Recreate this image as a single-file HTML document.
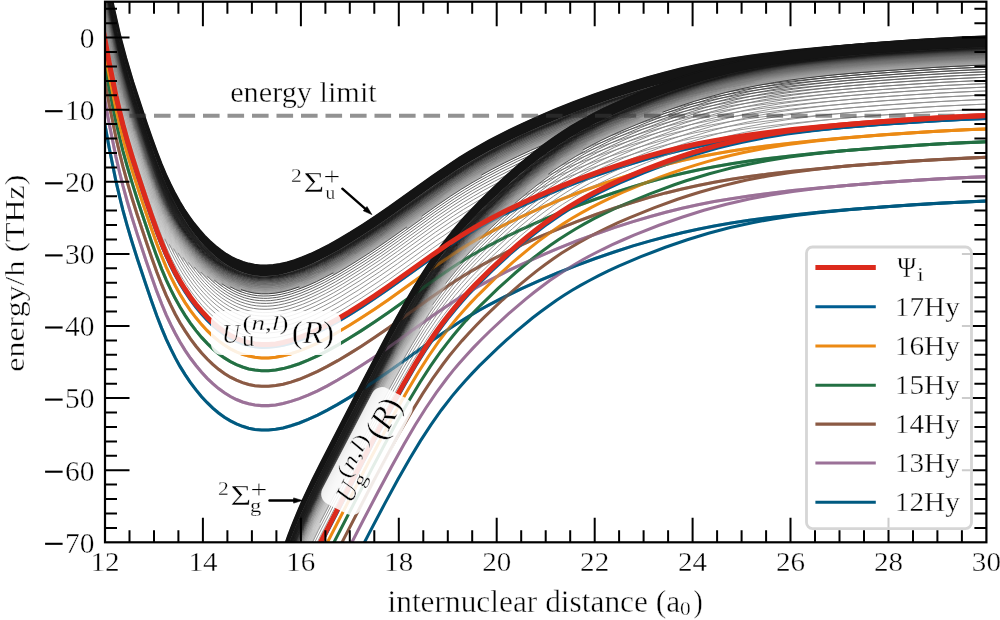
<!DOCTYPE html><html><head><meta charset="utf-8"><style>html,body{margin:0;padding:0;background:#fff;overflow:hidden}svg{display:block;will-change:transform}text{font-family:"Liberation Serif",serif;stroke:#fff;stroke-width:1.4px}</style></head><body>
<svg width="1000" height="620" viewBox="0 0 1000 620">
<rect width="1000" height="620" fill="#fff"/>
<defs><clipPath id="cp"><rect x="105" y="1.7" width="881.4" height="540.6"/></clipPath></defs>
<g clip-path="url(#cp)">
<g stroke-linejoin="round">
<path d="M96.7,-20.5 102.2,12.8 102.2,17.8 96.7,-15.4Z" fill="#909090" stroke="#909090" stroke-width="0.5"/>
<path d="M101.9,11.0 105.8,33.4 105.8,38.5 101.9,16.0Z" fill="#969696" stroke="#969696" stroke-width="0.5"/>
<path d="M105.5,31.7 109.2,51.2 109.2,56.3 105.5,36.8Z" fill="#9c9c9c" stroke="#9c9c9c" stroke-width="0.5"/>
<path d="M108.9,49.6 112.8,69.4 112.8,74.5 108.9,54.7Z" fill="#a2a2a2" stroke="#a2a2a2" stroke-width="0.5"/>
<path d="M112.5,68.0 116.2,85.0 116.2,90.0 112.5,73.0Z" fill="#a8a8a8" stroke="#a8a8a8" stroke-width="0.5"/>
<path d="M115.9,83.6 119.5,99.4 119.5,104.5 115.9,88.7Z" fill="#aeaeae" stroke="#aeaeae" stroke-width="0.5"/>
<path d="M119.2,98.2 123.1,113.9 123.1,119.0 119.2,103.2Z" fill="#b4b4b4" stroke="#b4b4b4" stroke-width="0.5"/>
<path d="M122.8,112.8 127.7,130.5 127.7,135.5 122.8,117.8Z" fill="#bababa" stroke="#bababa" stroke-width="0.5"/>
<path d="M127.4,129.4 135.3,155.4 135.3,160.4 127.4,134.5Z" fill="#c0c0c0" stroke="#c0c0c0" stroke-width="0.5"/>
<path d="M135.0,154.4 145.3,186.0 153.5,209.8 153.5,214.8 145.3,191.1 135.0,159.5Z" fill="#c6c6c6" stroke="#c6c6c6" stroke-width="0.5"/>
<path d="M153.2,208.9 158.1,222.1 162.6,233.7 162.6,238.7 158.1,227.2 153.2,214.0Z" fill="#cccccc" stroke="#cccccc" stroke-width="0.5"/>
<path d="M162.3,232.9 165.1,239.4 165.1,244.5 162.3,238.0Z" fill="#d2d2d2" stroke="#d2d2d2" stroke-width="0.5"/>
<path d="M97.3,-21.4 102.8,11.6 108.0,40.2 108.0,44.9 102.8,16.3 97.3,-16.7Z" fill="#909090" stroke="#909090" stroke-width="0.5"/>
<path d="M107.7,38.5 111.3,57.3 111.3,62.0 107.7,43.3Z" fill="#969696" stroke="#969696" stroke-width="0.5"/>
<path d="M111.0,55.8 114.3,71.9 114.3,76.6 111.0,60.5Z" fill="#9c9c9c" stroke="#9c9c9c" stroke-width="0.5"/>
<path d="M114.0,70.5 117.4,85.7 117.4,90.4 114.0,75.2Z" fill="#a2a2a2" stroke="#a2a2a2" stroke-width="0.5"/>
<path d="M117.1,84.3 120.4,98.5 120.4,103.2 117.1,89.0Z" fill="#a8a8a8" stroke="#a8a8a8" stroke-width="0.5"/>
<path d="M120.1,97.2 124.1,112.6 124.1,117.4 120.1,101.9Z" fill="#aeaeae" stroke="#aeaeae" stroke-width="0.5"/>
<path d="M123.8,111.5 128.3,127.9 128.3,132.6 123.8,116.2Z" fill="#b4b4b4" stroke="#b4b4b4" stroke-width="0.5"/>
<path d="M128.0,126.8 135.3,150.7 135.3,155.4 128.0,131.5Z" fill="#bababa" stroke="#bababa" stroke-width="0.5"/>
<path d="M135.0,149.7 144.7,179.5 152.6,202.5 152.6,207.2 144.7,184.2 135.0,154.4Z" fill="#c0c0c0" stroke="#c0c0c0" stroke-width="0.5"/>
<path d="M152.3,201.6 157.2,215.0 161.4,226.0 161.4,230.7 157.2,219.7 152.3,206.4Z" fill="#c6c6c6" stroke="#c6c6c6" stroke-width="0.5"/>
<path d="M161.1,225.2 164.8,234.0 168.4,242.2 168.4,246.9 164.8,238.7 161.1,229.9Z" fill="#cccccc" stroke="#cccccc" stroke-width="0.5"/>
<path d="M168.1,241.6 169.6,244.8 169.6,249.6 168.1,246.3Z" fill="#d2d2d2" stroke="#d2d2d2" stroke-width="0.5"/>
<path d="M98.2,-20.1 105.8,24.3 109.5,43.7 113.1,61.8 113.1,66.2 109.5,48.1 105.8,28.7 98.2,-15.7Z" fill="#909090" stroke="#909090" stroke-width="0.5"/>
<path d="M112.8,60.3 116.2,75.9 116.2,80.3 112.8,64.7Z" fill="#969696" stroke="#969696" stroke-width="0.5"/>
<path d="M115.9,74.5 118.9,87.8 118.9,92.2 115.9,78.9Z" fill="#9c9c9c" stroke="#9c9c9c" stroke-width="0.5"/>
<path d="M118.6,86.5 121.6,98.9 121.6,103.3 118.6,90.9Z" fill="#a2a2a2" stroke="#a2a2a2" stroke-width="0.5"/>
<path d="M121.3,97.7 125.0,111.6 125.0,116.0 121.3,102.1Z" fill="#a8a8a8" stroke="#a8a8a8" stroke-width="0.5"/>
<path d="M124.7,110.5 129.2,126.6 129.2,131.0 124.7,114.9Z" fill="#aeaeae" stroke="#aeaeae" stroke-width="0.5"/>
<path d="M128.9,125.6 136.5,150.1 136.5,154.5 128.9,129.9Z" fill="#b4b4b4" stroke="#b4b4b4" stroke-width="0.5"/>
<path d="M136.2,149.1 145.3,176.9 152.6,198.1 152.6,202.5 145.3,181.3 136.2,153.5Z" fill="#bababa" stroke="#bababa" stroke-width="0.5"/>
<path d="M152.3,197.3 160.5,219.3 160.5,223.7 152.3,201.6Z" fill="#c0c0c0" stroke="#c0c0c0" stroke-width="0.5"/>
<path d="M160.2,218.5 167.2,235.2 167.2,239.6 160.2,222.9Z" fill="#c6c6c6" stroke="#c6c6c6" stroke-width="0.5"/>
<path d="M166.9,234.5 173.9,249.1 173.9,253.5 166.9,238.9Z" fill="#cccccc" stroke="#cccccc" stroke-width="0.5"/>
<path d="M98.9,-20.4 103.1,4.9 107.1,26.8 111.3,48.8 115.3,67.7 115.3,71.8 111.3,52.9 107.1,30.9 103.1,9.0 98.9,-16.3Z" fill="#8a8a8a" stroke="#8a8a8a" stroke-width="0.5"/>
<path d="M114.9,66.3 117.7,78.5 117.7,82.6 114.9,70.4Z" fill="#909090" stroke="#909090" stroke-width="0.5"/>
<path d="M117.4,77.2 120.1,88.8 120.1,92.8 117.4,81.3Z" fill="#969696" stroke="#969696" stroke-width="0.5"/>
<path d="M119.8,87.5 122.8,99.6 122.8,103.7 119.8,91.6Z" fill="#9c9c9c" stroke="#9c9c9c" stroke-width="0.5"/>
<path d="M122.5,98.4 126.2,112.0 126.2,116.0 122.5,102.5Z" fill="#a2a2a2" stroke="#a2a2a2" stroke-width="0.5"/>
<path d="M125.9,110.9 130.4,126.6 130.4,130.7 125.9,114.9Z" fill="#a8a8a8" stroke="#a8a8a8" stroke-width="0.5"/>
<path d="M130.1,125.6 139.2,154.4 139.2,158.5 130.1,129.7Z" fill="#aeaeae" stroke="#aeaeae" stroke-width="0.5"/>
<path d="M138.9,153.5 146.8,177.4 153.2,195.7 153.2,199.8 146.8,181.4 138.9,157.6Z" fill="#b4b4b4" stroke="#b4b4b4" stroke-width="0.5"/>
<path d="M152.9,194.9 160.5,215.2 160.5,219.3 152.9,199.0Z" fill="#bababa" stroke="#bababa" stroke-width="0.5"/>
<path d="M160.2,214.4 166.3,229.1 166.3,233.1 160.2,218.5Z" fill="#c0c0c0" stroke="#c0c0c0" stroke-width="0.5"/>
<path d="M166.0,228.4 172.6,242.6 172.6,246.7 166.0,232.5Z" fill="#c6c6c6" stroke="#c6c6c6" stroke-width="0.5"/>
<path d="M172.3,242.0 178.4,253.5 178.4,257.5 172.3,246.1Z" fill="#cccccc" stroke="#cccccc" stroke-width="0.5"/>
<path d="M99.5,-20.5 104.6,9.7 109.5,35.8 114.3,59.7 119.2,81.2 119.2,85.0 114.3,63.5 109.5,39.6 104.6,13.5 99.5,-16.7Z" fill="#8a8a8a" stroke="#8a8a8a" stroke-width="0.5"/>
<path d="M118.9,79.9 121.6,91.1 121.6,94.9 118.9,83.7Z" fill="#909090" stroke="#909090" stroke-width="0.5"/>
<path d="M121.3,89.9 124.4,101.5 124.4,105.3 121.3,93.7Z" fill="#969696" stroke="#969696" stroke-width="0.5"/>
<path d="M124.1,100.4 127.7,113.5 127.7,117.3 124.1,104.2Z" fill="#9c9c9c" stroke="#9c9c9c" stroke-width="0.5"/>
<path d="M127.4,112.5 132.3,128.8 132.3,132.6 127.4,116.3Z" fill="#a2a2a2" stroke="#a2a2a2" stroke-width="0.5"/>
<path d="M132.0,127.8 144.1,165.4 144.1,169.2 132.0,131.6Z" fill="#a8a8a8" stroke="#a8a8a8" stroke-width="0.5"/>
<path d="M143.8,164.5 154.1,194.5 154.1,198.3 143.8,168.3Z" fill="#aeaeae" stroke="#aeaeae" stroke-width="0.5"/>
<path d="M153.8,193.6 160.8,212.2 160.8,216.0 153.8,197.4Z" fill="#b4b4b4" stroke="#b4b4b4" stroke-width="0.5"/>
<path d="M160.5,211.4 166.0,224.6 166.0,228.4 160.5,215.2Z" fill="#bababa" stroke="#bababa" stroke-width="0.5"/>
<path d="M165.7,223.9 171.7,237.0 171.7,240.8 165.7,227.7Z" fill="#c0c0c0" stroke="#c0c0c0" stroke-width="0.5"/>
<path d="M171.4,236.4 178.4,249.7 178.4,253.5 171.4,240.2Z" fill="#c6c6c6" stroke="#c6c6c6" stroke-width="0.5"/>
<path d="M178.1,249.1 183.3,257.9 183.3,261.7 178.1,252.9Z" fill="#cccccc" stroke="#cccccc" stroke-width="0.5"/>
<path d="M100.1,-20.3 105.5,11.2 110.7,38.5 116.2,64.5 121.3,86.3 121.3,89.9 116.2,68.0 110.7,42.0 105.5,14.8 100.1,-16.8Z" fill="#848484" stroke="#848484" stroke-width="0.5"/>
<path d="M121.0,85.1 123.8,95.7 123.8,99.3 121.0,88.7Z" fill="#8a8a8a" stroke="#8a8a8a" stroke-width="0.5"/>
<path d="M123.5,94.6 126.5,105.7 126.5,109.2 123.5,98.1Z" fill="#909090" stroke="#909090" stroke-width="0.5"/>
<path d="M126.2,104.6 129.8,117.2 129.8,120.8 126.2,108.2Z" fill="#969696" stroke="#969696" stroke-width="0.5"/>
<path d="M129.5,116.2 135.3,134.9 135.3,138.4 129.5,119.7Z" fill="#9c9c9c" stroke="#9c9c9c" stroke-width="0.5"/>
<path d="M135.0,133.9 148.7,175.4 148.7,178.9 135.0,137.5Z" fill="#a2a2a2" stroke="#a2a2a2" stroke-width="0.5"/>
<path d="M148.4,174.5 156.2,196.8 156.2,200.3 148.4,178.0Z" fill="#a8a8a8" stroke="#a8a8a8" stroke-width="0.5"/>
<path d="M155.9,196.0 161.7,210.9 161.7,214.5 155.9,199.5Z" fill="#aeaeae" stroke="#aeaeae" stroke-width="0.5"/>
<path d="M161.4,210.2 166.6,222.4 166.6,226.0 161.4,213.7Z" fill="#b4b4b4" stroke="#b4b4b4" stroke-width="0.5"/>
<path d="M166.3,221.7 171.7,233.5 171.7,237.0 166.3,225.3Z" fill="#bababa" stroke="#bababa" stroke-width="0.5"/>
<path d="M171.4,232.9 177.8,245.1 177.8,248.6 171.4,236.4Z" fill="#c0c0c0" stroke="#c0c0c0" stroke-width="0.5"/>
<path d="M177.5,244.5 181.2,250.9 185.1,257.2 185.1,260.7 181.2,254.4 177.5,248.0Z" fill="#c6c6c6" stroke="#c6c6c6" stroke-width="0.5"/>
<path d="M184.8,256.7 188.7,262.7 188.7,266.2 184.8,260.3Z" fill="#cccccc" stroke="#cccccc" stroke-width="0.5"/>
<path d="M100.7,-20.0 106.7,14.6 112.5,44.2 118.3,70.5 124.4,94.7 124.4,98.0 118.3,73.8 112.5,47.5 106.7,17.9 100.7,-16.7Z" fill="#787878" stroke="#787878" stroke-width="0.5"/>
<path d="M124.1,93.6 126.8,103.5 126.8,106.8 124.1,96.9Z" fill="#7e7e7e" stroke="#7e7e7e" stroke-width="0.5"/>
<path d="M126.5,102.4 129.8,114.0 129.8,117.2 126.5,105.7Z" fill="#848484" stroke="#848484" stroke-width="0.5"/>
<path d="M129.5,112.9 134.1,127.8 134.1,131.1 129.5,116.2Z" fill="#8a8a8a" stroke="#8a8a8a" stroke-width="0.5"/>
<path d="M133.8,126.8 145.6,163.1 145.6,166.4 133.8,130.1Z" fill="#909090" stroke="#909090" stroke-width="0.5"/>
<path d="M145.3,162.2 153.2,185.1 153.2,188.4 145.3,165.5Z" fill="#969696" stroke="#969696" stroke-width="0.5"/>
<path d="M152.9,184.3 158.7,199.9 158.7,203.2 152.9,187.6Z" fill="#9c9c9c" stroke="#9c9c9c" stroke-width="0.5"/>
<path d="M158.4,199.1 162.9,210.6 162.9,213.9 158.4,202.4Z" fill="#a2a2a2" stroke="#a2a2a2" stroke-width="0.5"/>
<path d="M162.6,209.9 167.2,220.5 167.2,223.8 162.6,213.2Z" fill="#a8a8a8" stroke="#a8a8a8" stroke-width="0.5"/>
<path d="M166.9,219.8 171.4,229.6 171.4,232.9 166.9,223.1Z" fill="#aeaeae" stroke="#aeaeae" stroke-width="0.5"/>
<path d="M171.1,228.9 176.6,239.6 176.6,242.9 171.1,232.2Z" fill="#b4b4b4" stroke="#b4b4b4" stroke-width="0.5"/>
<path d="M176.3,239.0 182.4,249.6 182.4,252.9 176.3,242.3Z" fill="#bababa" stroke="#bababa" stroke-width="0.5"/>
<path d="M182.1,249.1 189.4,260.3 189.4,263.5 182.1,252.4Z" fill="#c0c0c0" stroke="#c0c0c0" stroke-width="0.5"/>
<path d="M189.0,259.8 194.5,267.3 194.5,270.6 189.0,263.1Z" fill="#c6c6c6" stroke="#c6c6c6" stroke-width="0.5"/>
<path d="M101.3,-19.4 108.6,21.2 115.6,55.4 118.9,70.1 122.5,84.8 126.2,98.3 130.4,112.9 130.4,116.0 126.2,101.4 122.5,87.8 118.9,73.1 115.6,58.5 108.6,24.3 101.3,-16.4Z" fill="#727272" stroke="#727272" stroke-width="0.5"/>
<path d="M130.1,111.9 134.4,125.7 134.4,128.7 130.1,115.0Z" fill="#787878" stroke="#787878" stroke-width="0.5"/>
<path d="M134.1,124.7 144.4,156.5 144.4,159.5 134.1,127.8Z" fill="#7e7e7e" stroke="#7e7e7e" stroke-width="0.5"/>
<path d="M144.1,155.5 151.7,177.8 151.7,180.9 144.1,158.6Z" fill="#848484" stroke="#848484" stroke-width="0.5"/>
<path d="M151.4,176.9 156.9,192.1 156.9,195.1 151.4,180.0Z" fill="#8a8a8a" stroke="#8a8a8a" stroke-width="0.5"/>
<path d="M156.6,191.2 160.8,202.3 160.8,205.4 156.6,194.3Z" fill="#909090" stroke="#909090" stroke-width="0.5"/>
<path d="M160.5,201.6 164.4,211.2 164.4,214.3 160.5,204.6Z" fill="#969696" stroke="#969696" stroke-width="0.5"/>
<path d="M164.1,210.5 168.1,219.5 168.1,222.5 164.1,213.5Z" fill="#9c9c9c" stroke="#9c9c9c" stroke-width="0.5"/>
<path d="M167.8,218.8 171.7,227.1 171.7,230.2 167.8,221.8Z" fill="#a2a2a2" stroke="#a2a2a2" stroke-width="0.5"/>
<path d="M171.4,226.5 176.3,236.0 176.3,239.0 171.4,229.6Z" fill="#a8a8a8" stroke="#a8a8a8" stroke-width="0.5"/>
<path d="M176.0,235.4 181.2,244.5 181.2,247.6 176.0,238.4Z" fill="#aeaeae" stroke="#aeaeae" stroke-width="0.5"/>
<path d="M180.8,244.0 186.6,253.2 186.6,256.3 180.8,247.1Z" fill="#b4b4b4" stroke="#b4b4b4" stroke-width="0.5"/>
<path d="M186.3,252.7 193.9,263.5 193.9,266.5 186.3,255.8Z" fill="#bababa" stroke="#bababa" stroke-width="0.5"/>
<path d="M193.6,263.1 201.2,272.4 201.2,275.5 193.6,266.1Z" fill="#c0c0c0" stroke="#c0c0c0" stroke-width="0.5"/>
<path d="M101.9,-18.7 106.1,5.4 110.1,26.2 114.0,45.5 118.0,63.3 121.9,79.5 125.9,94.4 130.4,110.1 135.6,126.7 135.6,129.5 130.4,112.9 125.9,97.2 121.9,82.4 118.0,66.2 114.0,48.4 110.1,29.1 106.1,8.2 101.9,-15.8Z" fill="#666666" stroke="#666666" stroke-width="0.5"/>
<path d="M135.3,125.7 145.6,157.2 145.6,160.1 135.3,128.6Z" fill="#6c6c6c" stroke="#6c6c6c" stroke-width="0.5"/>
<path d="M145.3,156.3 151.7,175.0 151.7,177.8 145.3,159.2Z" fill="#727272" stroke="#727272" stroke-width="0.5"/>
<path d="M151.4,174.1 155.9,186.8 155.9,189.6 151.4,176.9Z" fill="#787878" stroke="#787878" stroke-width="0.5"/>
<path d="M155.6,185.9 159.6,196.4 159.6,199.2 155.6,188.8Z" fill="#7e7e7e" stroke="#7e7e7e" stroke-width="0.5"/>
<path d="M159.3,195.6 162.9,204.7 162.9,207.6 159.3,198.4Z" fill="#848484" stroke="#848484" stroke-width="0.5"/>
<path d="M162.6,204.0 166.0,211.9 166.0,214.7 162.6,206.8Z" fill="#8a8a8a" stroke="#8a8a8a" stroke-width="0.5"/>
<path d="M165.7,211.2 169.3,219.2 169.3,222.1 165.7,214.0Z" fill="#909090" stroke="#909090" stroke-width="0.5"/>
<path d="M169.0,218.6 172.6,226.1 172.6,229.0 169.0,221.4Z" fill="#969696" stroke="#969696" stroke-width="0.5"/>
<path d="M172.3,225.5 176.6,233.7 176.6,236.5 172.3,228.4Z" fill="#9c9c9c" stroke="#9c9c9c" stroke-width="0.5"/>
<path d="M176.3,233.1 180.8,241.2 180.8,244.0 176.3,236.0Z" fill="#a2a2a2" stroke="#a2a2a2" stroke-width="0.5"/>
<path d="M180.5,240.6 185.4,248.5 185.4,251.3 180.5,243.5Z" fill="#a8a8a8" stroke="#a8a8a8" stroke-width="0.5"/>
<path d="M185.1,248.0 191.2,256.9 191.2,259.8 185.1,250.9Z" fill="#aeaeae" stroke="#aeaeae" stroke-width="0.5"/>
<path d="M190.9,256.5 198.5,266.4 198.5,269.2 190.9,259.3Z" fill="#b4b4b4" stroke="#b4b4b4" stroke-width="0.5"/>
<path d="M198.2,266.0 202.1,270.6 206.4,275.2 206.4,278.1 202.1,273.5 198.2,268.8Z" fill="#bababa" stroke="#bababa" stroke-width="0.5"/>
<path d="M206.1,274.9 207.6,276.5 207.6,279.3 206.1,277.8Z" fill="#c0c0c0" stroke="#c0c0c0" stroke-width="0.5"/>
<path d="M102.5,-17.8 107.4,9.3 112.2,34.2 117.1,56.7 121.6,75.7 126.5,93.9 132.0,112.4 139.2,135.3 148.4,162.7 148.4,165.3 139.2,137.9 132.0,115.1 126.5,96.5 121.6,78.4 117.1,59.4 112.2,36.8 107.4,12.0 102.5,-15.1Z" fill="#5a5a5a" stroke="#5a5a5a" stroke-width="0.5"/>
<path d="M148.0,161.8 153.2,176.6 153.2,179.2 148.0,164.4Z" fill="#606060" stroke="#606060" stroke-width="0.5"/>
<path d="M152.9,175.7 156.9,186.6 156.9,189.2 152.9,178.4Z" fill="#666666" stroke="#666666" stroke-width="0.5"/>
<path d="M156.6,185.8 159.9,194.5 159.9,197.2 156.6,188.4Z" fill="#6c6c6c" stroke="#6c6c6c" stroke-width="0.5"/>
<path d="M159.6,193.7 162.6,201.3 162.6,204.0 159.6,196.4Z" fill="#727272" stroke="#727272" stroke-width="0.5"/>
<path d="M162.3,200.6 165.4,207.8 165.4,210.5 162.3,203.3Z" fill="#787878" stroke="#787878" stroke-width="0.5"/>
<path d="M165.1,207.1 168.1,214.0 168.1,216.6 165.1,209.8Z" fill="#7e7e7e" stroke="#7e7e7e" stroke-width="0.5"/>
<path d="M167.8,213.3 171.1,220.4 171.1,223.0 167.8,215.9Z" fill="#848484" stroke="#848484" stroke-width="0.5"/>
<path d="M170.8,219.8 174.2,226.4 174.2,229.1 170.8,222.4Z" fill="#8a8a8a" stroke="#8a8a8a" stroke-width="0.5"/>
<path d="M173.9,225.9 177.8,233.2 177.8,235.9 173.9,228.5Z" fill="#909090" stroke="#909090" stroke-width="0.5"/>
<path d="M177.5,232.7 181.5,239.5 181.5,242.2 177.5,235.3Z" fill="#969696" stroke="#969696" stroke-width="0.5"/>
<path d="M181.2,239.0 185.7,246.3 185.7,249.0 181.2,241.7Z" fill="#9c9c9c" stroke="#9c9c9c" stroke-width="0.5"/>
<path d="M185.4,245.9 190.9,253.9 190.9,256.5 185.4,248.5Z" fill="#a2a2a2" stroke="#a2a2a2" stroke-width="0.5"/>
<path d="M190.6,253.4 196.6,261.5 196.6,264.1 190.6,256.1Z" fill="#a8a8a8" stroke="#a8a8a8" stroke-width="0.5"/>
<path d="M196.3,261.1 203.3,269.3 203.3,272.0 196.3,263.7Z" fill="#aeaeae" stroke="#aeaeae" stroke-width="0.5"/>
<path d="M203.0,269.0 210.9,277.1 210.9,279.7 203.0,271.6Z" fill="#b4b4b4" stroke="#b4b4b4" stroke-width="0.5"/>
<path d="M210.6,276.8 214.6,280.4 214.6,283.0 210.6,279.4Z" fill="#bababa" stroke="#bababa" stroke-width="0.5"/>
<path d="M102.8,-18.5 108.3,11.7 113.4,37.6 118.6,60.8 123.8,81.4 129.5,101.9 136.5,124.4 147.7,158.4 156.6,183.3 156.6,185.8 147.7,160.9 136.5,126.9 129.5,104.4 123.8,83.9 118.6,63.3 113.4,40.0 108.3,14.2 102.8,-16.0Z" fill="#4e4e4e" stroke="#4e4e4e" stroke-width="0.5"/>
<path d="M156.2,182.5 159.3,190.5 159.3,193.0 156.2,184.9Z" fill="#545454" stroke="#545454" stroke-width="0.5"/>
<path d="M159.0,189.7 161.7,196.6 161.7,199.1 159.0,192.2Z" fill="#5a5a5a" stroke="#5a5a5a" stroke-width="0.5"/>
<path d="M161.4,195.9 164.1,202.5 164.1,205.0 161.4,198.4Z" fill="#606060" stroke="#606060" stroke-width="0.5"/>
<path d="M163.8,201.8 166.6,208.1 166.6,210.6 163.8,204.3Z" fill="#666666" stroke="#666666" stroke-width="0.5"/>
<path d="M166.3,207.5 169.0,213.5 169.0,215.9 166.3,209.9Z" fill="#6c6c6c" stroke="#6c6c6c" stroke-width="0.5"/>
<path d="M168.7,212.8 171.4,218.6 171.4,221.0 168.7,215.3Z" fill="#727272" stroke="#727272" stroke-width="0.5"/>
<path d="M171.1,217.9 174.2,224.0 174.2,226.4 171.1,220.4Z" fill="#787878" stroke="#787878" stroke-width="0.5"/>
<path d="M173.9,223.4 177.2,229.7 177.2,232.1 173.9,225.9Z" fill="#7e7e7e" stroke="#7e7e7e" stroke-width="0.5"/>
<path d="M176.9,229.1 180.2,235.0 180.2,237.5 176.9,231.6Z" fill="#848484" stroke="#848484" stroke-width="0.5"/>
<path d="M179.9,234.5 183.9,241.0 183.9,243.5 179.9,237.0Z" fill="#8a8a8a" stroke="#8a8a8a" stroke-width="0.5"/>
<path d="M183.6,240.5 187.8,247.1 187.8,249.5 183.6,243.0Z" fill="#909090" stroke="#909090" stroke-width="0.5"/>
<path d="M187.5,246.6 192.4,253.5 192.4,255.9 187.5,249.1Z" fill="#969696" stroke="#969696" stroke-width="0.5"/>
<path d="M192.1,253.1 197.9,260.5 197.9,263.0 192.1,255.5Z" fill="#9c9c9c" stroke="#9c9c9c" stroke-width="0.5"/>
<path d="M197.6,260.1 203.6,267.2 203.6,269.7 197.6,262.6Z" fill="#a2a2a2" stroke="#a2a2a2" stroke-width="0.5"/>
<path d="M203.3,266.9 210.0,273.8 210.0,276.2 203.3,269.3Z" fill="#a8a8a8" stroke="#a8a8a8" stroke-width="0.5"/>
<path d="M209.7,273.5 217.3,280.2 217.3,282.6 209.7,275.9Z" fill="#aeaeae" stroke="#aeaeae" stroke-width="0.5"/>
<path d="M217.0,279.9 222.2,283.9 222.2,286.3 217.0,282.4Z" fill="#b4b4b4" stroke="#b4b4b4" stroke-width="0.5"/>
<path d="M406.5,227.2 422.0,216.1 422.0,218.5 406.5,229.7Z" fill="#b4b4b4" stroke="#b4b4b4" stroke-width="0.5"/>
<path d="M103.1,-19.0 108.9,12.6 114.3,39.6 119.8,63.6 125.3,84.8 132.9,110.6 144.1,145.3 153.5,172.7 161.7,194.4 161.7,196.6 153.5,175.0 144.1,147.6 132.9,112.9 125.3,87.1 119.8,65.9 114.3,41.9 108.9,14.9 103.1,-16.7Z" fill="#424242" stroke="#424242" stroke-width="0.5"/>
<path d="M161.4,193.6 163.8,199.5 163.8,201.8 161.4,195.9Z" fill="#484848" stroke="#484848" stroke-width="0.5"/>
<path d="M163.5,198.8 165.7,203.8 165.7,206.1 163.5,201.1Z" fill="#4e4e4e" stroke="#4e4e4e" stroke-width="0.5"/>
<path d="M165.4,203.1 167.8,208.5 167.8,210.8 165.4,205.4Z" fill="#545454" stroke="#545454" stroke-width="0.5"/>
<path d="M167.5,207.9 169.9,213.1 169.9,215.4 167.5,210.2Z" fill="#5a5a5a" stroke="#5a5a5a" stroke-width="0.5"/>
<path d="M169.6,212.5 172.3,218.1 172.3,220.4 169.6,214.8Z" fill="#606060" stroke="#606060" stroke-width="0.5"/>
<path d="M172.0,217.5 174.8,222.9 174.8,225.2 172.0,219.8Z" fill="#666666" stroke="#666666" stroke-width="0.5"/>
<path d="M174.5,222.3 177.2,227.4 177.2,229.7 174.5,224.6Z" fill="#6c6c6c" stroke="#6c6c6c" stroke-width="0.5"/>
<path d="M176.9,226.8 179.9,232.2 179.9,234.5 176.9,229.1Z" fill="#727272" stroke="#727272" stroke-width="0.5"/>
<path d="M179.6,231.7 183.0,237.3 183.0,239.6 179.6,234.0Z" fill="#787878" stroke="#787878" stroke-width="0.5"/>
<path d="M182.7,236.8 186.3,242.5 186.3,244.8 182.7,239.1Z" fill="#7e7e7e" stroke="#7e7e7e" stroke-width="0.5"/>
<path d="M186.0,242.0 190.3,248.3 190.3,250.5 186.0,244.3Z" fill="#848484" stroke="#848484" stroke-width="0.5"/>
<path d="M190.0,247.8 194.5,254.0 194.5,256.3 190.0,250.1Z" fill="#8a8a8a" stroke="#8a8a8a" stroke-width="0.5"/>
<path d="M194.2,253.6 199.4,260.1 199.4,262.4 194.2,255.9Z" fill="#909090" stroke="#909090" stroke-width="0.5"/>
<path d="M199.1,259.7 204.5,265.9 204.5,268.2 199.1,262.0Z" fill="#969696" stroke="#969696" stroke-width="0.5"/>
<path d="M204.2,265.6 210.3,271.8 210.3,274.0 204.2,267.9Z" fill="#9c9c9c" stroke="#9c9c9c" stroke-width="0.5"/>
<path d="M210.0,271.5 216.7,277.4 216.7,279.7 210.0,273.8Z" fill="#a2a2a2" stroke="#a2a2a2" stroke-width="0.5"/>
<path d="M216.4,277.2 224.0,282.9 224.0,285.1 216.4,279.4Z" fill="#a8a8a8" stroke="#a8a8a8" stroke-width="0.5"/>
<path d="M223.7,282.7 230.7,287.0 230.7,289.3 223.7,284.9Z" fill="#aeaeae" stroke="#aeaeae" stroke-width="0.5"/>
<path d="M333.0,273.0 343.6,266.9 355.2,259.8 367.3,252.0 380.4,243.3 380.4,245.5 367.3,254.3 355.2,262.1 343.6,269.2 333.0,275.3Z" fill="#aeaeae" stroke="#aeaeae" stroke-width="0.5"/>
<path d="M380.1,243.5 396.2,232.3 429.6,208.3 444.5,198.0 444.5,200.3 429.6,210.6 396.2,234.6 380.1,245.8Z" fill="#a8a8a8" stroke="#a8a8a8" stroke-width="0.5"/>
<path d="M444.2,198.2 453.9,191.7 462.7,186.1 472.1,180.4 481.8,174.8 481.8,177.1 472.1,182.7 462.7,188.4 453.9,194.0 444.2,200.5Z" fill="#aeaeae" stroke="#aeaeae" stroke-width="0.5"/>
<path d="M103.7,-17.7 109.8,15.1 115.6,43.0 121.3,67.6 127.4,90.2 131.3,103.6 136.2,119.0 150.2,161.1 159.3,186.1 163.5,196.7 167.5,205.7 167.5,207.9 163.5,198.8 159.3,188.2 150.2,163.2 136.2,121.2 131.3,105.7 127.4,92.3 121.3,69.8 115.6,45.2 109.8,17.3 103.7,-15.6Z" fill="#3c3c3c" stroke="#3c3c3c" stroke-width="0.5"/>
<path d="M167.2,205.1 169.3,209.7 169.3,211.8 167.2,207.2Z" fill="#424242" stroke="#424242" stroke-width="0.5"/>
<path d="M169.0,209.1 171.4,214.1 171.4,216.3 169.0,211.2Z" fill="#484848" stroke="#484848" stroke-width="0.5"/>
<path d="M171.1,213.5 173.6,218.4 173.6,220.5 171.1,215.6Z" fill="#4e4e4e" stroke="#4e4e4e" stroke-width="0.5"/>
<path d="M173.3,217.8 175.7,222.4 175.7,224.6 173.3,219.9Z" fill="#545454" stroke="#545454" stroke-width="0.5"/>
<path d="M175.4,221.9 177.8,226.3 177.8,228.5 175.4,224.0Z" fill="#5a5a5a" stroke="#5a5a5a" stroke-width="0.5"/>
<path d="M177.5,225.8 180.5,231.1 180.5,233.2 177.5,227.9Z" fill="#606060" stroke="#606060" stroke-width="0.5"/>
<path d="M180.2,230.6 183.0,235.1 183.0,237.3 180.2,232.7Z" fill="#666666" stroke="#666666" stroke-width="0.5"/>
<path d="M182.7,234.6 186.0,239.9 186.0,242.0 182.7,236.8Z" fill="#6c6c6c" stroke="#6c6c6c" stroke-width="0.5"/>
<path d="M185.7,239.4 189.4,244.8 189.4,247.0 185.7,241.6Z" fill="#727272" stroke="#727272" stroke-width="0.5"/>
<path d="M189.0,244.4 193.0,249.9 193.0,252.0 189.0,246.5Z" fill="#787878" stroke="#787878" stroke-width="0.5"/>
<path d="M192.7,249.5 197.2,255.3 197.2,257.5 192.7,251.6Z" fill="#7e7e7e" stroke="#7e7e7e" stroke-width="0.5"/>
<path d="M196.9,255.0 201.5,260.4 201.5,262.5 196.9,257.1Z" fill="#848484" stroke="#848484" stroke-width="0.5"/>
<path d="M201.2,260.1 206.1,265.4 206.1,267.5 201.2,262.2Z" fill="#8a8a8a" stroke="#8a8a8a" stroke-width="0.5"/>
<path d="M205.8,265.1 211.2,270.5 211.2,272.6 205.8,267.2Z" fill="#909090" stroke="#909090" stroke-width="0.5"/>
<path d="M210.9,270.2 217.0,275.5 217.0,277.6 210.9,272.3Z" fill="#969696" stroke="#969696" stroke-width="0.5"/>
<path d="M216.7,275.3 223.4,280.3 223.4,282.4 216.7,277.4Z" fill="#9c9c9c" stroke="#9c9c9c" stroke-width="0.5"/>
<path d="M223.1,280.1 227.0,282.7 231.3,285.2 231.3,287.3 227.0,284.8 223.1,282.2Z" fill="#a2a2a2" stroke="#a2a2a2" stroke-width="0.5"/>
<path d="M231.0,285.0 236.1,287.6 241.3,289.7 241.3,291.9 236.1,289.7 231.0,287.1Z" fill="#a8a8a8" stroke="#a8a8a8" stroke-width="0.5"/>
<path d="M299.0,286.9 306.6,283.9 314.2,280.6 322.4,276.6 330.9,272.1 330.9,274.2 322.4,278.7 314.2,282.7 306.6,286.1 299.0,289.1Z" fill="#a8a8a8" stroke="#a8a8a8" stroke-width="0.5"/>
<path d="M330.6,272.2 343.0,265.1 357.0,256.5 371.6,247.1 387.4,236.3 387.4,238.5 371.6,249.2 357.0,258.6 343.0,267.2 330.6,274.4Z" fill="#a2a2a2" stroke="#a2a2a2" stroke-width="0.5"/>
<path d="M387.1,236.5 439.6,199.2 439.6,201.3 387.1,238.7Z" fill="#9c9c9c" stroke="#9c9c9c" stroke-width="0.5"/>
<path d="M439.3,199.4 451.1,191.3 462.1,184.3 473.3,177.5 485.2,170.8 485.2,173.0 473.3,179.7 462.1,186.5 451.1,193.5 439.3,201.5Z" fill="#a2a2a2" stroke="#a2a2a2" stroke-width="0.5"/>
<path d="M484.8,171.0 495.8,165.2 507.3,159.3 519.5,153.5 532.5,147.5 545.6,141.8 558.6,136.3 572.3,130.9 586.0,125.7 586.0,127.9 572.3,133.0 558.6,138.5 545.6,143.9 532.5,149.6 519.5,155.6 507.3,161.4 495.8,167.3 484.8,173.1Z" fill="#a8a8a8" stroke="#a8a8a8" stroke-width="0.5"/>
<path d="M104.0,-17.9 110.1,14.7 116.2,43.8 121.9,68.0 128.6,92.4 133.5,108.4 139.8,128.3 147.1,150.2 153.2,167.7 157.8,180.1 162.3,191.7 166.6,201.7 171.1,211.5 171.1,213.5 166.6,203.7 162.3,193.7 157.8,182.1 153.2,169.7 147.1,152.2 139.8,130.3 133.5,110.4 128.6,94.4 121.9,70.0 116.2,45.8 110.1,16.7 104.0,-16.0Z" fill="#303030" stroke="#303030" stroke-width="0.5"/>
<path d="M170.8,210.9 173.0,215.2 173.0,217.2 170.8,212.9Z" fill="#363636" stroke="#363636" stroke-width="0.5"/>
<path d="M172.6,214.6 174.8,218.7 174.8,220.7 172.6,216.6Z" fill="#3c3c3c" stroke="#3c3c3c" stroke-width="0.5"/>
<path d="M174.5,218.2 176.9,222.7 176.9,224.7 174.5,220.1Z" fill="#424242" stroke="#424242" stroke-width="0.5"/>
<path d="M176.6,222.2 179.0,226.5 179.0,228.5 176.6,224.1Z" fill="#484848" stroke="#484848" stroke-width="0.5"/>
<path d="M178.7,226.0 181.2,230.2 181.2,232.1 178.7,228.0Z" fill="#4e4e4e" stroke="#4e4e4e" stroke-width="0.5"/>
<path d="M180.8,229.6 183.6,234.1 183.6,236.1 180.8,231.6Z" fill="#545454" stroke="#545454" stroke-width="0.5"/>
<path d="M183.3,233.6 186.3,238.4 186.3,240.4 183.3,235.6Z" fill="#5a5a5a" stroke="#5a5a5a" stroke-width="0.5"/>
<path d="M186.0,237.9 189.4,242.8 189.4,244.8 186.0,239.9Z" fill="#606060" stroke="#606060" stroke-width="0.5"/>
<path d="M189.0,242.4 192.4,247.1 192.4,249.1 189.0,244.4Z" fill="#666666" stroke="#666666" stroke-width="0.5"/>
<path d="M192.1,246.7 196.0,251.8 196.0,253.8 192.1,248.6Z" fill="#6c6c6c" stroke="#6c6c6c" stroke-width="0.5"/>
<path d="M195.7,251.5 200.0,256.7 200.0,258.6 195.7,253.4Z" fill="#727272" stroke="#727272" stroke-width="0.5"/>
<path d="M199.7,256.3 203.9,261.1 203.9,263.1 199.7,258.3Z" fill="#787878" stroke="#787878" stroke-width="0.5"/>
<path d="M203.6,260.8 208.2,265.6 208.2,267.6 203.6,262.8Z" fill="#7e7e7e" stroke="#7e7e7e" stroke-width="0.5"/>
<path d="M207.9,265.3 212.7,269.9 212.7,271.9 207.9,267.2Z" fill="#848484" stroke="#848484" stroke-width="0.5"/>
<path d="M212.4,269.6 217.9,274.3 217.9,276.3 212.4,271.6Z" fill="#8a8a8a" stroke="#8a8a8a" stroke-width="0.5"/>
<path d="M217.6,274.0 223.7,278.5 223.7,280.5 217.6,276.0Z" fill="#909090" stroke="#909090" stroke-width="0.5"/>
<path d="M223.4,278.3 230.7,282.9 230.7,284.8 223.4,280.3Z" fill="#969696" stroke="#969696" stroke-width="0.5"/>
<path d="M230.4,282.7 234.9,285.1 239.5,287.0 239.5,289.0 234.9,287.0 230.4,284.7Z" fill="#9c9c9c" stroke="#9c9c9c" stroke-width="0.5"/>
<path d="M239.2,286.9 243.1,288.4 247.1,289.6 251.0,290.5 255.3,291.3 255.3,293.3 251.0,292.5 247.1,291.6 243.1,290.4 239.2,288.9Z" fill="#a2a2a2" stroke="#a2a2a2" stroke-width="0.5"/>
<path d="M255.0,291.2 260.1,291.8 265.3,291.9 270.4,291.7 275.9,291.1 275.9,293.1 270.4,293.7 265.3,293.9 260.1,293.8 255.0,293.2Z" fill="#a8a8a8" stroke="#a8a8a8" stroke-width="0.5"/>
<path d="M275.6,291.1 282.3,289.9 289.0,288.2 296.3,285.9 303.8,283.1 303.8,285.1 296.3,287.9 289.0,290.2 282.3,291.9 275.6,293.1Z" fill="#a2a2a2" stroke="#a2a2a2" stroke-width="0.5"/>
<path d="M303.5,283.2 310.5,280.2 317.8,276.9 325.1,273.2 333.0,268.9 333.0,270.9 325.1,275.2 317.8,278.8 310.5,282.2 303.5,285.2Z" fill="#9c9c9c" stroke="#9c9c9c" stroke-width="0.5"/>
<path d="M332.7,269.1 343.6,262.8 356.1,255.1 368.8,246.9 382.5,237.7 382.5,239.7 368.8,248.9 356.1,257.1 343.6,264.7 332.7,271.1Z" fill="#969696" stroke="#969696" stroke-width="0.5"/>
<path d="M382.2,237.9 397.1,227.5 428.7,204.9 442.9,194.9 442.9,196.9 428.7,206.9 397.1,229.5 382.2,239.9Z" fill="#909090" stroke="#909090" stroke-width="0.5"/>
<path d="M442.6,195.1 453.0,188.2 462.4,182.1 472.1,176.3 482.1,170.5 482.1,172.5 472.1,178.3 462.4,184.1 453.0,190.1 442.6,197.1Z" fill="#969696" stroke="#969696" stroke-width="0.5"/>
<path d="M481.8,170.7 499.7,161.1 519.5,151.5 541.0,141.8 562.9,132.6 562.9,134.6 541.0,143.7 519.5,153.5 499.7,163.1 481.8,172.7Z" fill="#9c9c9c" stroke="#9c9c9c" stroke-width="0.5"/>
<path d="M562.6,132.8 586.3,123.6 610.6,115.1 634.3,107.4 657.3,100.8 679.5,95.1 701.1,90.4 723.9,86.1 747.8,82.4 747.8,84.3 723.9,88.1 701.1,92.3 679.5,97.1 657.3,102.7 634.3,109.4 610.6,117.0 586.3,125.6 562.6,134.7Z" fill="#a2a2a2" stroke="#a2a2a2" stroke-width="0.5"/>
<path d="M747.5,82.4 772.1,79.2 800.1,76.1 835.9,72.6 872.1,69.6 905.8,67.1 939.5,65.1 972.9,63.4 1006.0,62.2 1006.0,64.2 972.9,65.4 939.5,67.1 905.8,69.1 872.1,71.6 835.9,74.6 800.1,78.1 772.1,81.2 747.5,84.4Z" fill="#a8a8a8" stroke="#a8a8a8" stroke-width="0.5"/>
<path d="M104.3,-18.1 110.7,15.9 117.1,46.0 123.1,70.9 130.1,95.7 135.6,113.3 143.8,138.4 150.2,157.3 155.6,172.6 160.5,185.3 165.1,196.4 169.9,207.2 174.8,216.9 174.8,218.7 169.9,209.0 165.1,198.3 160.5,187.2 155.6,174.4 150.2,159.1 143.8,140.3 135.6,115.1 130.1,97.6 123.1,72.7 117.1,47.8 110.7,17.8 104.3,-16.2Z" fill="#242424" stroke="#242424" stroke-width="0.5"/>
<path d="M174.5,216.3 176.6,220.3 176.6,222.2 174.5,218.2Z" fill="#2a2a2a" stroke="#2a2a2a" stroke-width="0.5"/>
<path d="M176.3,219.7 178.4,223.6 178.4,225.4 176.3,221.6Z" fill="#303030" stroke="#303030" stroke-width="0.5"/>
<path d="M178.1,223.1 180.2,226.8 180.2,228.6 178.1,224.9Z" fill="#363636" stroke="#363636" stroke-width="0.5"/>
<path d="M179.9,226.2 182.4,230.3 182.4,232.2 179.9,228.1Z" fill="#3c3c3c" stroke="#3c3c3c" stroke-width="0.5"/>
<path d="M182.1,229.8 184.8,234.2 184.8,236.0 182.1,231.7Z" fill="#424242" stroke="#424242" stroke-width="0.5"/>
<path d="M184.5,233.7 187.2,237.9 187.2,239.7 184.5,235.6Z" fill="#484848" stroke="#484848" stroke-width="0.5"/>
<path d="M186.9,237.4 189.7,241.4 189.7,243.3 186.9,239.3Z" fill="#4e4e4e" stroke="#4e4e4e" stroke-width="0.5"/>
<path d="M189.4,241.0 192.7,245.6 192.7,247.5 189.4,242.8Z" fill="#545454" stroke="#545454" stroke-width="0.5"/>
<path d="M192.4,245.2 196.0,250.0 196.0,251.8 192.4,247.1Z" fill="#5a5a5a" stroke="#5a5a5a" stroke-width="0.5"/>
<path d="M195.7,249.6 199.4,254.1 199.4,255.9 195.7,251.5Z" fill="#606060" stroke="#606060" stroke-width="0.5"/>
<path d="M199.1,253.7 202.7,257.9 202.7,259.8 199.1,255.6Z" fill="#666666" stroke="#666666" stroke-width="0.5"/>
<path d="M202.4,257.6 206.7,262.2 206.7,264.0 202.4,259.5Z" fill="#6c6c6c" stroke="#6c6c6c" stroke-width="0.5"/>
<path d="M206.4,261.9 210.6,266.1 210.6,267.9 206.4,263.7Z" fill="#727272" stroke="#727272" stroke-width="0.5"/>
<path d="M210.3,265.8 214.9,269.9 214.9,271.8 210.3,267.6Z" fill="#787878" stroke="#787878" stroke-width="0.5"/>
<path d="M214.6,269.6 219.7,273.8 219.7,275.7 214.6,271.5Z" fill="#7e7e7e" stroke="#7e7e7e" stroke-width="0.5"/>
<path d="M219.4,273.6 224.9,277.5 224.9,279.4 219.4,275.5Z" fill="#848484" stroke="#848484" stroke-width="0.5"/>
<path d="M224.6,277.3 231.3,281.3 231.3,283.2 224.6,279.2Z" fill="#8a8a8a" stroke="#8a8a8a" stroke-width="0.5"/>
<path d="M231.0,281.2 234.9,283.2 239.2,285.1 239.2,286.9 234.9,285.1 231.0,283.0Z" fill="#909090" stroke="#909090" stroke-width="0.5"/>
<path d="M238.9,285.0 245.2,287.2 251.6,288.8 251.6,290.7 245.2,289.1 238.9,286.8Z" fill="#969696" stroke="#969696" stroke-width="0.5"/>
<path d="M251.3,288.8 258.3,289.8 265.3,290.1 272.6,289.7 280.5,288.5 280.5,290.3 272.6,291.5 265.3,291.9 258.3,291.6 251.3,290.6Z" fill="#9c9c9c" stroke="#9c9c9c" stroke-width="0.5"/>
<path d="M280.2,288.5 285.9,287.2 292.0,285.5 298.1,283.4 304.8,280.9 304.8,282.7 298.1,285.3 292.0,287.3 285.9,289.1 280.2,290.4Z" fill="#969696" stroke="#969696" stroke-width="0.5"/>
<path d="M304.5,281.0 316.9,275.4 330.3,268.6 330.3,270.4 316.9,277.3 304.5,282.8Z" fill="#909090" stroke="#909090" stroke-width="0.5"/>
<path d="M330.0,268.7 339.1,263.6 348.8,257.8 370.7,243.8 370.7,245.7 348.8,259.6 339.1,265.4 330.0,270.6Z" fill="#8a8a8a" stroke="#8a8a8a" stroke-width="0.5"/>
<path d="M370.4,244.0 391.3,229.7 432.9,200.0 451.1,187.5 451.1,189.4 432.9,201.9 391.3,231.6 370.4,245.9Z" fill="#848484" stroke="#848484" stroke-width="0.5"/>
<path d="M450.8,187.7 468.1,176.8 486.1,166.5 486.1,168.4 468.1,178.6 450.8,189.6Z" fill="#8a8a8a" stroke="#8a8a8a" stroke-width="0.5"/>
<path d="M485.8,166.7 502.2,158.1 520.1,149.4 539.5,140.6 559.3,132.3 559.3,134.1 539.5,142.4 520.1,151.2 502.2,159.9 485.8,168.5Z" fill="#909090" stroke="#909090" stroke-width="0.5"/>
<path d="M558.9,132.4 577.5,125.1 596.3,118.2 615.1,111.7 633.7,105.8 651.6,100.5 669.5,95.7 687.1,91.5 704.4,87.8 704.4,89.7 687.1,93.4 669.5,97.6 651.6,102.4 633.7,107.6 615.1,113.5 596.3,120.0 577.5,126.9 558.9,134.2Z" fill="#969696" stroke="#969696" stroke-width="0.5"/>
<path d="M704.1,87.9 717.2,85.4 730.8,83.1 760.0,78.9 792.2,75.1 832.6,71.1 876.6,67.4 920.0,64.4 963.2,62.0 1006.0,60.3 1006.0,62.2 963.2,63.9 920.0,66.2 876.6,69.2 832.6,72.9 792.2,76.9 760.0,80.7 730.8,84.9 717.2,87.3 704.1,89.7Z" fill="#9c9c9c" stroke="#9c9c9c" stroke-width="0.5"/>
<path d="M104.6,-18.1 111.6,18.8 118.3,49.5 121.6,63.3 125.0,76.0 128.6,88.9 132.9,102.9 139.8,124.7 147.7,148.5 153.8,165.9 159.3,180.5 164.4,193.3 169.3,204.2 174.8,215.2 180.2,225.0 180.2,226.8 174.8,216.9 169.3,205.9 164.4,195.0 159.3,182.2 153.8,167.6 147.7,150.2 139.8,126.4 132.9,104.6 128.6,90.6 125.0,77.7 121.6,65.0 118.3,51.3 111.6,20.5 104.6,-16.4Z" fill="#1e1e1e" stroke="#1e1e1e" stroke-width="0.5"/>
<path d="M179.9,224.5 182.1,228.1 182.1,229.8 179.9,226.2Z" fill="#242424" stroke="#242424" stroke-width="0.5"/>
<path d="M181.8,227.6 183.9,231.0 183.9,232.8 181.8,229.3Z" fill="#2a2a2a" stroke="#2a2a2a" stroke-width="0.5"/>
<path d="M183.6,230.6 186.0,234.4 186.0,236.1 183.6,232.3Z" fill="#303030" stroke="#303030" stroke-width="0.5"/>
<path d="M185.7,233.9 188.4,238.0 188.4,239.7 185.7,235.6Z" fill="#363636" stroke="#363636" stroke-width="0.5"/>
<path d="M188.1,237.5 190.9,241.4 190.9,243.1 188.1,239.2Z" fill="#3c3c3c" stroke="#3c3c3c" stroke-width="0.5"/>
<path d="M190.6,241.0 193.6,245.1 193.6,246.8 190.6,242.7Z" fill="#424242" stroke="#424242" stroke-width="0.5"/>
<path d="M193.3,244.7 196.3,248.7 196.3,250.4 193.3,246.4Z" fill="#484848" stroke="#484848" stroke-width="0.5"/>
<path d="M196.0,248.3 199.4,252.4 199.4,254.1 196.0,250.0Z" fill="#4e4e4e" stroke="#4e4e4e" stroke-width="0.5"/>
<path d="M199.1,252.0 202.7,256.2 202.7,257.9 199.1,253.7Z" fill="#545454" stroke="#545454" stroke-width="0.5"/>
<path d="M202.4,255.9 206.1,259.8 206.1,261.6 202.4,257.6Z" fill="#5a5a5a" stroke="#5a5a5a" stroke-width="0.5"/>
<path d="M205.8,259.5 209.4,263.2 209.4,264.9 205.8,261.2Z" fill="#606060" stroke="#606060" stroke-width="0.5"/>
<path d="M209.1,262.9 213.3,266.9 213.3,268.6 209.1,264.6Z" fill="#666666" stroke="#666666" stroke-width="0.5"/>
<path d="M213.0,266.6 217.3,270.2 217.3,271.9 213.0,268.3Z" fill="#6c6c6c" stroke="#6c6c6c" stroke-width="0.5"/>
<path d="M217.0,270.0 221.8,273.7 221.8,275.4 217.0,271.7Z" fill="#727272" stroke="#727272" stroke-width="0.5"/>
<path d="M221.5,273.5 226.7,277.0 226.7,278.7 221.5,275.2Z" fill="#787878" stroke="#787878" stroke-width="0.5"/>
<path d="M226.4,276.8 232.8,280.4 232.8,282.1 226.4,278.5Z" fill="#7e7e7e" stroke="#7e7e7e" stroke-width="0.5"/>
<path d="M232.5,280.3 240.1,283.7 240.1,285.4 232.5,282.0Z" fill="#848484" stroke="#848484" stroke-width="0.5"/>
<path d="M239.8,283.6 245.5,285.6 251.6,287.1 251.6,288.8 245.5,287.3 239.8,285.3Z" fill="#8a8a8a" stroke="#8a8a8a" stroke-width="0.5"/>
<path d="M251.3,287.0 258.3,288.1 265.3,288.4 272.6,287.9 280.5,286.7 280.5,288.5 272.6,289.7 265.3,290.1 258.3,289.8 251.3,288.8Z" fill="#909090" stroke="#909090" stroke-width="0.5"/>
<path d="M280.2,286.8 285.3,285.6 290.8,284.1 302.0,280.2 302.0,281.9 290.8,285.9 285.3,287.4 280.2,288.5Z" fill="#8a8a8a" stroke="#8a8a8a" stroke-width="0.5"/>
<path d="M301.7,280.3 312.7,275.7 324.5,269.9 324.5,271.6 312.7,277.4 301.7,282.1Z" fill="#848484" stroke="#848484" stroke-width="0.5"/>
<path d="M324.2,270.1 338.8,262.0 355.2,252.1 355.2,253.8 338.8,263.8 324.2,271.8Z" fill="#7e7e7e" stroke="#7e7e7e" stroke-width="0.5"/>
<path d="M354.9,252.3 368.5,243.5 383.1,233.7 398.6,222.9 437.8,194.9 450.2,186.4 461.2,179.3 461.2,181.1 450.2,188.1 437.8,196.6 398.6,224.6 383.1,235.4 368.5,245.2 354.9,254.0Z" fill="#787878" stroke="#787878" stroke-width="0.5"/>
<path d="M460.9,179.5 477.9,169.4 496.1,159.5 496.1,161.2 477.9,171.1 460.9,181.2Z" fill="#7e7e7e" stroke="#7e7e7e" stroke-width="0.5"/>
<path d="M495.8,159.6 513.1,151.0 532.2,142.1 551.7,133.7 571.4,125.7 571.4,127.4 551.7,135.4 532.2,143.8 513.1,152.7 495.8,161.3Z" fill="#848484" stroke="#848484" stroke-width="0.5"/>
<path d="M571.1,125.8 588.1,119.4 605.7,113.1 622.7,107.5 639.7,102.2 656.1,97.5 672.5,93.2 688.6,89.4 704.4,86.1 704.4,87.8 688.6,91.2 672.5,95.0 656.1,99.2 639.7,103.9 622.7,109.2 605.7,114.9 588.1,121.1 571.1,127.5Z" fill="#8a8a8a" stroke="#8a8a8a" stroke-width="0.5"/>
<path d="M704.1,86.2 717.2,83.7 730.8,81.4 760.0,77.1 792.2,73.3 832.6,69.4 876.6,65.7 920.0,62.6 963.2,60.3 1006.0,58.6 1006.0,60.3 963.2,62.0 920.0,64.4 876.6,67.4 832.6,71.1 792.2,75.1 760.0,78.9 730.8,83.1 717.2,85.4 704.1,87.9Z" fill="#909090" stroke="#909090" stroke-width="0.5"/>
<path d="M104.9,-18.0 112.2,20.1 115.9,37.3 119.5,53.1 123.1,67.6 127.1,82.0 131.3,96.4 136.5,112.8 144.7,137.8 151.4,157.4 157.2,173.4 162.6,187.3 168.1,199.9 173.6,211.2 179.3,221.9 185.4,231.8 185.4,233.4 179.3,223.5 173.6,212.8 168.1,201.5 162.6,188.9 157.2,174.9 151.4,159.0 144.7,139.4 136.5,114.4 131.3,98.0 127.1,83.6 123.1,69.2 119.5,54.7 115.9,38.9 112.2,21.7 104.9,-16.4Z" fill="#181818" stroke="#181818" stroke-width="0.5"/>
<path d="M185.1,231.4 187.5,235.0 187.5,236.6 185.1,233.0Z" fill="#1e1e1e" stroke="#1e1e1e" stroke-width="0.5"/>
<path d="M187.2,234.6 189.7,238.1 189.7,239.7 187.2,236.2Z" fill="#242424" stroke="#242424" stroke-width="0.5"/>
<path d="M189.4,237.7 191.8,241.1 191.8,242.7 189.4,239.3Z" fill="#2a2a2a" stroke="#2a2a2a" stroke-width="0.5"/>
<path d="M191.5,240.7 194.5,244.7 194.5,246.3 191.5,242.3Z" fill="#303030" stroke="#303030" stroke-width="0.5"/>
<path d="M194.2,244.3 196.9,247.8 196.9,249.4 194.2,245.9Z" fill="#363636" stroke="#363636" stroke-width="0.5"/>
<path d="M196.6,247.4 199.7,251.1 199.7,252.7 196.6,249.0Z" fill="#3c3c3c" stroke="#3c3c3c" stroke-width="0.5"/>
<path d="M199.4,250.8 202.7,254.6 202.7,256.2 199.4,252.4Z" fill="#424242" stroke="#424242" stroke-width="0.5"/>
<path d="M202.4,254.3 205.8,257.9 205.8,259.5 202.4,255.9Z" fill="#484848" stroke="#484848" stroke-width="0.5"/>
<path d="M205.4,257.6 208.8,261.0 208.8,262.6 205.4,259.2Z" fill="#4e4e4e" stroke="#4e4e4e" stroke-width="0.5"/>
<path d="M208.5,260.7 212.1,264.2 212.1,265.8 208.5,262.3Z" fill="#545454" stroke="#545454" stroke-width="0.5"/>
<path d="M211.8,263.9 215.8,267.4 215.8,269.0 211.8,265.5Z" fill="#5a5a5a" stroke="#5a5a5a" stroke-width="0.5"/>
<path d="M215.5,267.1 219.7,270.5 219.7,272.1 215.5,268.7Z" fill="#606060" stroke="#606060" stroke-width="0.5"/>
<path d="M219.4,270.3 224.0,273.6 224.0,275.2 219.4,271.9Z" fill="#666666" stroke="#666666" stroke-width="0.5"/>
<path d="M223.7,273.4 228.8,276.7 228.8,278.3 223.7,275.0Z" fill="#6c6c6c" stroke="#6c6c6c" stroke-width="0.5"/>
<path d="M228.5,276.5 234.3,279.6 234.3,281.2 228.5,278.1Z" fill="#727272" stroke="#727272" stroke-width="0.5"/>
<path d="M234.0,279.4 241.6,282.7 241.6,284.3 234.0,281.0Z" fill="#787878" stroke="#787878" stroke-width="0.5"/>
<path d="M241.3,282.6 246.8,284.3 252.5,285.7 252.5,287.3 246.8,285.9 241.3,284.2Z" fill="#7e7e7e" stroke="#7e7e7e" stroke-width="0.5"/>
<path d="M252.2,285.6 258.6,286.5 265.3,286.8 272.3,286.4 279.2,285.4 279.2,287.0 272.3,288.0 265.3,288.4 258.6,288.1 252.2,287.2Z" fill="#848484" stroke="#848484" stroke-width="0.5"/>
<path d="M278.9,285.4 288.7,283.2 299.0,279.8 299.0,281.4 288.7,284.8 278.9,287.0Z" fill="#7e7e7e" stroke="#7e7e7e" stroke-width="0.5"/>
<path d="M298.7,279.9 308.4,276.0 318.7,271.2 318.7,272.8 308.4,277.6 298.7,281.5Z" fill="#787878" stroke="#787878" stroke-width="0.5"/>
<path d="M318.4,271.4 330.0,265.4 342.4,258.3 342.4,259.9 330.0,267.0 318.4,273.0Z" fill="#727272" stroke="#727272" stroke-width="0.5"/>
<path d="M342.1,258.5 360.9,246.9 381.0,233.6 381.0,235.2 360.9,248.5 342.1,260.1Z" fill="#6c6c6c" stroke="#6c6c6c" stroke-width="0.5"/>
<path d="M380.7,233.8 396.2,223.0 429.3,199.3 444.2,188.9 444.2,190.5 429.3,200.9 396.2,224.6 380.7,235.4Z" fill="#666666" stroke="#666666" stroke-width="0.5"/>
<path d="M443.8,189.1 457.8,179.9 471.2,171.6 471.2,173.2 457.8,181.5 443.8,190.7Z" fill="#6c6c6c" stroke="#6c6c6c" stroke-width="0.5"/>
<path d="M470.9,171.8 489.1,161.5 508.8,151.4 508.8,153.0 489.1,163.1 470.9,173.4Z" fill="#727272" stroke="#727272" stroke-width="0.5"/>
<path d="M508.5,151.6 527.4,142.7 546.8,134.1 566.8,125.9 587.5,118.0 587.5,119.6 566.8,127.5 546.8,135.7 527.4,144.3 508.5,153.2Z" fill="#787878" stroke="#787878" stroke-width="0.5"/>
<path d="M587.2,118.1 603.6,112.3 620.0,106.8 636.1,101.7 651.9,97.1 667.4,93.0 682.9,89.2 698.0,85.8 713.5,82.8 713.5,84.4 698.0,87.4 682.9,90.8 667.4,94.6 651.9,98.7 636.1,103.3 620.0,108.4 603.6,113.9 587.2,119.7Z" fill="#7e7e7e" stroke="#7e7e7e" stroke-width="0.5"/>
<path d="M713.2,82.8 739.6,78.4 768.5,74.5 801.0,70.8 842.3,66.9 883.9,63.5 924.9,60.8 965.6,58.6 1006.0,57.0 1006.0,58.6 965.6,60.2 924.9,62.4 883.9,65.1 842.3,68.5 801.0,72.4 768.5,76.1 739.6,80.0 713.2,84.4Z" fill="#848484" stroke="#848484" stroke-width="0.5"/>
<path d="M105.2,-17.8 109.5,5.0 113.7,25.9 118.0,45.2 122.2,62.6 126.5,78.4 131.3,94.9 137.1,113.2 145.6,139.1 152.0,157.7 157.8,173.5 162.9,186.6 168.1,198.4 173.6,209.7 179.0,219.9 184.8,229.4 191.2,238.8 191.2,240.2 184.8,230.9 179.0,221.3 173.6,211.2 168.1,199.9 162.9,188.1 157.8,175.0 152.0,159.1 145.6,140.6 137.1,114.7 131.3,96.4 126.5,79.9 122.2,64.1 118.0,46.6 113.7,27.4 109.5,6.4 105.2,-16.3Z" fill="#181818" stroke="#181818" stroke-width="0.5"/>
<path d="M190.9,238.3 193.3,241.6 193.3,243.1 190.9,239.8Z" fill="#1e1e1e" stroke="#1e1e1e" stroke-width="0.5"/>
<path d="M193.0,241.2 195.7,244.8 195.7,246.3 193.0,242.7Z" fill="#242424" stroke="#242424" stroke-width="0.5"/>
<path d="M195.4,244.4 198.2,247.8 198.2,249.3 195.4,245.9Z" fill="#2a2a2a" stroke="#2a2a2a" stroke-width="0.5"/>
<path d="M197.9,247.5 200.9,251.1 200.9,252.6 197.9,248.9Z" fill="#303030" stroke="#303030" stroke-width="0.5"/>
<path d="M200.6,250.7 203.6,254.2 203.6,255.6 200.6,252.2Z" fill="#363636" stroke="#363636" stroke-width="0.5"/>
<path d="M203.3,253.8 206.4,257.1 206.4,258.6 203.3,255.3Z" fill="#3c3c3c" stroke="#3c3c3c" stroke-width="0.5"/>
<path d="M206.1,256.7 209.4,260.1 209.4,261.6 206.1,258.2Z" fill="#424242" stroke="#424242" stroke-width="0.5"/>
<path d="M209.1,259.8 212.4,263.0 212.4,264.4 209.1,261.3Z" fill="#484848" stroke="#484848" stroke-width="0.5"/>
<path d="M212.1,262.7 215.8,265.9 215.8,267.4 212.1,264.2Z" fill="#4e4e4e" stroke="#4e4e4e" stroke-width="0.5"/>
<path d="M215.5,265.6 219.4,268.8 219.4,270.3 215.5,267.1Z" fill="#545454" stroke="#545454" stroke-width="0.5"/>
<path d="M219.1,268.6 223.4,271.7 223.4,273.2 219.1,270.1Z" fill="#5a5a5a" stroke="#5a5a5a" stroke-width="0.5"/>
<path d="M223.1,271.5 227.9,274.6 227.9,276.1 223.1,273.0Z" fill="#606060" stroke="#606060" stroke-width="0.5"/>
<path d="M227.6,274.4 232.8,277.3 232.8,278.8 227.6,275.9Z" fill="#666666" stroke="#666666" stroke-width="0.5"/>
<path d="M232.5,277.2 238.9,280.2 238.9,281.6 232.5,278.7Z" fill="#6c6c6c" stroke="#6c6c6c" stroke-width="0.5"/>
<path d="M238.6,280.0 242.8,281.6 247.4,283.0 247.4,284.5 242.8,283.1 238.6,281.5Z" fill="#727272" stroke="#727272" stroke-width="0.5"/>
<path d="M247.1,282.9 251.9,284.1 256.8,284.8 261.6,285.2 266.5,285.3 271.3,285.0 276.5,284.3 282.0,283.3 287.4,282.0 287.4,283.5 282.0,284.8 276.5,285.8 271.3,286.5 266.5,286.7 261.6,286.7 256.8,286.3 251.9,285.6 247.1,284.4Z" fill="#787878" stroke="#787878" stroke-width="0.5"/>
<path d="M287.1,282.1 295.9,279.4 305.4,275.8 305.4,277.3 295.9,280.9 287.1,283.6Z" fill="#727272" stroke="#727272" stroke-width="0.5"/>
<path d="M305.1,275.9 314.2,271.9 323.9,267.2 323.9,268.6 314.2,273.4 305.1,277.4Z" fill="#6c6c6c" stroke="#6c6c6c" stroke-width="0.5"/>
<path d="M323.6,267.3 335.4,260.9 348.2,253.4 348.2,254.8 335.4,262.4 323.6,268.8Z" fill="#666666" stroke="#666666" stroke-width="0.5"/>
<path d="M347.9,253.5 366.4,241.8 386.4,228.3 386.4,229.8 366.4,243.3 347.9,255.0Z" fill="#606060" stroke="#606060" stroke-width="0.5"/>
<path d="M386.1,228.5 440.2,190.1 440.2,191.6 386.1,230.0Z" fill="#5a5a5a" stroke="#5a5a5a" stroke-width="0.5"/>
<path d="M439.9,190.3 453.6,181.1 466.0,173.3 466.0,174.7 453.6,182.6 439.9,191.8Z" fill="#606060" stroke="#606060" stroke-width="0.5"/>
<path d="M465.7,173.4 480.9,164.6 497.0,155.9 497.0,157.4 480.9,166.0 465.7,174.9Z" fill="#666666" stroke="#666666" stroke-width="0.5"/>
<path d="M496.7,156.1 510.7,149.0 525.5,142.0 541.0,135.1 556.8,128.4 556.8,129.9 541.0,136.6 525.5,143.5 510.7,150.5 496.7,157.5Z" fill="#6c6c6c" stroke="#6c6c6c" stroke-width="0.5"/>
<path d="M556.5,128.6 582.0,118.6 608.5,109.1 634.0,100.9 658.9,93.7 658.9,95.2 634.0,102.4 608.5,110.6 582.0,120.1 556.5,130.1Z" fill="#727272" stroke="#727272" stroke-width="0.5"/>
<path d="M658.6,93.8 673.4,89.9 688.3,86.4 702.9,83.3 718.1,80.5 733.9,77.8 750.6,75.3 768.2,73.0 787.3,70.8 812.5,68.2 841.7,65.5 869.6,63.1 897.6,61.0 924.9,59.3 952.2,57.7 979.3,56.5 1006.0,55.5 1006.0,57.0 979.3,58.0 952.2,59.2 924.9,60.8 897.6,62.5 869.6,64.6 841.7,66.9 812.5,69.7 787.3,72.3 768.2,74.5 750.6,76.8 733.9,79.3 718.1,82.0 702.9,84.8 688.3,87.9 673.4,91.4 658.6,95.3Z" fill="#787878" stroke="#787878" stroke-width="0.5"/>
<path d="M105.5,-17.5 110.1,6.7 114.6,28.8 119.2,48.9 123.8,67.0 128.6,84.4 134.1,102.3 143.5,131.3 151.1,153.7 156.9,169.7 162.3,183.7 167.5,195.7 173.0,207.2 178.7,217.9 184.5,227.5 190.9,237.0 197.6,245.7 197.6,247.1 190.9,238.3 184.5,228.9 178.7,219.3 173.0,208.6 167.5,197.1 162.3,185.1 156.9,171.1 151.1,155.1 143.5,132.7 134.1,103.7 128.6,85.8 123.8,68.4 119.2,50.3 114.6,30.2 110.1,8.1 105.5,-16.1Z" fill="#181818" stroke="#181818" stroke-width="0.5"/>
<path d="M197.2,245.3 199.7,248.3 199.7,249.7 197.2,246.7Z" fill="#1e1e1e" stroke="#1e1e1e" stroke-width="0.5"/>
<path d="M199.4,247.9 202.4,251.4 202.4,252.8 199.4,249.3Z" fill="#242424" stroke="#242424" stroke-width="0.5"/>
<path d="M202.1,251.1 204.8,254.1 204.8,255.5 202.1,252.5Z" fill="#2a2a2a" stroke="#2a2a2a" stroke-width="0.5"/>
<path d="M204.5,253.8 207.6,256.9 207.6,258.3 204.5,255.1Z" fill="#303030" stroke="#303030" stroke-width="0.5"/>
<path d="M207.3,256.6 210.3,259.6 210.3,261.0 207.3,258.0Z" fill="#363636" stroke="#363636" stroke-width="0.5"/>
<path d="M210.0,259.3 213.3,262.4 213.3,263.8 210.0,260.7Z" fill="#3c3c3c" stroke="#3c3c3c" stroke-width="0.5"/>
<path d="M213.0,262.1 216.4,265.0 216.4,266.4 213.0,263.5Z" fill="#424242" stroke="#424242" stroke-width="0.5"/>
<path d="M216.1,264.7 219.7,267.7 219.7,269.0 216.1,266.1Z" fill="#484848" stroke="#484848" stroke-width="0.5"/>
<path d="M219.4,267.4 223.7,270.5 223.7,271.9 219.4,268.8Z" fill="#4e4e4e" stroke="#4e4e4e" stroke-width="0.5"/>
<path d="M223.4,270.3 227.6,273.1 227.6,274.4 223.4,271.7Z" fill="#545454" stroke="#545454" stroke-width="0.5"/>
<path d="M227.3,272.9 232.2,275.6 232.2,277.0 227.3,274.3Z" fill="#5a5a5a" stroke="#5a5a5a" stroke-width="0.5"/>
<path d="M231.9,275.5 237.6,278.3 237.6,279.6 231.9,276.9Z" fill="#606060" stroke="#606060" stroke-width="0.5"/>
<path d="M237.3,278.1 244.9,280.9 244.9,282.3 237.3,279.5Z" fill="#666666" stroke="#666666" stroke-width="0.5"/>
<path d="M244.6,280.8 251.3,282.6 258.0,283.6 258.0,285.0 251.3,283.9 244.6,282.2Z" fill="#6c6c6c" stroke="#6c6c6c" stroke-width="0.5"/>
<path d="M257.7,283.5 265.0,283.9 272.6,283.5 272.6,284.9 265.0,285.3 257.7,284.9Z" fill="#727272" stroke="#727272" stroke-width="0.5"/>
<path d="M272.3,283.5 276.8,282.9 281.7,282.0 286.8,280.8 292.0,279.3 292.0,280.7 286.8,282.2 281.7,283.4 276.8,284.3 272.3,284.9Z" fill="#6c6c6c" stroke="#6c6c6c" stroke-width="0.5"/>
<path d="M291.7,279.4 299.9,276.6 308.4,273.1 308.4,274.5 299.9,278.0 291.7,280.8Z" fill="#666666" stroke="#666666" stroke-width="0.5"/>
<path d="M308.1,273.3 316.9,269.3 326.3,264.5 326.3,265.9 316.9,270.6 308.1,274.7Z" fill="#606060" stroke="#606060" stroke-width="0.5"/>
<path d="M326.0,264.7 337.3,258.5 349.4,251.2 349.4,252.6 337.3,259.8 326.0,266.0Z" fill="#5a5a5a" stroke="#5a5a5a" stroke-width="0.5"/>
<path d="M349.1,251.4 366.4,240.4 384.9,228.0 384.9,229.4 366.4,241.8 349.1,252.8Z" fill="#545454" stroke="#545454" stroke-width="0.5"/>
<path d="M384.6,228.2 441.4,187.9 441.4,189.3 384.6,229.6Z" fill="#4e4e4e" stroke="#4e4e4e" stroke-width="0.5"/>
<path d="M441.1,188.1 453.6,179.7 465.1,172.4 465.1,173.8 453.6,181.1 441.1,189.5Z" fill="#545454" stroke="#545454" stroke-width="0.5"/>
<path d="M464.8,172.6 478.5,164.5 492.7,156.7 492.7,158.1 478.5,165.9 464.8,174.0Z" fill="#5a5a5a" stroke="#5a5a5a" stroke-width="0.5"/>
<path d="M492.4,156.9 504.0,151.0 516.4,144.9 529.8,138.7 543.2,132.8 543.2,134.2 529.8,140.1 516.4,146.3 504.0,152.3 492.4,158.3Z" fill="#606060" stroke="#606060" stroke-width="0.5"/>
<path d="M542.9,132.9 564.1,124.1 586.0,115.7 608.5,107.7 630.6,100.5 630.6,101.9 608.5,109.1 586.0,117.1 564.1,125.5 542.9,134.3Z" fill="#666666" stroke="#666666" stroke-width="0.5"/>
<path d="M630.3,100.6 650.7,94.6 670.4,89.3 689.8,84.7 709.3,80.7 729.9,77.1 751.8,73.8 775.5,70.7 801.9,67.8 801.9,69.2 775.5,72.1 751.8,75.2 729.9,78.4 709.3,82.1 689.8,86.1 670.4,90.7 650.7,96.0 630.3,102.0Z" fill="#6c6c6c" stroke="#6c6c6c" stroke-width="0.5"/>
<path d="M801.6,67.9 853.5,63.1 904.9,59.2 955.6,56.2 1006.0,54.2 1006.0,55.5 955.6,57.6 904.9,60.5 853.5,64.4 801.6,69.3Z" fill="#727272" stroke="#727272" stroke-width="0.5"/>
<path d="M105.8,-17.1 110.7,8.5 115.6,31.7 120.1,51.4 125.0,70.2 130.4,89.2 136.8,109.6 147.1,140.9 155.0,163.4 160.8,178.6 166.3,191.7 171.7,203.4 177.5,214.5 183.6,224.8 190.0,234.4 196.9,243.7 203.9,251.8 203.9,253.1 196.9,245.0 190.0,235.7 183.6,226.1 177.5,215.8 171.7,204.7 166.3,193.0 160.8,179.9 155.0,164.7 147.1,142.2 136.8,110.9 130.4,90.5 125.0,71.5 120.1,52.7 115.6,33.0 110.7,9.7 105.8,-15.8Z" fill="#181818" stroke="#181818" stroke-width="0.5"/>
<path d="M203.6,251.5 206.4,254.4 206.4,255.7 203.6,252.8Z" fill="#1e1e1e" stroke="#1e1e1e" stroke-width="0.5"/>
<path d="M206.1,254.1 209.1,257.1 209.1,258.4 206.1,255.4Z" fill="#242424" stroke="#242424" stroke-width="0.5"/>
<path d="M208.8,256.8 211.5,259.5 211.5,260.7 208.8,258.1Z" fill="#2a2a2a" stroke="#2a2a2a" stroke-width="0.5"/>
<path d="M211.2,259.2 214.6,262.2 214.6,263.5 211.2,260.5Z" fill="#303030" stroke="#303030" stroke-width="0.5"/>
<path d="M214.3,261.9 217.6,264.7 217.6,266.0 214.3,263.2Z" fill="#363636" stroke="#363636" stroke-width="0.5"/>
<path d="M217.3,264.5 220.6,267.0 220.6,268.3 217.3,265.7Z" fill="#3c3c3c" stroke="#3c3c3c" stroke-width="0.5"/>
<path d="M220.3,266.8 224.3,269.6 224.3,270.9 220.3,268.1Z" fill="#424242" stroke="#424242" stroke-width="0.5"/>
<path d="M224.0,269.4 227.9,272.0 227.9,273.2 224.0,270.7Z" fill="#484848" stroke="#484848" stroke-width="0.5"/>
<path d="M227.6,271.8 232.5,274.5 232.5,275.8 227.6,273.1Z" fill="#4e4e4e" stroke="#4e4e4e" stroke-width="0.5"/>
<path d="M232.2,274.4 237.6,277.0 237.6,278.3 232.2,275.6Z" fill="#545454" stroke="#545454" stroke-width="0.5"/>
<path d="M237.3,276.8 244.0,279.4 244.0,280.7 237.3,278.1Z" fill="#5a5a5a" stroke="#5a5a5a" stroke-width="0.5"/>
<path d="M243.7,279.3 248.9,280.7 254.0,281.8 254.0,283.1 248.9,282.0 243.7,280.6Z" fill="#606060" stroke="#606060" stroke-width="0.5"/>
<path d="M253.7,281.7 259.5,282.4 265.3,282.6 271.0,282.3 277.1,281.6 277.1,282.9 271.0,283.6 265.3,283.9 259.5,283.7 253.7,283.0Z" fill="#666666" stroke="#666666" stroke-width="0.5"/>
<path d="M276.8,281.6 285.0,280.0 293.8,277.4 293.8,278.7 285.0,281.3 276.8,282.9Z" fill="#606060" stroke="#606060" stroke-width="0.5"/>
<path d="M293.5,277.5 301.1,274.8 309.3,271.5 309.3,272.7 301.1,276.1 293.5,278.8Z" fill="#5a5a5a" stroke="#5a5a5a" stroke-width="0.5"/>
<path d="M309.0,271.6 317.2,267.8 325.7,263.5 325.7,264.8 317.2,269.1 309.0,272.9Z" fill="#545454" stroke="#545454" stroke-width="0.5"/>
<path d="M325.4,263.7 335.4,258.2 346.4,251.8 346.4,253.1 335.4,259.5 325.4,265.0Z" fill="#4e4e4e" stroke="#4e4e4e" stroke-width="0.5"/>
<path d="M346.1,252.0 361.5,242.3 377.9,231.5 377.9,232.8 361.5,243.6 346.1,253.3Z" fill="#484848" stroke="#484848" stroke-width="0.5"/>
<path d="M377.6,231.7 395.0,219.7 430.5,194.3 446.3,183.3 446.3,184.6 430.5,195.6 395.0,221.0 377.6,233.0Z" fill="#424242" stroke="#424242" stroke-width="0.5"/>
<path d="M446.0,183.5 456.9,176.3 467.5,169.7 467.5,170.9 456.9,177.6 446.0,184.8Z" fill="#484848" stroke="#484848" stroke-width="0.5"/>
<path d="M467.2,169.8 480.0,162.4 493.7,155.0 493.7,156.3 480.0,163.7 467.2,171.1Z" fill="#4e4e4e" stroke="#4e4e4e" stroke-width="0.5"/>
<path d="M493.4,155.1 504.3,149.5 515.5,144.0 540.1,132.8 540.1,134.1 515.5,145.3 504.3,150.8 493.4,156.4Z" fill="#545454" stroke="#545454" stroke-width="0.5"/>
<path d="M539.8,133.0 558.9,124.9 578.7,117.2 599.3,109.6 619.7,102.7 619.7,104.0 599.3,110.9 578.7,118.4 558.9,126.2 539.8,134.2Z" fill="#5a5a5a" stroke="#5a5a5a" stroke-width="0.5"/>
<path d="M619.4,102.8 634.0,98.2 648.2,94.0 662.2,90.1 676.2,86.6 689.8,83.4 703.2,80.6 717.5,77.9 732.1,75.4 732.1,76.7 717.5,79.2 703.2,81.9 689.8,84.7 676.2,87.9 662.2,91.4 648.2,95.3 634.0,99.5 619.4,104.1Z" fill="#606060" stroke="#606060" stroke-width="0.5"/>
<path d="M731.8,75.5 757.3,71.7 785.5,68.3 820.7,64.7 859.6,61.3 896.7,58.4 933.4,56.1 969.8,54.2 1006.0,52.9 1006.0,54.2 969.8,55.5 933.4,57.4 896.7,59.7 859.6,62.5 820.7,66.0 785.5,69.6 757.3,73.0 731.8,76.8Z" fill="#666666" stroke="#666666" stroke-width="0.5"/>
<path d="M106.1,-16.6 111.0,8.8 115.9,31.9 120.7,52.7 125.9,72.3 132.6,95.0 141.7,123.3 150.8,150.3 158.4,171.2 164.1,185.6 169.9,198.5 176.0,210.5 182.1,221.1 188.7,231.5 196.0,241.3 203.3,249.9 210.6,257.4 210.6,258.6 203.3,251.1 196.0,242.5 188.7,232.7 182.1,222.3 176.0,211.7 169.9,199.7 164.1,186.8 158.4,172.4 150.8,151.5 141.7,124.5 132.6,96.2 125.9,73.5 120.7,53.9 115.9,33.1 111.0,10.0 106.1,-15.4Z" fill="#181818" stroke="#181818" stroke-width="0.5"/>
<path d="M210.3,257.1 213.3,259.9 213.3,261.1 210.3,258.3Z" fill="#1e1e1e" stroke="#1e1e1e" stroke-width="0.5"/>
<path d="M213.0,259.6 216.1,262.3 216.1,263.5 213.0,260.8Z" fill="#242424" stroke="#242424" stroke-width="0.5"/>
<path d="M215.8,262.0 218.8,264.5 218.8,265.7 215.8,263.2Z" fill="#2a2a2a" stroke="#2a2a2a" stroke-width="0.5"/>
<path d="M218.5,264.2 221.8,266.7 221.8,267.9 218.5,265.4Z" fill="#303030" stroke="#303030" stroke-width="0.5"/>
<path d="M221.5,266.5 225.2,269.0 225.2,270.2 221.5,267.7Z" fill="#363636" stroke="#363636" stroke-width="0.5"/>
<path d="M224.9,268.8 229.1,271.5 229.1,272.7 224.9,270.0Z" fill="#3c3c3c" stroke="#3c3c3c" stroke-width="0.5"/>
<path d="M228.8,271.3 233.1,273.6 233.1,274.8 228.8,272.5Z" fill="#424242" stroke="#424242" stroke-width="0.5"/>
<path d="M232.8,273.5 237.9,275.9 237.9,277.1 232.8,274.7Z" fill="#484848" stroke="#484848" stroke-width="0.5"/>
<path d="M237.6,275.8 244.0,278.2 244.0,279.4 237.6,277.0Z" fill="#4e4e4e" stroke="#4e4e4e" stroke-width="0.5"/>
<path d="M243.7,278.1 248.6,279.5 253.4,280.5 253.4,281.7 248.6,280.7 243.7,279.3Z" fill="#545454" stroke="#545454" stroke-width="0.5"/>
<path d="M253.1,280.4 259.2,281.2 265.3,281.4 271.7,281.1 278.0,280.2 278.0,281.4 271.7,282.3 265.3,282.6 259.2,282.4 253.1,281.6Z" fill="#5a5a5a" stroke="#5a5a5a" stroke-width="0.5"/>
<path d="M277.7,280.3 285.3,278.7 293.2,276.4 293.2,277.6 285.3,279.9 277.7,281.5Z" fill="#545454" stroke="#545454" stroke-width="0.5"/>
<path d="M292.9,276.5 300.2,274.0 307.8,270.9 307.8,272.1 300.2,275.2 292.9,277.7Z" fill="#4e4e4e" stroke="#4e4e4e" stroke-width="0.5"/>
<path d="M307.5,271.0 315.1,267.6 322.7,263.9 322.7,265.1 315.1,268.8 307.5,272.2Z" fill="#484848" stroke="#484848" stroke-width="0.5"/>
<path d="M322.4,264.1 331.5,259.2 340.9,253.8 340.9,255.0 331.5,260.4 322.4,265.3Z" fill="#424242" stroke="#424242" stroke-width="0.5"/>
<path d="M340.6,254.0 353.7,246.1 367.3,237.4 367.3,238.6 353.7,247.3 340.6,255.2Z" fill="#3c3c3c" stroke="#3c3c3c" stroke-width="0.5"/>
<path d="M367.0,237.6 386.8,224.2 408.9,208.5 408.9,209.7 386.8,225.4 367.0,238.8Z" fill="#363636" stroke="#363636" stroke-width="0.5"/>
<path d="M408.6,208.8 419.9,200.7 419.9,201.9 408.6,210.0Z" fill="#303030" stroke="#303030" stroke-width="0.5"/>
<path d="M419.6,200.9 438.4,187.5 453.3,177.4 453.3,178.6 438.4,188.7 419.6,202.1Z" fill="#363636" stroke="#363636" stroke-width="0.5"/>
<path d="M453.0,177.6 462.7,171.4 472.7,165.4 472.7,166.6 462.7,172.6 453.0,178.8Z" fill="#3c3c3c" stroke="#3c3c3c" stroke-width="0.5"/>
<path d="M472.4,165.6 485.5,158.2 499.4,150.8 499.4,152.0 485.5,159.4 472.4,166.8Z" fill="#424242" stroke="#424242" stroke-width="0.5"/>
<path d="M499.1,150.9 521.9,139.8 546.5,128.9 546.5,130.1 521.9,141.0 499.1,152.1Z" fill="#484848" stroke="#484848" stroke-width="0.5"/>
<path d="M546.2,129.0 564.7,121.4 583.5,114.1 603.0,107.1 622.1,100.7 622.1,101.9 603.0,108.3 583.5,115.3 564.7,122.6 546.2,130.2Z" fill="#4e4e4e" stroke="#4e4e4e" stroke-width="0.5"/>
<path d="M621.8,100.8 647.9,92.9 673.4,86.1 685.9,83.1 698.3,80.4 724.2,75.5 724.2,76.7 698.3,81.6 685.9,84.3 673.4,87.3 647.9,94.1 621.8,102.0Z" fill="#545454" stroke="#545454" stroke-width="0.5"/>
<path d="M723.9,75.6 749.7,71.6 778.2,67.9 811.9,64.4 852.3,60.7 891.2,57.6 929.8,55.1 968.0,53.1 1006.0,51.7 1006.0,52.9 968.0,54.3 929.8,56.3 891.2,58.8 852.3,61.9 811.9,65.6 778.2,69.1 749.7,72.8 723.9,76.8Z" fill="#5a5a5a" stroke="#5a5a5a" stroke-width="0.5"/>
<path d="M106.1,-17.8 111.3,9.2 116.5,33.5 121.3,54.0 126.8,74.5 134.1,98.7 145.0,132.3 153.5,156.9 161.1,177.1 167.2,191.5 173.3,204.2 179.6,215.9 186.6,227.2 194.2,237.9 201.8,247.1 209.7,255.4 213.6,259.1 217.9,262.6 217.9,263.7 213.6,260.2 209.7,256.5 201.8,248.2 194.2,239.0 186.6,228.3 179.6,217.0 173.3,205.3 167.2,192.6 161.1,178.2 153.5,158.1 145.0,133.4 134.1,99.8 126.8,75.6 121.3,55.1 116.5,34.6 111.3,10.3 106.1,-16.6Z" fill="#181818" stroke="#181818" stroke-width="0.5"/>
<path d="M217.6,262.4 220.6,264.7 220.6,265.8 217.6,263.5Z" fill="#1e1e1e" stroke="#1e1e1e" stroke-width="0.5"/>
<path d="M220.3,264.5 223.7,266.9 223.7,268.0 220.3,265.6Z" fill="#242424" stroke="#242424" stroke-width="0.5"/>
<path d="M223.4,266.7 227.0,269.1 227.0,270.2 223.4,267.8Z" fill="#2a2a2a" stroke="#2a2a2a" stroke-width="0.5"/>
<path d="M226.7,268.9 230.7,271.2 230.7,272.3 226.7,270.0Z" fill="#303030" stroke="#303030" stroke-width="0.5"/>
<path d="M230.4,271.1 234.6,273.3 234.6,274.4 230.4,272.2Z" fill="#363636" stroke="#363636" stroke-width="0.5"/>
<path d="M234.3,273.1 239.5,275.4 239.5,276.5 234.3,274.2Z" fill="#3c3c3c" stroke="#3c3c3c" stroke-width="0.5"/>
<path d="M239.2,275.3 245.2,277.4 245.2,278.5 239.2,276.4Z" fill="#424242" stroke="#424242" stroke-width="0.5"/>
<path d="M244.9,277.3 249.8,278.6 255.0,279.6 255.0,280.7 249.8,279.8 244.9,278.5Z" fill="#484848" stroke="#484848" stroke-width="0.5"/>
<path d="M254.6,279.6 259.8,280.1 265.3,280.3 270.7,280.0 276.2,279.4 276.2,280.5 270.7,281.2 265.3,281.4 259.8,281.2 254.6,280.7Z" fill="#4e4e4e" stroke="#4e4e4e" stroke-width="0.5"/>
<path d="M275.9,279.5 283.2,278.1 291.1,276.0 291.1,277.1 283.2,279.2 275.9,280.6Z" fill="#484848" stroke="#484848" stroke-width="0.5"/>
<path d="M290.8,276.1 297.2,274.0 304.1,271.3 304.1,272.4 297.2,275.1 290.8,277.2Z" fill="#424242" stroke="#424242" stroke-width="0.5"/>
<path d="M303.8,271.4 310.8,268.5 318.1,265.1 318.1,266.2 310.8,269.6 303.8,272.6Z" fill="#3c3c3c" stroke="#3c3c3c" stroke-width="0.5"/>
<path d="M317.8,265.2 325.4,261.4 333.3,257.1 333.3,258.2 325.4,262.5 317.8,266.3Z" fill="#363636" stroke="#363636" stroke-width="0.5"/>
<path d="M333.0,257.3 343.0,251.5 354.3,244.6 354.3,245.7 343.0,252.6 333.0,258.4Z" fill="#303030" stroke="#303030" stroke-width="0.5"/>
<path d="M354.0,244.8 368.2,235.6 383.4,225.4 383.4,226.5 368.2,236.8 354.0,245.9Z" fill="#2a2a2a" stroke="#2a2a2a" stroke-width="0.5"/>
<path d="M383.1,225.6 397.4,215.7 428.4,193.5 442.3,183.7 442.3,184.8 428.4,194.6 397.4,216.8 383.1,226.8Z" fill="#242424" stroke="#242424" stroke-width="0.5"/>
<path d="M442.0,183.9 452.0,177.1 461.5,171.1 461.5,172.2 452.0,178.2 442.0,185.0Z" fill="#2a2a2a" stroke="#2a2a2a" stroke-width="0.5"/>
<path d="M461.2,171.3 471.2,165.2 481.5,159.2 481.5,160.3 471.2,166.3 461.2,172.4Z" fill="#303030" stroke="#303030" stroke-width="0.5"/>
<path d="M481.2,159.4 495.5,151.7 510.7,144.1 510.7,145.2 495.5,152.8 481.2,160.5Z" fill="#363636" stroke="#363636" stroke-width="0.5"/>
<path d="M510.4,144.2 522.5,138.4 535.3,132.7 548.3,127.0 561.4,121.6 561.4,122.7 548.3,128.1 535.3,133.8 522.5,139.6 510.4,145.3Z" fill="#3c3c3c" stroke="#3c3c3c" stroke-width="0.5"/>
<path d="M561.1,121.7 579.9,114.4 599.0,107.4 618.2,100.9 636.7,95.1 636.7,96.2 618.2,102.0 599.0,108.5 579.9,115.5 561.1,122.8Z" fill="#424242" stroke="#424242" stroke-width="0.5"/>
<path d="M636.4,95.1 649.8,91.2 662.8,87.7 675.9,84.4 688.9,81.3 701.7,78.6 714.7,76.1 728.4,73.7 742.7,71.5 742.7,72.6 728.4,74.8 714.7,77.2 701.7,79.7 688.9,82.4 675.9,85.5 662.8,88.8 649.8,92.4 636.4,96.3Z" fill="#484848" stroke="#484848" stroke-width="0.5"/>
<path d="M742.4,71.5 767.3,68.1 795.2,64.9 831.4,61.4 868.1,58.3 903.0,55.7 937.7,53.5 972.0,51.8 1006.0,50.6 1006.0,51.7 972.0,52.9 937.7,54.7 903.0,56.8 868.1,59.4 831.4,62.5 795.2,66.1 767.3,69.2 742.4,72.6Z" fill="#4e4e4e" stroke="#4e4e4e" stroke-width="0.5"/>
<path d="M106.4,-17.1 111.9,11.1 117.1,35.2 122.2,56.5 127.7,76.6 135.6,102.5 148.0,140.2 156.6,164.2 163.8,182.7 170.5,197.6 177.2,210.6 184.2,222.4 191.8,233.6 195.7,238.8 200.0,244.0 204.2,248.8 208.5,253.2 212.7,257.2 217.0,260.9 221.2,264.1 225.8,267.3 225.8,268.3 221.2,265.2 217.0,261.9 212.7,258.3 208.5,254.2 204.2,249.8 200.0,245.0 195.7,239.8 191.8,234.6 184.2,223.5 177.2,211.6 170.5,198.6 163.8,183.8 156.6,165.3 148.0,141.3 135.6,103.5 127.7,77.6 122.2,57.6 117.1,36.2 111.9,12.2 106.4,-16.1Z" fill="#181818" stroke="#181818" stroke-width="0.5"/>
<path d="M225.5,267.1 229.1,269.3 229.1,270.4 225.5,268.1Z" fill="#1e1e1e" stroke="#1e1e1e" stroke-width="0.5"/>
<path d="M228.8,269.1 232.5,271.2 232.5,272.2 228.8,270.2Z" fill="#242424" stroke="#242424" stroke-width="0.5"/>
<path d="M232.2,271.0 236.7,273.2 236.7,274.3 232.2,272.0Z" fill="#2a2a2a" stroke="#2a2a2a" stroke-width="0.5"/>
<path d="M236.4,273.1 241.3,275.1 241.3,276.1 236.4,274.1Z" fill="#303030" stroke="#303030" stroke-width="0.5"/>
<path d="M241.0,275.0 247.7,277.1 247.7,278.1 241.0,276.0Z" fill="#363636" stroke="#363636" stroke-width="0.5"/>
<path d="M247.4,277.0 253.4,278.3 259.5,279.1 259.5,280.1 253.4,279.4 247.4,278.0Z" fill="#3c3c3c" stroke="#3c3c3c" stroke-width="0.5"/>
<path d="M259.2,279.0 265.0,279.3 270.7,279.0 270.7,280.0 265.0,280.3 259.2,280.1Z" fill="#424242" stroke="#424242" stroke-width="0.5"/>
<path d="M270.4,279.0 278.3,278.0 286.8,276.1 286.8,277.2 278.3,279.1 270.4,280.1Z" fill="#3c3c3c" stroke="#3c3c3c" stroke-width="0.5"/>
<path d="M286.5,276.2 292.6,274.5 299.3,272.2 299.3,273.2 292.6,275.5 286.5,277.3Z" fill="#363636" stroke="#363636" stroke-width="0.5"/>
<path d="M299.0,272.3 305.4,269.8 311.7,267.0 311.7,268.1 305.4,270.8 299.0,273.3Z" fill="#303030" stroke="#303030" stroke-width="0.5"/>
<path d="M311.4,267.2 325.1,260.5 325.1,261.5 311.4,268.2Z" fill="#2a2a2a" stroke="#2a2a2a" stroke-width="0.5"/>
<path d="M324.8,260.7 340.9,251.7 340.9,252.7 324.8,261.7Z" fill="#242424" stroke="#242424" stroke-width="0.5"/>
<path d="M340.6,251.9 351.8,245.1 363.7,237.6 363.7,238.6 351.8,246.1 340.6,252.9Z" fill="#1e1e1e" stroke="#1e1e1e" stroke-width="0.5"/>
<path d="M363.4,237.8 387.7,221.5 435.0,187.7 455.7,173.7 455.7,174.7 435.0,188.7 387.7,222.5 363.4,238.8Z" fill="#181818" stroke="#181818" stroke-width="0.5"/>
<path d="M455.4,173.9 472.7,163.2 472.7,164.3 455.4,174.9Z" fill="#1e1e1e" stroke="#1e1e1e" stroke-width="0.5"/>
<path d="M472.4,163.4 483.3,157.2 494.9,151.0 494.9,152.0 483.3,158.2 472.4,164.5Z" fill="#242424" stroke="#242424" stroke-width="0.5"/>
<path d="M494.6,151.1 511.6,142.6 530.4,133.8 530.4,134.8 511.6,143.6 494.6,152.2Z" fill="#2a2a2a" stroke="#2a2a2a" stroke-width="0.5"/>
<path d="M530.1,133.9 543.8,127.9 557.7,122.0 572.0,116.4 586.6,110.8 586.6,111.9 572.0,117.4 557.7,123.1 543.8,128.9 530.1,135.0Z" fill="#303030" stroke="#303030" stroke-width="0.5"/>
<path d="M586.3,111.0 606.0,103.9 625.2,97.6 644.0,91.9 662.5,86.7 662.5,87.7 644.0,92.9 625.2,98.6 606.0,105.0 586.3,112.0Z" fill="#363636" stroke="#363636" stroke-width="0.5"/>
<path d="M662.2,86.8 682.9,81.7 703.5,77.2 725.1,73.2 748.1,69.6 772.7,66.4 800.7,63.3 836.5,59.9 872.4,56.9 872.4,57.9 836.5,60.9 800.7,64.4 772.7,67.5 748.1,70.7 725.1,74.3 703.5,78.2 682.9,82.7 662.2,87.8Z" fill="#3c3c3c" stroke="#3c3c3c" stroke-width="0.5"/>
<path d="M872.1,56.9 905.8,54.5 939.5,52.4 972.9,50.8 1006.0,49.5 1006.0,50.6 972.9,51.8 939.5,53.4 905.8,55.5 872.1,57.9Z" fill="#424242" stroke="#424242" stroke-width="0.5"/>
<path d="M106.7,-16.5 112.2,11.7 117.4,35.5 122.8,57.9 128.6,78.8 137.4,107.2 150.5,146.3 159.0,169.7 162.9,179.6 166.9,188.8 170.5,196.6 174.2,203.9 177.8,210.7 181.8,217.5 185.7,223.8 189.7,229.6 193.9,235.5 198.5,241.2 202.7,246.2 207.3,251.0 211.8,255.4 216.4,259.4 220.9,263.0 225.8,266.3 230.4,269.0 235.2,271.6 235.2,272.5 230.4,270.0 225.8,267.3 220.9,263.9 216.4,260.4 211.8,256.4 207.3,252.0 202.7,247.1 198.5,242.2 193.9,236.4 189.7,230.6 185.7,224.8 181.8,218.5 177.8,211.7 174.2,204.9 170.5,197.6 166.9,189.7 162.9,180.5 159.0,170.6 150.5,147.3 137.4,108.1 128.6,79.8 122.8,58.9 117.4,36.5 112.2,12.6 106.7,-15.5Z" fill="#181818" stroke="#181818" stroke-width="0.5"/>
<path d="M234.9,271.4 239.2,273.3 239.2,274.3 234.9,272.4Z" fill="#1e1e1e" stroke="#1e1e1e" stroke-width="0.5"/>
<path d="M238.9,273.2 244.3,275.1 244.3,276.1 238.9,274.1Z" fill="#242424" stroke="#242424" stroke-width="0.5"/>
<path d="M244.0,275.0 251.3,277.0 251.3,277.9 244.0,276.0Z" fill="#2a2a2a" stroke="#2a2a2a" stroke-width="0.5"/>
<path d="M251.0,276.9 258.3,278.0 265.6,278.3 273.2,277.8 281.1,276.5 281.1,277.5 273.2,278.8 265.6,279.3 258.3,279.0 251.0,277.9Z" fill="#303030" stroke="#303030" stroke-width="0.5"/>
<path d="M280.8,276.6 286.8,275.2 292.9,273.4 292.9,274.4 286.8,276.1 280.8,277.6Z" fill="#2a2a2a" stroke="#2a2a2a" stroke-width="0.5"/>
<path d="M292.6,273.5 298.4,271.5 304.5,269.2 304.5,270.2 298.4,272.5 292.6,274.5Z" fill="#242424" stroke="#242424" stroke-width="0.5"/>
<path d="M304.1,269.3 316.3,263.9 316.3,264.9 304.1,270.3Z" fill="#1e1e1e" stroke="#1e1e1e" stroke-width="0.5"/>
<path d="M316.0,264.1 326.9,258.6 338.8,252.0 351.8,244.1 366.1,235.0 378.6,226.7 391.6,217.7 440.2,183.1 451.7,175.3 462.1,168.7 474.5,161.2 487.3,154.0 500.9,146.9 515.5,139.7 515.5,140.7 500.9,147.8 487.3,155.0 474.5,162.2 462.1,169.7 451.7,176.3 440.2,184.1 391.6,218.7 378.6,227.7 366.1,236.0 351.8,245.1 338.8,252.9 326.9,259.5 316.0,265.1Z" fill="#181818" stroke="#181818" stroke-width="0.5"/>
<path d="M515.2,139.9 537.4,129.7 560.5,120.0 560.5,120.9 537.4,130.7 515.2,140.8Z" fill="#1e1e1e" stroke="#1e1e1e" stroke-width="0.5"/>
<path d="M560.2,120.1 576.0,113.9 592.1,107.9 608.5,102.1 624.5,96.8 624.5,97.8 608.5,103.1 592.1,108.9 576.0,114.8 560.2,121.1Z" fill="#242424" stroke="#242424" stroke-width="0.5"/>
<path d="M624.2,96.9 644.0,90.9 663.4,85.5 682.2,80.8 701.1,76.7 701.1,77.7 682.2,81.8 663.4,86.5 644.0,91.9 624.2,97.9Z" fill="#2a2a2a" stroke="#2a2a2a" stroke-width="0.5"/>
<path d="M700.8,76.8 713.8,74.2 727.5,71.9 756.7,67.5 788.8,63.6 828.9,59.6 873.9,55.8 918.2,52.7 962.3,50.3 1006.0,48.6 1006.0,49.5 962.3,51.2 918.2,53.7 873.9,56.8 828.9,60.6 788.8,64.6 756.7,68.5 727.5,72.8 713.8,75.2 700.8,77.7Z" fill="#303030" stroke="#303030" stroke-width="0.5"/>
<path d="M106.7,-17.4 112.5,12.2 118.0,37.3 123.8,60.5 130.1,83.0 135.0,98.7 142.0,120.2 153.5,154.0 158.1,166.4 162.3,177.2 166.6,187.2 170.8,196.4 174.8,204.2 179.0,212.0 183.3,219.1 187.8,226.1 192.7,232.9 197.6,239.2 202.4,244.9 207.3,250.1 212.1,254.8 217.3,259.2 222.2,262.9 227.3,266.4 232.5,269.3 237.9,271.9 243.1,273.9 248.6,275.4 248.6,276.3 243.1,274.7 237.9,272.8 232.5,270.2 227.3,267.3 222.2,263.8 217.3,260.1 212.1,255.7 207.3,251.0 202.4,245.8 197.6,240.1 192.7,233.8 187.8,227.0 183.3,220.0 179.0,212.9 174.8,205.1 170.8,197.3 166.6,188.1 162.3,178.1 158.1,167.3 153.5,154.9 142.0,121.1 135.0,99.6 130.1,83.9 123.8,61.4 118.0,38.2 112.5,13.1 106.7,-16.5Z" fill="#181818" stroke="#181818" stroke-width="0.5"/>
<path d="M248.3,275.4 253.7,276.5 259.2,277.2 259.2,278.1 253.7,277.4 248.3,276.3Z" fill="#1e1e1e" stroke="#1e1e1e" stroke-width="0.5"/>
<path d="M258.9,277.1 265.0,277.4 271.0,277.1 271.0,278.0 265.0,278.3 258.9,278.0Z" fill="#242424" stroke="#242424" stroke-width="0.5"/>
<path d="M270.7,277.1 277.7,276.3 285.3,274.7 285.3,275.6 277.7,277.2 270.7,278.0Z" fill="#1e1e1e" stroke="#1e1e1e" stroke-width="0.5"/>
<path d="M285.0,274.7 291.1,273.1 297.8,270.8 304.8,268.2 311.7,265.2 319.0,261.7 326.6,257.8 343.0,248.6 360.9,237.5 380.1,224.8 397.7,212.6 436.0,185.2 456.0,171.6 467.5,164.4 479.7,157.4 492.1,150.5 505.5,143.7 524.6,134.6 545.0,125.5 565.6,117.0 586.9,108.9 608.8,101.1 630.3,94.1 651.6,87.8 672.2,82.3 672.2,83.2 651.6,88.7 630.3,95.0 608.8,102.0 586.9,109.8 565.6,117.9 545.0,126.4 524.6,135.5 505.5,144.6 492.1,151.4 479.7,158.3 467.5,165.3 456.0,172.5 436.0,186.1 397.7,213.5 380.1,225.7 360.9,238.4 343.0,249.5 326.6,258.7 319.0,262.6 311.7,266.1 304.8,269.1 297.8,271.7 291.1,274.0 285.0,275.6Z" fill="#181818" stroke="#181818" stroke-width="0.5"/>
<path d="M671.9,82.4 690.1,78.1 708.7,74.3 728.1,70.9 748.8,67.7 770.3,64.9 794.3,62.1 824.4,59.1 856.0,56.3 856.0,57.2 824.4,60.0 794.3,63.0 770.3,65.8 748.8,68.6 728.1,71.8 708.7,75.2 690.1,79.0 671.9,83.3Z" fill="#1e1e1e" stroke="#1e1e1e" stroke-width="0.5"/>
<path d="M855.7,56.4 893.9,53.4 931.6,51.0 968.9,49.1 1006.0,47.7 1006.0,48.6 968.9,50.0 931.6,51.9 893.9,54.3 855.7,57.3Z" fill="#242424" stroke="#242424" stroke-width="0.5"/>
<path d="M107.1,-16.6 113.1,14.3 118.9,40.3 125.0,64.2 132.0,88.2 145.6,130.4 151.1,146.3 156.2,160.7 160.8,172.6 165.4,183.6 169.9,193.6 174.5,202.8 179.0,211.1 183.6,218.8 188.4,226.2 193.3,232.9 198.5,239.5 203.9,245.8 209.1,251.1 214.6,256.1 220.0,260.5 225.5,264.4 231.0,267.6 236.7,270.5 242.5,272.8 248.3,274.5 254.0,275.7 259.8,276.4 266.2,276.5 272.6,276.1 279.5,275.1 286.5,273.5 294.1,271.3 302.0,268.4 310.2,265.0 319.0,260.9 328.4,256.0 338.8,250.2 349.7,243.7 361.9,236.1 374.9,227.5 388.6,218.1 432.6,186.7 449.9,174.8 459.3,168.7 469.1,162.7 479.1,156.9 489.4,151.2 504.9,143.2 521.6,135.1 539.2,127.2 557.4,119.5 576.0,112.1 594.8,105.2 613.9,98.6 632.7,92.5 649.4,87.6 665.8,83.1 682.2,79.1 698.3,75.5 714.7,72.3 732.1,69.4 750.3,66.6 769.7,64.1 794.6,61.3 824.4,58.3 856.0,55.5 887.2,53.1 917.3,51.0 947.1,49.3 976.5,47.9 1006.0,46.8 1006.0,47.7 976.5,48.7 947.1,50.1 917.3,51.8 887.2,53.9 856.0,56.3 824.4,59.1 794.6,62.1 769.7,64.9 750.3,67.5 732.1,70.2 714.7,73.2 698.3,76.4 682.2,79.9 665.8,84.0 649.4,88.4 632.7,93.4 613.9,99.4 594.8,106.0 576.0,113.0 557.4,120.3 539.2,128.0 521.6,136.0 504.9,144.0 489.4,152.0 479.1,157.7 469.1,163.5 459.3,169.5 449.9,175.6 432.6,187.5 388.6,219.0 374.9,228.3 361.9,236.9 349.7,244.5 338.8,251.1 328.4,256.9 319.0,261.7 310.2,265.8 302.0,269.3 294.1,272.1 286.5,274.4 279.5,275.9 272.6,277.0 266.2,277.4 259.8,277.2 254.0,276.6 248.3,275.4 242.5,273.6 236.7,271.4 231.0,268.5 225.5,265.2 220.0,261.4 214.6,257.0 209.1,251.9 203.9,246.6 198.5,240.3 193.3,233.8 188.4,227.0 183.6,219.6 179.0,212.0 174.5,203.6 169.9,194.5 165.4,184.4 160.8,173.4 156.2,161.5 151.1,147.2 145.6,131.2 132.0,89.0 125.0,65.0 118.9,41.2 113.1,15.2 107.1,-15.7Z" fill="#181818" stroke="#181818" stroke-width="0.5"/>
<path d="M107.4,-26.1 113.4,4.6 119.2,30.4 122.2,42.6 125.3,54.1 132.3,78.0 137.7,95.2 145.9,120.1 151.4,136.0 156.6,150.3 161.1,162.1 165.7,173.1 170.2,183.1 174.8,192.2 179.3,200.5 183.9,208.0 188.7,215.4 193.6,222.1 198.8,228.6 204.2,234.9 209.4,240.2 214.9,245.2 220.3,249.6 225.8,253.4 231.3,256.6 237.0,259.5 242.8,261.7 248.6,263.4 254.3,264.6 260.1,265.2 266.5,265.3 272.9,264.9 279.9,263.8 286.8,262.2 294.4,260.0 302.3,257.1 310.5,253.7 319.3,249.5 328.7,244.7 339.1,238.9 350.3,232.1 362.2,224.7 375.2,216.1 388.9,206.7 432.6,175.5 449.9,163.6 459.3,157.5 469.1,151.5 479.1,145.7 489.4,140.0 504.6,132.1 521.3,124.1 538.9,116.1 557.1,108.4 575.7,101.1 594.5,94.1 613.6,87.5 632.4,81.4 649.1,76.5 665.5,72.0 681.9,68.0 698.0,64.4 714.7,61.1 732.1,58.2 750.3,55.4 769.7,52.9 794.6,50.1 824.4,47.1 856.0,44.3 887.2,41.9 917.3,39.8 947.1,38.1 976.5,36.7 1006.0,35.6 1006.0,46.4 976.5,47.5 947.1,48.9 917.3,50.6 887.2,52.7 856.0,55.1 824.4,57.9 794.6,60.9 769.7,63.7 750.3,66.3 732.1,69.0 714.7,72.0 698.0,75.2 681.9,78.8 665.5,82.8 649.1,87.3 632.4,92.2 613.6,98.3 594.5,104.9 575.7,111.9 557.1,119.2 538.9,126.9 521.3,134.9 504.6,142.9 489.4,150.8 479.1,156.5 469.1,162.3 459.3,168.3 449.9,174.4 432.6,186.3 388.9,217.5 375.2,226.9 362.2,235.5 350.3,242.9 339.1,249.7 328.7,255.5 319.3,260.3 310.5,264.5 302.3,267.9 294.4,270.8 286.8,273.1 279.9,274.7 272.9,275.7 266.5,276.1 260.1,276.0 254.3,275.4 248.6,274.2 242.8,272.5 237.0,270.3 231.3,267.4 225.8,264.2 220.3,260.4 214.9,256.0 209.4,251.0 204.2,245.7 198.8,239.5 193.6,232.9 188.7,226.2 183.9,218.8 179.3,211.3 174.8,203.0 170.2,193.9 165.7,183.9 161.1,173.0 156.6,161.1 151.4,146.8 145.9,130.9 137.7,106.0 132.3,88.8 125.3,64.9 122.2,53.5 119.2,41.2 113.4,15.4 107.4,-15.3Z" fill="#141414" stroke="#141414" stroke-width="0.5"/>
</g>
<g fill="none" stroke-width="0.95">
<path d="M164.8,238.7 170.2,250.8 176.0,262.2 181.8,272.3 188.1,282.3 194.8,291.5 201.8,300.0 208.8,307.4 216.1,314.0 223.4,319.5 230.7,324.0 237.9,327.6 245.5,330.3 253.1,332.1 261.0,333.0 268.9,333.0 277.1,332.1 283.8,330.8 290.5,329.0 297.8,326.6 305.4,323.6 313.3,320.2 321.8,316.1 330.6,311.4 339.7,306.3 358.5,294.8 378.9,281.4 397.4,268.5 435.6,241.1 454.2,228.6 464.2,222.2 474.8,215.9 485.8,209.7 497.0,203.7 511.6,196.4 527.1,189.2 543.2,182.0 559.6,175.2 576.3,168.6 593.6,162.2 610.9,156.1 628.2,150.5 645.2,145.4 662.2,140.6 678.6,136.5 695.0,132.8 711.7,129.5 729.0,126.4 747.2,123.6 767.0,121.0 791.9,118.1 821.6,115.1 853.8,112.2 885.7,109.7 916.1,107.6 946.2,105.9 976.2,104.5 1006.0,103.4" stroke="#929292"/>
<path d="M169.3,244.2 174.8,255.2 180.5,265.6 186.3,274.9 192.7,284.0 199.4,292.4 206.1,299.9 212.7,306.4 219.7,312.2 226.7,317.0 233.7,320.9 240.7,324.0 248.0,326.3 255.3,327.8 262.8,328.4 270.4,328.2 278.3,327.2 285.0,325.8 291.7,323.9 299.0,321.4 306.6,318.4 314.5,314.9 322.7,310.9 331.5,306.2 340.6,301.0 359.1,289.7 379.2,276.4 397.4,263.8 435.3,236.6 453.9,224.0 464.2,217.5 474.5,211.3 485.2,205.3 496.4,199.3 511.0,192.0 526.5,184.7 542.5,177.6 559.3,170.6 576.3,163.9 593.6,157.5 610.9,151.4 628.2,145.8 645.2,140.7 662.2,135.9 678.6,131.8 695.0,128.1 711.7,124.8 729.0,121.7 747.2,118.9 767.0,116.3 791.9,113.4 821.6,110.4 853.8,107.5 885.7,105.0 916.1,102.9 946.2,101.2 976.2,99.8 1006.0,98.7" stroke="#8f8f8f"/>
<path d="M173.6,248.5 179.0,258.6 184.5,267.7 190.3,276.2 196.6,284.7 203.0,292.2 209.4,298.9 216.1,304.9 222.8,310.0 229.4,314.3 236.1,317.7 243.1,320.5 250.1,322.4 257.1,323.6 264.4,324.0 271.7,323.7 279.2,322.6 285.9,321.2 292.6,319.2 299.6,316.8 307.2,313.8 315.1,310.3 323.3,306.2 331.8,301.7 340.9,296.5 359.4,285.1 379.5,271.9 397.7,259.2 435.3,232.3 453.9,219.7 463.9,213.3 474.2,207.1 484.8,201.1 496.1,195.1 510.7,187.8 526.1,180.5 542.2,173.3 558.9,166.3 576.0,159.6 593.3,153.2 610.6,147.1 627.9,141.5 644.9,136.4 661.9,131.6 678.6,127.4 695.0,123.7 711.7,120.4 729.0,117.3 747.2,114.5 767.0,111.9 791.9,109.0 821.6,106.0 853.8,103.2 885.7,100.6 916.1,98.6 946.2,96.8 976.2,95.4 1006.0,94.3" stroke="#8d8d8d"/>
<path d="M178.1,252.9 183.6,262.1 189.0,270.4 194.8,278.3 200.9,285.7 207.0,292.4 213.0,298.2 219.4,303.5 225.8,308.0 232.2,311.7 238.6,314.7 245.2,317.1 251.9,318.7 258.6,319.7 265.6,320.0 272.9,319.5 280.2,318.4 286.5,316.9 293.5,314.9 300.5,312.4 308.1,309.3 315.7,305.9 323.9,301.8 332.4,297.3 341.5,292.0 360.0,280.6 379.8,267.6 397.7,255.1 435.0,228.4 453.6,215.8 463.6,209.4 473.9,203.2 484.5,197.2 495.5,191.4 510.1,184.0 525.8,176.6 541.9,169.4 558.6,162.4 575.7,155.7 593.0,149.2 610.6,143.1 627.9,137.4 644.9,132.3 661.9,127.6 678.6,123.4 695.0,119.6 711.7,116.3 729.0,113.3 747.2,110.5 767.0,107.8 791.9,105.0 821.6,102.0 853.8,99.1 885.7,96.6 916.1,94.5 946.2,92.7 976.2,91.3 1006.0,90.2" stroke="#8b8b8b"/>
<path d="M183.0,257.4 188.4,265.8 193.9,273.3 199.7,280.5 205.4,287.0 211.2,292.7 217.3,298.0 223.4,302.6 229.4,306.4 235.5,309.6 241.6,312.1 248.0,314.1 254.3,315.4 260.7,316.0 267.4,316.1 274.4,315.5 281.4,314.3 287.7,312.8 294.7,310.7 301.7,308.1 309.3,305.0 316.9,301.5 325.1,297.4 333.6,292.8 342.4,287.7 360.6,276.4 380.1,263.6 397.7,251.3 435.0,224.6 453.3,212.2 463.3,205.8 473.6,199.6 484.2,193.6 495.2,187.7 509.7,180.4 525.5,172.9 541.6,165.7 558.3,158.7 575.3,152.0 592.7,145.5 610.3,139.4 627.6,133.7 644.6,128.6 661.6,123.9 678.3,119.6 694.7,115.9 711.4,112.6 728.7,109.5 746.9,106.7 766.7,104.1 791.6,101.2 821.0,98.2 853.2,95.3 885.4,92.8 915.8,90.7 946.2,88.9 976.2,87.5 1006.0,86.4" stroke="#888888"/>
<path d="M188.4,262.2 193.6,269.4 199.1,276.3 204.5,282.5 210.0,288.0 215.5,293.0 221.2,297.5 227.0,301.4 232.8,304.7 238.6,307.4 244.6,309.6 250.7,311.2 256.8,312.2 262.8,312.6 269.2,312.5 275.6,311.8 282.3,310.6 288.7,309.0 295.3,306.9 302.6,304.3 309.9,301.2 317.5,297.7 325.4,293.7 333.9,289.1 342.7,284.0 360.9,272.7 380.4,259.8 398.0,247.6 435.0,221.1 453.3,208.7 463.3,202.3 473.3,196.3 483.9,190.2 494.9,184.3 509.4,177.0 525.2,169.5 541.3,162.3 558.0,155.3 575.0,148.6 592.7,142.0 610.3,135.9 627.6,130.2 644.6,125.1 661.6,120.3 678.3,116.1 694.7,112.4 711.4,109.0 728.7,106.0 746.9,103.2 766.7,100.5 791.6,97.7 821.0,94.7 853.2,91.8 885.4,89.3 915.8,87.2 946.2,85.4 976.2,84.0 1006.0,82.9" stroke="#858585"/>
<path d="M194.2,266.9 199.4,273.4 204.5,279.2 209.7,284.5 214.9,289.2 220.0,293.3 225.5,297.2 231.0,300.4 236.4,303.2 241.9,305.4 247.7,307.2 253.4,308.4 259.2,309.1 265.0,309.3 271.0,309.1 277.1,308.3 283.5,307.1 289.9,305.4 296.6,303.2 303.8,300.5 311.1,297.4 318.7,293.8 326.6,289.8 334.8,285.3 343.6,280.2 361.5,269.0 380.7,256.4 398.0,244.3 434.7,218.0 453.0,205.6 463.0,199.2 473.0,193.1 483.3,187.3 494.3,181.4 508.8,174.0 524.6,166.5 541.0,159.2 557.7,152.1 574.7,145.4 592.4,138.8 610.0,132.7 627.6,126.9 644.6,121.8 661.6,117.0 678.3,112.8 694.7,109.1 711.4,105.8 728.7,102.7 746.9,99.9 766.7,97.3 791.6,94.4 821.0,91.4 853.2,88.5 885.4,86.0 915.8,83.9 946.2,82.1 976.2,80.7 1006.0,79.6" stroke="#7a7a7a"/>
<path d="M200.9,272.1 205.8,277.4 210.6,282.3 215.5,286.6 220.3,290.5 225.2,293.9 230.4,297.0 235.5,299.7 240.7,301.9 245.8,303.6 251.3,305.0 256.5,305.8 261.9,306.2 267.4,306.2 272.9,305.8 278.6,305.0 284.7,303.7 291.1,302.0 297.8,299.7 304.8,297.1 312.0,293.9 319.3,290.5 327.2,286.4 335.4,281.9 344.2,276.7 361.9,265.8 381.0,253.1 398.3,241.0 434.7,214.9 453.0,202.5 462.7,196.3 472.7,190.3 483.0,184.4 494.0,178.5 508.5,171.1 524.3,163.6 540.7,156.2 557.4,149.2 574.4,142.5 592.1,135.9 609.7,129.7 627.3,124.0 644.6,118.7 661.6,114.0 678.3,109.8 694.7,106.0 711.4,102.7 728.7,99.7 746.9,96.9 766.7,94.2 791.6,91.3 821.0,88.4 853.2,85.5 885.4,82.9 915.8,80.8 946.2,79.1 976.2,77.6 1006.0,76.6" stroke="#6f6f6f"/>
<path d="M207.3,276.2 212.4,281.1 217.6,285.5 222.8,289.4 227.9,292.8 233.4,295.8 238.9,298.3 244.3,300.3 249.8,301.8 255.3,302.8 260.7,303.3 266.5,303.4 272.3,303.1 278.3,302.2 284.7,300.9 291.1,299.1 298.1,296.8 309.6,292.2 322.1,286.3 335.4,279.0 350.0,270.4 366.1,260.2 383.1,248.8 398.9,237.7 435.0,211.9 454.5,198.7 465.7,191.6 477.3,184.8 489.4,178.1 501.9,171.6 521.0,162.3 541.3,153.1 562.0,144.5 583.2,136.3 605.4,128.3 627.3,121.1 648.5,114.7 669.5,109.1 683.8,105.6 697.7,102.6 712.3,99.7 727.2,97.1 742.7,94.6 759.1,92.3 776.7,90.1 795.8,88.0 848.7,83.0 901.8,78.9 954.1,75.8 980.2,74.6 1006.0,73.7" stroke="#666666"/>
<path d="M214.3,280.1 219.1,284.1 224.0,287.6 228.8,290.7 234.0,293.5 239.2,295.8 244.3,297.7 249.5,299.1 254.6,300.1 259.8,300.6 265.3,300.8 270.7,300.6 276.2,299.9 282.0,298.9 288.1,297.4 294.4,295.4 301.1,293.0 312.3,288.3 324.5,282.4 337.6,275.2 351.8,266.6 367.3,256.7 384.0,245.5 399.2,234.9 434.4,209.7 453.6,196.6 464.5,189.7 475.7,183.0 487.3,176.6 499.4,170.2 517.6,161.2 537.4,152.2 557.4,143.7 578.1,135.6 599.6,127.7 621.2,120.4 642.2,113.9 662.5,108.3 677.1,104.6 691.7,101.2 706.2,98.2 721.1,95.5 736.9,92.9 753.3,90.5 770.9,88.2 790.1,86.0 815.6,83.4 844.1,80.8 871.4,78.5 898.8,76.5 925.8,74.7 952.8,73.2 979.6,72.0 1006.0,71.1" stroke="#5b5b5b"/>
<path d="M221.8,283.7 225.8,286.4 230.0,288.9 234.0,291.0 238.2,293.0 242.2,294.5 246.4,295.8 250.7,296.9 255.0,297.6 259.2,298.1 263.5,298.3 267.7,298.3 272.3,297.9 276.8,297.4 281.7,296.5 291.4,293.9 302.0,290.2 313.6,285.3 325.7,279.3 338.8,272.0 354.0,262.8 370.4,252.3 387.7,240.5 406.8,227.0" stroke="#4f4f4f"/>
<path d="M421.7,216.3 437.5,205.1 450.2,196.4 461.8,188.9 473.3,182.0 486.1,174.8 499.4,167.7 513.7,160.6 529.2,153.4 546.2,145.9 563.5,138.8 581.1,132.0 599.3,125.3 617.6,119.1 635.2,113.6 652.5,108.5 669.8,103.9 684.1,100.5 698.0,97.4 712.6,94.5 727.5,91.9 743.0,89.5 759.4,87.2 777.0,85.0 796.1,82.9 849.0,77.9 902.1,73.8 954.4,70.7 1006.0,68.6" stroke="#4f4f4f"/>
<path d="M230.4,286.8 235.5,289.5 241.0,291.8 246.4,293.5 251.9,294.8 257.4,295.7 263.1,296.0 268.9,295.9 275.0,295.3 281.1,294.3 287.4,292.8 294.1,290.8 301.4,288.1 309.0,285.0 316.6,281.6 324.8,277.4 333.3,272.8" stroke="#434343"/>
<path d="M481.5,175.0 492.7,168.9 504.6,162.8 517.3,156.6 530.7,150.4 544.4,144.4 558.0,138.7 572.3,133.0 586.6,127.6 601.2,122.4 615.7,117.4 630.0,112.9 644.0,108.6 658.0,104.7 671.6,101.2 685.3,97.9 698.6,95.0 712.0,92.3 725.7,89.9 754.8,85.5 787.0,81.6 826.5,77.6 872.1,73.7 917.0,70.5 961.6,68.1 1006.0,66.3" stroke="#434343"/>
<path d="M241.0,289.6 247.7,291.7 254.3,293.1 261.3,293.8 268.3,293.8 275.6,293.1 282.9,291.8 290.8,289.7 299.3,286.8" stroke="#393939"/>
<path d="M585.7,125.8 606.3,118.5 626.7,111.8 646.7,105.7 666.2,100.4 685.0,95.8 703.8,91.8 723.6,88.1 744.2,84.9 768.8,81.6 796.7,78.4 832.9,74.9 869.6,71.8 903.9,69.2 938.3,67.1 972.3,65.4 1006.0,64.2" stroke="#393939"/>
<path d="M97.0,-13.5 104.0,28.3 110.7,64.0 117.4,95.4 120.7,109.4 124.1,122.4 128.3,137.6 133.2,153.7 147.7,198.3 153.2,214.0 158.4,228.0 162.9,239.5 167.5,250.0 172.0,259.6 176.6,268.4 181.5,276.9 186.3,284.6 191.5,292.1 196.9,299.2 202.4,305.7 208.2,311.8 213.6,316.9 219.4,321.7 225.2,325.8 231.3,329.4 237.0,332.3 243.1,334.6 249.2,336.4 255.6,337.6 262.2,338.1 268.9,338.1 276.2,337.3 283.5,335.9 291.4,333.8 299.6,331.0 308.4,327.4 317.8,323.1 327.2,318.3 337.6,312.6 348.8,305.9 361.2,298.1 374.3,289.5 388.3,280.0 432.6,248.3 450.2,236.2 459.9,229.9 469.7,224.0 479.7,218.1 490.0,212.5 505.5,204.5 522.2,196.5 540.1,188.4 558.3,180.7 577.2,173.3 596.3,166.2 615.4,159.7 634.3,153.7 651.0,148.8 667.4,144.4 683.5,140.4 699.6,136.9 716.0,133.7 733.3,130.8 751.5,128.1 770.9,125.6 795.8,122.8 825.9,119.8 857.2,117.0 888.2,114.6 917.9,112.6 947.4,110.9 976.8,109.5 1006.0,108.4" stroke="#969696"/>
</g>
<path d="M108.4,-20.4 114.4,9.2 120.2,34.6 126.4,58.0 133.4,81.8 147.0,123.3 152.5,139.1 157.4,152.5 161.9,164.1 166.2,174.4 170.8,184.2 175.5,193.5 180.0,201.6 184.5,209.1 189.3,216.1 194.3,223.1 199.6,229.6 204.8,235.5 210.1,240.9 215.5,245.7 221.0,250.0 226.4,253.8 231.8,256.9 237.5,259.6 243.1,261.8 248.7,263.4 254.5,264.6 260.3,265.2 266.6,265.3 273.2,264.9 279.9,263.8 286.9,262.2 294.4,260.0 302.3,257.1 310.7,253.6 319.4,249.5 328.8,244.6 338.9,238.9 350.2,232.2 362.3,224.6 375.2,216.1 389.0,206.7 432.4,175.6 449.7,163.8 459.3,157.5 468.7,151.7 478.7,145.9 488.8,140.3 504.0,132.4 520.5,124.4 538.1,116.5 556.0,108.8 574.3,101.6 593.2,94.5 612.2,87.9 630.9,81.9 647.5,76.9 664.0,72.4 680.3,68.3 696.3,64.8 712.8,61.5 729.8,58.5 747.8,55.8 767.0,53.2 791.1,50.4 819.7,47.6 851.2,44.7 882.4,42.2 912.1,40.1 941.7,38.4 970.8,36.9 1000.0,35.8" fill="none" stroke="#141414" stroke-width="1.6"/>
<g fill="none">
<path d="M95.2,66.7 102.3,110.2 109.2,148.1 116.0,181.4 119.5,196.3 122.9,210.1 127.1,225.3 131.8,241.2 137.4,259.0 145.8,284.3 151.6,301.2 156.8,315.7 161.7,328.4 166.2,339.1 170.8,348.9 175.3,357.9 180.0,366.4 185.1,374.6 190.3,382.4 196.0,389.9 201.6,396.7 207.2,402.7 212.8,408.1 218.6,413.0 224.4,417.2 230.4,420.9 236.4,423.9 242.5,426.3 248.7,428.2 254.9,429.4 261.6,430.0 268.4,430.0 275.7,429.3 283.1,427.9 290.9,425.8 299.3,423.0 308.1,419.4 317.6,415.1 327.3,410.1 337.7,404.4 349.1,397.6 361.4,389.9 374.5,381.3 388.4,371.8 432.6,340.2 450.0,328.2 459.6,322.0 469.2,316.1 479.2,310.3 489.5,304.6 504.9,296.7 521.6,288.6 539.4,280.6 557.5,273.0 576.1,265.6 595.2,258.5 614.2,252.0 633.0,245.9 649.5,241.1 665.8,236.7 682.0,232.7 697.9,229.2 714.2,226.0 731.3,223.0 749.2,220.3 768.2,217.8 792.5,215.0 821.1,212.1 852.3,209.3 883.3,206.9 912.8,204.8 942.0,203.1 971.0,201.7 1000.0,200.5" stroke="#005a80" stroke-width="3.05"/>
<path d="M95.2,42.4 102.3,85.8 109.2,123.7 116.0,157.1 119.5,172.0 122.9,185.7 127.1,201.0 131.8,216.9 137.4,234.6 145.8,259.9 151.6,276.8 156.8,291.4 161.7,304.0 166.2,314.8 170.8,324.6 175.3,333.5 180.0,342.0 185.1,350.3 190.3,358.0 196.0,365.5 201.6,372.3 207.2,378.4 212.8,383.7 218.6,388.6 224.4,392.8 230.4,396.5 236.4,399.5 242.5,402.0 248.7,403.8 254.9,405.0 261.6,405.6 268.4,405.6 275.7,404.9 283.1,403.5 290.9,401.4 299.3,398.6 308.1,395.1 317.6,390.8 327.3,385.8 337.7,380.0 349.1,373.2 361.4,365.5 374.5,356.9 388.4,347.4 432.6,315.8 450.0,303.9 459.6,297.6 469.2,291.7 479.2,285.9 489.5,280.3 504.9,272.3 521.6,264.3 539.4,256.3 557.5,248.6 576.1,241.2 595.2,234.2 614.2,227.6 633.0,221.6 649.5,216.7 665.8,212.3 682.0,208.3 697.9,204.8 714.2,201.6 731.3,198.7 749.2,195.9 768.2,193.4 792.5,190.6 821.1,187.8 852.3,185.0 883.3,182.5 912.8,180.4 942.0,178.7 971.0,177.3 1000.0,176.2" stroke="#9b7198" stroke-width="3.05"/>
<path d="M95.2,23.0 102.3,66.5 109.2,104.4 116.0,137.7 119.5,152.6 122.9,166.3 127.1,181.6 131.8,197.5 137.4,215.3 145.8,240.6 151.6,257.5 156.8,272.0 161.7,284.7 166.2,295.4 170.8,305.2 175.3,314.2 180.0,322.7 185.1,330.9 190.3,338.7 196.0,346.2 201.6,353.0 207.2,359.0 212.8,364.4 218.6,369.3 224.4,373.5 230.4,377.2 236.4,380.2 242.5,382.6 248.7,384.5 254.9,385.7 261.6,386.3 268.4,386.3 275.7,385.6 283.1,384.2 290.9,382.1 299.3,379.3 308.1,375.7 317.6,371.4 327.3,366.4 337.7,360.7 349.1,353.9 361.4,346.2 374.5,337.6 388.4,328.1 432.6,296.5 450.0,284.5 459.6,278.3 469.2,272.4 479.2,266.6 489.5,260.9 504.9,253.0 521.6,244.9 539.4,236.9 557.5,229.3 576.1,221.9 595.2,214.8 614.2,208.3 633.0,202.2 649.5,197.4 665.8,192.9 682.0,189.0 697.9,185.5 714.2,182.3 731.3,179.3 749.2,176.6 768.2,174.1 792.5,171.3 821.1,168.4 852.3,165.6 883.3,163.2 912.8,161.1 942.0,159.4 971.0,158.0 1000.0,156.8" stroke="#8b5a44" stroke-width="3.05"/>
<path d="M95.2,7.4 102.3,50.9 109.2,88.8 116.0,122.1 119.5,137.0 122.9,150.8 127.1,166.0 131.8,181.9 137.4,199.7 145.8,225.0 151.6,241.9 156.8,256.4 161.7,269.1 166.2,279.8 170.8,289.6 175.3,298.6 180.0,307.1 185.1,315.3 190.3,323.1 196.0,330.6 201.6,337.4 207.2,343.4 212.8,348.8 218.6,353.7 224.4,357.9 230.4,361.6 236.4,364.6 242.5,367.0 248.7,368.9 254.9,370.1 261.6,370.7 268.4,370.7 275.7,370.0 283.1,368.6 290.9,366.5 299.3,363.7 308.1,360.1 317.6,355.8 327.3,350.8 337.7,345.1 349.1,338.3 361.4,330.6 374.5,322.0 388.4,312.5 432.6,280.9 450.0,268.9 459.6,262.7 469.2,256.8 479.2,251.0 489.5,245.3 504.9,237.4 521.6,229.3 539.4,221.3 557.5,213.7 576.1,206.3 595.2,199.2 614.2,192.7 633.0,186.6 649.5,181.8 665.8,177.4 682.0,173.4 697.9,169.9 714.2,166.7 731.3,163.7 749.2,161.0 768.2,158.5 792.5,155.7 821.1,152.8 852.3,150.0 883.3,147.6 912.8,145.5 942.0,143.8 971.0,142.4 1000.0,141.2" stroke="#237043" stroke-width="3.05"/>
<path d="M95.2,-5.3 102.3,38.1 109.2,76.0 116.0,109.4 119.5,124.3 122.9,138.0 127.1,153.3 131.8,169.2 137.4,186.9 145.8,212.2 151.6,229.2 156.8,243.7 161.7,256.3 166.2,267.1 170.8,276.9 175.3,285.8 180.0,294.3 185.1,302.6 190.3,310.3 196.0,317.8 201.6,324.6 207.2,330.7 212.8,336.0 218.6,340.9 224.4,345.1 230.4,348.8 236.4,351.8 242.5,354.3 248.7,356.1 254.9,357.3 261.6,357.9 268.4,357.9 275.7,357.2 283.1,355.8 290.9,353.7 299.3,350.9 308.1,347.4 317.6,343.1 327.3,338.1 337.7,332.3 349.1,325.5 361.4,317.8 374.5,309.2 388.4,299.7 432.6,268.1 450.0,256.2 459.6,249.9 469.2,244.0 479.2,238.2 489.5,232.6 504.9,224.6 521.6,216.6 539.4,208.6 557.5,200.9 576.1,193.5 595.2,186.5 614.2,179.9 633.0,173.9 649.5,169.0 665.8,164.6 682.0,160.6 697.9,157.1 714.2,153.9 731.3,151.0 749.2,148.2 768.2,145.7 792.5,142.9 821.1,140.1 852.3,137.3 883.3,134.8 912.8,132.7 942.0,131.0 971.0,129.6 1000.0,128.5" stroke="#ec8a14" stroke-width="3.05"/>
<path d="M95.2,-15.9 102.3,27.6 109.2,65.4 116.0,98.8 119.5,113.7 122.9,127.4 127.1,142.7 131.8,158.6 137.4,176.3 145.8,201.7 151.6,218.6 156.8,233.1 161.7,245.7 166.2,256.5 170.8,266.3 175.3,275.2 180.0,283.7 185.1,292.0 190.3,299.7 196.0,307.2 201.6,314.0 207.2,320.1 212.8,325.5 218.6,330.3 224.4,334.5 230.4,338.2 236.4,341.2 242.5,343.7 248.7,345.5 254.9,346.7 261.6,347.4 268.4,347.3 275.7,346.6 283.1,345.2 290.9,343.2 299.3,340.3 308.1,336.8 317.6,332.5 327.3,327.5 337.7,321.7 349.1,314.9 361.4,307.2 374.5,298.6 388.4,289.1 432.6,257.6 450.0,245.6 459.6,239.4 469.2,233.5 479.2,227.7 489.5,222.0 504.9,214.0 521.6,206.0 539.4,198.0 557.5,190.3 576.1,182.9 595.2,175.9 614.2,169.3 633.0,163.3 649.5,158.4 665.8,154.0 682.0,150.0 697.9,146.5 714.2,143.3 731.3,140.4 749.2,137.7 768.2,135.1 792.5,132.4 821.1,129.5 852.3,126.7 883.3,124.2 912.8,122.2 942.0,120.4 971.0,119.0 1000.0,117.9" stroke="#005d91" stroke-width="3.05"/>
</g>
<g stroke-linejoin="round">
<path d="M303.8,560.2 304.8,558.1 304.8,562.8 303.8,564.9Z" fill="#cccccc" stroke="#cccccc" stroke-width="0.5"/>
<path d="M304.6,558.6 307.0,553.4 307.0,558.1 304.6,563.3Z" fill="#d2d2d2" stroke="#d2d2d2" stroke-width="0.5"/>
<path d="M301.9,560.2 302.3,559.1 302.3,563.5 301.9,564.6Z" fill="#c6c6c6" stroke="#c6c6c6" stroke-width="0.5"/>
<path d="M302.1,559.7 310.4,541.8 320.2,522.2 320.2,526.6 310.4,546.2 302.1,564.0Z" fill="#cccccc" stroke="#cccccc" stroke-width="0.5"/>
<path d="M338.3,487.2 358.2,448.4 358.2,452.8 338.3,491.5Z" fill="#cccccc" stroke="#cccccc" stroke-width="0.5"/>
<path d="M300.1,560.0 300.9,558.3 300.9,562.4 300.1,564.1Z" fill="#c0c0c0" stroke="#c0c0c0" stroke-width="0.5"/>
<path d="M300.6,558.9 307.5,543.9 315.1,528.3 315.1,532.4 307.5,547.9 300.6,563.0Z" fill="#c6c6c6" stroke="#c6c6c6" stroke-width="0.5"/>
<path d="M314.8,528.8 373.1,415.4 388.1,387.3 401.3,363.2 401.3,367.3 388.1,391.3 373.1,419.5 314.8,532.8Z" fill="#cccccc" stroke="#cccccc" stroke-width="0.5"/>
<path d="M298.4,560.2 300.4,555.7 300.4,559.5 298.4,564.0Z" fill="#bababa" stroke="#bababa" stroke-width="0.5"/>
<path d="M300.1,556.2 306.0,543.2 312.4,529.9 312.4,533.7 306.0,547.0 300.1,560.0Z" fill="#c0c0c0" stroke="#c0c0c0" stroke-width="0.5"/>
<path d="M312.1,530.4 320.2,514.4 372.1,413.5 387.6,384.4 401.0,359.9 401.0,363.7 387.6,388.2 372.1,417.3 320.2,518.1 312.1,534.2Z" fill="#c6c6c6" stroke="#c6c6c6" stroke-width="0.5"/>
<path d="M400.8,360.3 410.6,343.3 419.7,328.3 419.7,332.0 410.6,347.1 400.8,364.1Z" fill="#cccccc" stroke="#cccccc" stroke-width="0.5"/>
<path d="M297.0,560.1 301.4,549.9 301.4,553.4 297.0,563.6Z" fill="#b4b4b4" stroke="#b4b4b4" stroke-width="0.5"/>
<path d="M301.1,550.5 306.5,538.6 312.6,525.9 312.6,529.4 306.5,542.2 301.1,554.0Z" fill="#bababa" stroke="#bababa" stroke-width="0.5"/>
<path d="M312.4,526.4 320.2,510.8 370.4,413.3 385.1,385.4 397.9,362.0 397.9,365.6 385.1,388.9 370.4,416.8 320.2,514.4 312.4,529.9Z" fill="#c0c0c0" stroke="#c0c0c0" stroke-width="0.5"/>
<path d="M397.6,362.5 411.6,338.1 424.3,317.4 424.3,320.9 411.6,341.6 397.6,366.0Z" fill="#c6c6c6" stroke="#c6c6c6" stroke-width="0.5"/>
<path d="M424.1,317.7 432.9,304.5 432.9,308.0 424.1,321.3Z" fill="#cccccc" stroke="#cccccc" stroke-width="0.5"/>
<path d="M295.5,560.4 302.3,544.4 302.3,547.7 295.5,563.6Z" fill="#a8a8a8" stroke="#a8a8a8" stroke-width="0.5"/>
<path d="M302.1,545.0 311.9,524.1 311.9,527.4 302.1,548.3Z" fill="#aeaeae" stroke="#aeaeae" stroke-width="0.5"/>
<path d="M311.7,524.6 319.7,508.5 365.8,419.0 378.5,394.6 389.5,373.9 389.5,377.2 378.5,397.9 365.8,422.3 319.7,511.8 311.7,527.9Z" fill="#b4b4b4" stroke="#b4b4b4" stroke-width="0.5"/>
<path d="M389.3,374.4 403.7,348.3 416.5,326.6 416.5,329.9 403.7,351.6 389.3,377.7Z" fill="#bababa" stroke="#bababa" stroke-width="0.5"/>
<path d="M416.2,327.0 425.5,312.2 434.4,299.1 434.4,302.3 425.5,315.5 416.2,330.3Z" fill="#c0c0c0" stroke="#c0c0c0" stroke-width="0.5"/>
<path d="M434.1,299.4 445.9,283.3 445.9,286.6 434.1,302.7Z" fill="#c6c6c6" stroke="#c6c6c6" stroke-width="0.5"/>
<path d="M294.3,560.3 297.7,552.0 297.7,555.1 294.3,563.4Z" fill="#969696" stroke="#969696" stroke-width="0.5"/>
<path d="M297.4,552.6 304.1,537.6 304.1,540.6 297.4,555.7Z" fill="#9c9c9c" stroke="#9c9c9c" stroke-width="0.5"/>
<path d="M303.8,538.1 312.9,519.0 312.9,522.1 303.8,541.2Z" fill="#a2a2a2" stroke="#a2a2a2" stroke-width="0.5"/>
<path d="M312.6,519.5 365.3,416.9 387.1,375.4 387.1,378.5 365.3,419.9 312.6,522.6Z" fill="#a8a8a8" stroke="#a8a8a8" stroke-width="0.5"/>
<path d="M386.8,375.9 400.1,351.7 412.1,330.9 412.1,334.0 400.1,354.8 386.8,378.9Z" fill="#aeaeae" stroke="#aeaeae" stroke-width="0.5"/>
<path d="M411.8,331.3 420.4,317.2 428.5,304.6 428.5,307.7 420.4,320.3 411.8,334.4Z" fill="#b4b4b4" stroke="#b4b4b4" stroke-width="0.5"/>
<path d="M428.2,305.0 436.1,293.6 443.9,282.8 443.9,285.9 436.1,296.6 428.2,308.1Z" fill="#bababa" stroke="#bababa" stroke-width="0.5"/>
<path d="M443.7,283.2 451.7,272.8 460.1,262.9 460.1,265.9 451.7,275.9 443.7,286.2Z" fill="#c0c0c0" stroke="#c0c0c0" stroke-width="0.5"/>
<path d="M293.0,560.5 295.5,554.5 295.5,557.3 293.0,563.3Z" fill="#848484" stroke="#848484" stroke-width="0.5"/>
<path d="M295.2,555.1 300.4,542.9 300.4,545.8 295.2,557.9Z" fill="#8a8a8a" stroke="#8a8a8a" stroke-width="0.5"/>
<path d="M300.1,543.5 306.5,529.4 306.5,532.3 300.1,546.3Z" fill="#909090" stroke="#909090" stroke-width="0.5"/>
<path d="M306.3,530.0 315.3,511.3 315.3,514.1 306.3,532.8Z" fill="#969696" stroke="#969696" stroke-width="0.5"/>
<path d="M315.1,511.8 367.5,409.8 389.5,368.0 389.5,370.9 367.5,412.6 315.1,514.6Z" fill="#9c9c9c" stroke="#9c9c9c" stroke-width="0.5"/>
<path d="M389.3,368.5 400.8,347.6 411.1,329.7 411.1,332.6 400.8,350.4 389.3,371.3Z" fill="#a2a2a2" stroke="#a2a2a2" stroke-width="0.5"/>
<path d="M410.8,330.1 418.4,317.5 425.8,305.9 425.8,308.7 418.4,320.4 410.8,333.0Z" fill="#a8a8a8" stroke="#a8a8a8" stroke-width="0.5"/>
<path d="M425.5,306.3 432.2,296.3 438.8,287.0 438.8,289.8 432.2,299.2 425.5,309.1Z" fill="#aeaeae" stroke="#aeaeae" stroke-width="0.5"/>
<path d="M438.5,287.3 446.1,277.1 453.9,267.3 453.9,270.1 446.1,280.0 438.5,290.1Z" fill="#b4b4b4" stroke="#b4b4b4" stroke-width="0.5"/>
<path d="M453.7,267.6 463.7,255.8 474.5,244.2 474.5,247.0 463.7,258.7 453.7,270.4Z" fill="#bababa" stroke="#bababa" stroke-width="0.5"/>
<path d="M474.3,244.5 479.7,238.9 479.7,241.8 474.3,247.3Z" fill="#c0c0c0" stroke="#c0c0c0" stroke-width="0.5"/>
<path d="M292.1,560.3 295.2,552.4 295.2,555.1 292.1,563.0Z" fill="#727272" stroke="#727272" stroke-width="0.5"/>
<path d="M295.0,553.0 299.4,542.5 299.4,545.2 295.0,555.7Z" fill="#787878" stroke="#787878" stroke-width="0.5"/>
<path d="M299.2,543.1 304.3,531.6 304.3,534.2 299.2,545.8Z" fill="#7e7e7e" stroke="#7e7e7e" stroke-width="0.5"/>
<path d="M304.1,532.1 310.7,518.1 310.7,520.7 304.1,534.7Z" fill="#848484" stroke="#848484" stroke-width="0.5"/>
<path d="M310.4,518.6 322.9,493.8 322.9,496.4 310.4,521.2Z" fill="#8a8a8a" stroke="#8a8a8a" stroke-width="0.5"/>
<path d="M322.7,494.2 331.7,476.8 331.7,479.4 322.7,496.9Z" fill="#909090" stroke="#909090" stroke-width="0.5"/>
<path d="M331.5,477.3 366.5,409.0 366.5,411.7 331.5,479.9Z" fill="#8a8a8a" stroke="#8a8a8a" stroke-width="0.5"/>
<path d="M366.3,409.5 382.9,377.7 397.1,351.5 397.1,354.2 382.9,380.3 366.3,412.1Z" fill="#909090" stroke="#909090" stroke-width="0.5"/>
<path d="M396.9,352.0 405.7,336.3 413.8,322.5 413.8,325.2 405.7,339.0 396.9,354.6Z" fill="#969696" stroke="#969696" stroke-width="0.5"/>
<path d="M413.5,322.9 426.3,302.5 426.3,305.1 413.5,325.6Z" fill="#9c9c9c" stroke="#9c9c9c" stroke-width="0.5"/>
<path d="M426.0,302.9 437.5,286.0 437.5,288.7 426.0,305.5Z" fill="#a2a2a2" stroke="#a2a2a2" stroke-width="0.5"/>
<path d="M437.3,286.4 443.9,277.4 450.5,268.8 450.5,271.5 443.9,280.0 437.3,289.0Z" fill="#a8a8a8" stroke="#a8a8a8" stroke-width="0.5"/>
<path d="M450.3,269.1 457.9,259.9 465.9,250.7 465.9,253.4 457.9,262.6 450.3,271.8Z" fill="#aeaeae" stroke="#aeaeae" stroke-width="0.5"/>
<path d="M465.7,251.0 479.4,236.5 495.6,220.8 495.6,223.4 479.4,239.2 465.7,253.6Z" fill="#b4b4b4" stroke="#b4b4b4" stroke-width="0.5"/>
<path d="M495.3,221.0 505.1,211.9 514.9,203.3 514.9,205.9 505.1,214.6 495.3,223.6Z" fill="#bababa" stroke="#bababa" stroke-width="0.5"/>
<path d="M291.1,560.4 293.8,553.6 293.8,556.0 291.1,562.8Z" fill="#5a5a5a" stroke="#5a5a5a" stroke-width="0.5"/>
<path d="M293.5,554.2 297.2,545.2 297.2,547.7 293.5,556.6Z" fill="#606060" stroke="#606060" stroke-width="0.5"/>
<path d="M297.0,545.8 301.1,536.2 301.1,538.6 297.0,548.3Z" fill="#666666" stroke="#666666" stroke-width="0.5"/>
<path d="M300.9,536.7 305.8,525.9 305.8,528.4 300.9,539.2Z" fill="#6c6c6c" stroke="#6c6c6c" stroke-width="0.5"/>
<path d="M305.5,526.4 311.7,513.6 311.7,516.1 305.5,528.9Z" fill="#727272" stroke="#727272" stroke-width="0.5"/>
<path d="M311.4,514.1 322.4,492.3 322.4,494.7 311.4,516.6Z" fill="#787878" stroke="#787878" stroke-width="0.5"/>
<path d="M322.2,492.7 332.7,472.4 332.7,474.9 322.2,495.2Z" fill="#7e7e7e" stroke="#7e7e7e" stroke-width="0.5"/>
<path d="M332.5,472.9 365.5,408.5 365.5,410.9 332.5,475.4Z" fill="#787878" stroke="#787878" stroke-width="0.5"/>
<path d="M365.3,408.9 380.7,379.4 393.7,355.3 393.7,357.7 380.7,381.9 365.3,411.4Z" fill="#7e7e7e" stroke="#7e7e7e" stroke-width="0.5"/>
<path d="M393.5,355.7 409.6,327.1 409.6,329.6 393.5,358.2Z" fill="#848484" stroke="#848484" stroke-width="0.5"/>
<path d="M409.4,327.5 421.1,308.1 421.1,310.5 409.4,330.0Z" fill="#8a8a8a" stroke="#8a8a8a" stroke-width="0.5"/>
<path d="M420.9,308.5 431.2,292.7 431.2,295.1 420.9,310.9Z" fill="#909090" stroke="#909090" stroke-width="0.5"/>
<path d="M430.9,293.0 441.2,278.5 441.2,281.0 430.9,295.5Z" fill="#969696" stroke="#969696" stroke-width="0.5"/>
<path d="M441.0,278.8 452.7,263.6 452.7,266.1 441.0,281.3Z" fill="#9c9c9c" stroke="#9c9c9c" stroke-width="0.5"/>
<path d="M452.5,263.9 459.3,255.7 466.7,247.5 466.7,249.9 459.3,258.2 452.5,266.4Z" fill="#a2a2a2" stroke="#a2a2a2" stroke-width="0.5"/>
<path d="M466.4,247.7 477.9,235.6 491.2,222.5 491.2,225.0 477.9,238.0 466.4,250.2Z" fill="#a8a8a8" stroke="#a8a8a8" stroke-width="0.5"/>
<path d="M490.9,222.7 500.5,213.7 509.8,205.3 519.3,197.0 528.6,189.3 528.6,191.8 519.3,199.5 509.8,207.8 500.5,216.2 490.9,225.2Z" fill="#aeaeae" stroke="#aeaeae" stroke-width="0.5"/>
<path d="M528.4,189.5 538.4,181.6 548.5,174.1 548.5,176.6 538.4,184.0 528.4,192.0Z" fill="#b4b4b4" stroke="#b4b4b4" stroke-width="0.5"/>
<path d="M290.1,560.6 293.8,551.3 293.8,553.6 290.1,562.9Z" fill="#424242" stroke="#424242" stroke-width="0.5"/>
<path d="M293.5,551.9 296.7,544.1 296.7,546.4 293.5,554.2Z" fill="#484848" stroke="#484848" stroke-width="0.5"/>
<path d="M296.5,544.7 299.9,536.7 299.9,539.0 296.5,547.0Z" fill="#4e4e4e" stroke="#4e4e4e" stroke-width="0.5"/>
<path d="M299.7,537.2 303.6,528.4 303.6,530.7 299.7,539.5Z" fill="#545454" stroke="#545454" stroke-width="0.5"/>
<path d="M303.3,529.0 308.0,518.9 308.0,521.2 303.3,531.2Z" fill="#5a5a5a" stroke="#5a5a5a" stroke-width="0.5"/>
<path d="M307.7,519.4 313.9,506.8 313.9,509.1 307.7,521.7Z" fill="#606060" stroke="#606060" stroke-width="0.5"/>
<path d="M313.6,507.3 373.1,391.5 373.1,393.8 313.6,509.6Z" fill="#666666" stroke="#666666" stroke-width="0.5"/>
<path d="M372.9,392.0 384.4,370.2 394.7,351.2 394.7,353.5 384.4,372.5 372.9,394.3Z" fill="#6c6c6c" stroke="#6c6c6c" stroke-width="0.5"/>
<path d="M394.4,351.7 408.6,326.5 408.6,328.8 394.4,353.9Z" fill="#727272" stroke="#727272" stroke-width="0.5"/>
<path d="M408.4,326.9 418.9,309.3 418.9,311.6 408.4,329.2Z" fill="#787878" stroke="#787878" stroke-width="0.5"/>
<path d="M418.7,309.7 428.0,295.1 428.0,297.4 418.7,312.0Z" fill="#7e7e7e" stroke="#7e7e7e" stroke-width="0.5"/>
<path d="M427.7,295.5 436.6,282.6 436.6,284.9 427.7,297.8Z" fill="#848484" stroke="#848484" stroke-width="0.5"/>
<path d="M436.3,283.0 445.9,270.0 445.9,272.3 436.3,285.3Z" fill="#8a8a8a" stroke="#8a8a8a" stroke-width="0.5"/>
<path d="M445.6,270.3 456.4,256.9 456.4,259.2 445.6,272.6Z" fill="#909090" stroke="#909090" stroke-width="0.5"/>
<path d="M456.2,257.2 462.5,249.8 469.4,242.2 469.4,244.5 462.5,252.1 456.2,259.5Z" fill="#969696" stroke="#969696" stroke-width="0.5"/>
<path d="M469.1,242.5 479.9,231.3 492.4,219.0 492.4,221.3 479.9,233.6 469.1,244.8Z" fill="#9c9c9c" stroke="#9c9c9c" stroke-width="0.5"/>
<path d="M492.2,219.3 508.8,203.9 525.2,189.8 525.2,192.1 508.8,206.2 492.2,221.6Z" fill="#a2a2a2" stroke="#a2a2a2" stroke-width="0.5"/>
<path d="M525.0,190.0 540.6,177.6 555.8,166.7 555.8,169.0 540.6,179.9 525.0,192.3Z" fill="#a8a8a8" stroke="#a8a8a8" stroke-width="0.5"/>
<path d="M555.6,166.9 569.1,158.1 583.0,149.9 583.0,152.2 569.1,160.4 555.6,169.2Z" fill="#aeaeae" stroke="#aeaeae" stroke-width="0.5"/>
<path d="M289.4,560.4 296.0,543.7 303.1,527.4 303.1,529.5 296.0,545.9 289.4,562.5Z" fill="#3c3c3c" stroke="#3c3c3c" stroke-width="0.5"/>
<path d="M302.8,527.9 306.8,519.4 306.8,521.5 302.8,530.0Z" fill="#424242" stroke="#424242" stroke-width="0.5"/>
<path d="M306.5,519.9 311.4,509.7 311.4,511.8 306.5,522.0Z" fill="#484848" stroke="#484848" stroke-width="0.5"/>
<path d="M311.2,510.2 318.0,496.4 318.0,498.6 311.2,512.3Z" fill="#4e4e4e" stroke="#4e4e4e" stroke-width="0.5"/>
<path d="M317.8,496.9 365.3,404.5 382.7,371.3 382.7,373.4 365.3,406.6 317.8,499.0Z" fill="#545454" stroke="#545454" stroke-width="0.5"/>
<path d="M382.4,371.7 398.6,342.0 398.6,344.1 382.4,373.9Z" fill="#5a5a5a" stroke="#5a5a5a" stroke-width="0.5"/>
<path d="M398.4,342.4 410.1,321.8 410.1,324.0 398.4,344.6Z" fill="#606060" stroke="#606060" stroke-width="0.5"/>
<path d="M409.9,322.3 419.2,306.8 419.2,308.9 409.9,324.4Z" fill="#666666" stroke="#666666" stroke-width="0.5"/>
<path d="M418.9,307.2 427.0,294.5 427.0,296.6 418.9,309.3Z" fill="#6c6c6c" stroke="#6c6c6c" stroke-width="0.5"/>
<path d="M426.8,294.9 434.4,283.6 434.4,285.8 426.8,297.0Z" fill="#727272" stroke="#727272" stroke-width="0.5"/>
<path d="M434.1,284.0 442.4,272.4 442.4,274.6 434.1,286.1Z" fill="#787878" stroke="#787878" stroke-width="0.5"/>
<path d="M442.2,272.8 451.3,261.0 451.3,263.2 442.2,274.9Z" fill="#7e7e7e" stroke="#7e7e7e" stroke-width="0.5"/>
<path d="M451.0,261.3 461.1,249.3 461.1,251.5 451.0,263.5Z" fill="#848484" stroke="#848484" stroke-width="0.5"/>
<path d="M460.8,249.6 467.4,242.2 474.3,234.9 474.3,237.1 467.4,244.4 460.8,251.8Z" fill="#8a8a8a" stroke="#8a8a8a" stroke-width="0.5"/>
<path d="M474.0,235.2 485.3,223.8 497.8,211.8 497.8,213.9 485.3,225.9 474.0,237.3Z" fill="#909090" stroke="#909090" stroke-width="0.5"/>
<path d="M497.5,212.0 512.0,198.9 526.4,186.7 526.4,188.8 512.0,201.1 497.5,214.2Z" fill="#969696" stroke="#969696" stroke-width="0.5"/>
<path d="M526.2,186.9 540.2,175.9 553.6,166.1 553.6,168.2 540.2,178.0 526.2,189.0Z" fill="#9c9c9c" stroke="#9c9c9c" stroke-width="0.5"/>
<path d="M553.4,166.2 561.2,161.0 569.1,156.0 577.1,151.1 585.7,146.3 585.7,148.4 577.1,153.3 569.1,158.1 561.2,163.1 553.4,168.4Z" fill="#a2a2a2" stroke="#a2a2a2" stroke-width="0.5"/>
<path d="M585.5,146.4 602.4,137.7 620.5,129.2 640.8,120.6 662.9,112.1 662.9,114.2 640.8,122.7 620.5,131.3 602.4,139.8 585.5,148.6Z" fill="#a8a8a8" stroke="#a8a8a8" stroke-width="0.5"/>
<path d="M288.6,560.3 293.8,547.1 298.9,534.8 304.6,522.1 310.7,509.2 310.7,511.2 304.6,524.1 298.9,536.8 293.8,549.1 288.6,562.3Z" fill="#303030" stroke="#303030" stroke-width="0.5"/>
<path d="M310.4,509.7 316.3,497.8 316.3,499.8 310.4,511.7Z" fill="#363636" stroke="#363636" stroke-width="0.5"/>
<path d="M316.1,498.3 375.1,383.7 375.1,385.7 316.1,500.3Z" fill="#3c3c3c" stroke="#3c3c3c" stroke-width="0.5"/>
<path d="M374.8,384.1 392.2,351.6 392.2,353.5 374.8,386.1Z" fill="#424242" stroke="#424242" stroke-width="0.5"/>
<path d="M392.0,352.0 404.0,330.5 404.0,332.4 392.0,354.0Z" fill="#484848" stroke="#484848" stroke-width="0.5"/>
<path d="M403.7,330.9 413.0,314.9 413.0,316.9 403.7,332.9Z" fill="#4e4e4e" stroke="#4e4e4e" stroke-width="0.5"/>
<path d="M412.8,315.3 420.9,302.1 420.9,304.0 412.8,317.3Z" fill="#545454" stroke="#545454" stroke-width="0.5"/>
<path d="M420.6,302.5 427.5,291.8 427.5,293.7 420.6,304.4Z" fill="#5a5a5a" stroke="#5a5a5a" stroke-width="0.5"/>
<path d="M427.3,292.1 434.1,282.0 434.1,284.0 427.3,294.1Z" fill="#606060" stroke="#606060" stroke-width="0.5"/>
<path d="M433.9,282.3 441.2,272.1 441.2,274.1 433.9,284.3Z" fill="#666666" stroke="#666666" stroke-width="0.5"/>
<path d="M441.0,272.4 448.8,262.1 448.8,264.1 441.0,274.4Z" fill="#6c6c6c" stroke="#6c6c6c" stroke-width="0.5"/>
<path d="M448.6,262.4 457.4,251.6 457.4,253.6 448.6,264.4Z" fill="#727272" stroke="#727272" stroke-width="0.5"/>
<path d="M457.1,251.9 467.2,240.5 467.2,242.5 457.1,253.9Z" fill="#787878" stroke="#787878" stroke-width="0.5"/>
<path d="M466.9,240.8 474.0,233.2 481.6,225.4 481.6,227.4 474.0,235.2 466.9,242.8Z" fill="#7e7e7e" stroke="#7e7e7e" stroke-width="0.5"/>
<path d="M481.4,225.7 493.6,213.8 506.1,202.2 506.1,204.2 493.6,215.7 481.4,227.7Z" fill="#848484" stroke="#848484" stroke-width="0.5"/>
<path d="M505.9,202.4 518.6,191.2 531.3,180.7 531.3,182.7 518.6,193.2 505.9,204.4Z" fill="#8a8a8a" stroke="#8a8a8a" stroke-width="0.5"/>
<path d="M531.1,180.9 543.3,171.5 555.1,163.1 555.1,165.1 543.3,173.5 531.1,182.9Z" fill="#909090" stroke="#909090" stroke-width="0.5"/>
<path d="M554.9,163.3 568.8,154.2 583.5,145.5 583.5,147.5 568.8,156.1 554.9,165.2Z" fill="#969696" stroke="#969696" stroke-width="0.5"/>
<path d="M583.3,145.7 596.7,138.5 610.9,131.6 626.1,124.7 642.5,117.9 642.5,119.9 626.1,126.7 610.9,133.5 596.7,140.5 583.3,147.7Z" fill="#9c9c9c" stroke="#9c9c9c" stroke-width="0.5"/>
<path d="M642.3,118.0 661.4,110.6 679.8,104.1 697.4,98.4 715.0,93.3 733.2,88.7 751.5,84.7 770.1,81.2 789.7,78.1 789.7,80.1 770.1,83.2 751.5,86.7 733.2,90.7 715.0,95.3 697.4,100.4 679.8,106.1 661.4,112.6 642.3,120.0Z" fill="#a2a2a2" stroke="#a2a2a2" stroke-width="0.5"/>
<path d="M789.5,78.2 808.6,75.7 829.9,73.3 852.2,71.2 876.2,69.3 941.3,65.0 973.7,63.4 1006.0,62.2 1006.0,64.2 973.7,65.4 941.3,67.0 876.2,71.3 852.2,73.2 829.9,75.3 808.6,77.7 789.5,80.2Z" fill="#a8a8a8" stroke="#a8a8a8" stroke-width="0.5"/>
<path d="M287.9,560.5 293.0,547.1 298.7,533.5 304.6,520.3 311.2,506.3 320.2,488.3 373.6,384.6 373.6,386.5 320.2,490.1 311.2,508.2 304.6,522.1 298.7,535.4 293.0,549.0 287.9,562.3Z" fill="#242424" stroke="#242424" stroke-width="0.5"/>
<path d="M373.4,385.1 389.8,354.2 389.8,356.1 373.4,387.0Z" fill="#2a2a2a" stroke="#2a2a2a" stroke-width="0.5"/>
<path d="M389.5,354.7 401.0,333.8 401.0,335.6 389.5,356.5Z" fill="#303030" stroke="#303030" stroke-width="0.5"/>
<path d="M400.8,334.2 409.9,318.4 409.9,320.3 400.8,336.1Z" fill="#363636" stroke="#363636" stroke-width="0.5"/>
<path d="M409.6,318.9 417.0,306.6 417.0,308.4 409.6,320.7Z" fill="#3c3c3c" stroke="#3c3c3c" stroke-width="0.5"/>
<path d="M416.7,307.0 423.6,296.0 423.6,297.8 416.7,308.8Z" fill="#424242" stroke="#424242" stroke-width="0.5"/>
<path d="M423.3,296.3 429.5,287.0 429.5,288.8 423.3,298.2Z" fill="#484848" stroke="#484848" stroke-width="0.5"/>
<path d="M429.2,287.3 435.3,278.4 435.3,280.2 429.2,289.2Z" fill="#4e4e4e" stroke="#4e4e4e" stroke-width="0.5"/>
<path d="M435.1,278.7 441.7,269.6 441.7,271.4 435.1,280.6Z" fill="#545454" stroke="#545454" stroke-width="0.5"/>
<path d="M441.5,269.9 448.6,260.6 448.6,262.4 441.5,271.8Z" fill="#5a5a5a" stroke="#5a5a5a" stroke-width="0.5"/>
<path d="M448.3,260.9 455.9,251.5 455.9,253.4 448.3,262.8Z" fill="#606060" stroke="#606060" stroke-width="0.5"/>
<path d="M455.7,251.8 464.5,241.6 464.5,243.5 455.7,253.7Z" fill="#666666" stroke="#666666" stroke-width="0.5"/>
<path d="M464.2,241.9 475.5,229.8 475.5,231.7 464.2,243.8Z" fill="#6c6c6c" stroke="#6c6c6c" stroke-width="0.5"/>
<path d="M475.3,230.1 484.1,221.2 493.9,211.7 493.9,213.5 484.1,223.0 475.3,231.9Z" fill="#727272" stroke="#727272" stroke-width="0.5"/>
<path d="M493.6,211.9 505.1,201.2 516.4,191.3 516.4,193.1 505.1,203.1 493.6,213.8Z" fill="#787878" stroke="#787878" stroke-width="0.5"/>
<path d="M516.2,191.5 527.7,181.8 538.7,173.1 538.7,175.0 527.7,183.7 516.2,193.3Z" fill="#7e7e7e" stroke="#7e7e7e" stroke-width="0.5"/>
<path d="M538.4,173.3 549.2,165.3 559.8,158.1 559.8,160.0 549.2,167.2 538.4,175.2Z" fill="#848484" stroke="#848484" stroke-width="0.5"/>
<path d="M559.5,158.3 572.7,149.9 586.4,142.1 586.4,143.9 572.7,151.8 559.5,160.1Z" fill="#8a8a8a" stroke="#8a8a8a" stroke-width="0.5"/>
<path d="M586.2,142.2 598.4,135.8 611.2,129.6 624.7,123.5 639.3,117.4 639.3,119.2 624.7,125.4 611.2,131.4 598.4,137.6 586.2,144.1Z" fill="#909090" stroke="#909090" stroke-width="0.5"/>
<path d="M639.1,117.5 654.3,111.5 669.0,106.0 683.4,101.0 697.4,96.6 711.6,92.4 725.8,88.7 740.3,85.3 754.7,82.2 754.7,84.1 740.3,87.1 725.8,90.5 711.6,94.3 697.4,98.4 683.4,102.9 669.0,107.9 654.3,113.3 639.1,119.3Z" fill="#969696" stroke="#969696" stroke-width="0.5"/>
<path d="M754.5,82.3 775.5,78.5 798.1,75.2 823.8,72.1 851.7,69.4 887.2,66.6 937.4,63.3 971.7,61.6 1006.0,60.3 1006.0,62.2 971.7,63.5 937.4,65.2 887.2,68.5 851.7,71.2 823.8,73.9 798.1,77.0 775.5,80.3 754.5,84.1Z" fill="#9c9c9c" stroke="#9c9c9c" stroke-width="0.5"/>
<path d="M287.4,560.1 293.8,543.6 300.4,527.9 307.5,512.3 315.8,495.2 362.8,403.7 377.5,375.5 394.2,344.4 408.9,318.4 408.9,320.1 394.2,346.1 377.5,377.2 362.8,405.4 315.8,496.9 307.5,514.0 300.4,529.6 293.8,545.3 287.4,561.8Z" fill="#1e1e1e" stroke="#1e1e1e" stroke-width="0.5"/>
<path d="M408.6,318.8 415.7,306.9 415.7,308.6 408.6,320.5Z" fill="#242424" stroke="#242424" stroke-width="0.5"/>
<path d="M415.5,307.3 421.6,297.3 421.6,299.0 415.5,309.0Z" fill="#2a2a2a" stroke="#2a2a2a" stroke-width="0.5"/>
<path d="M421.4,297.7 427.0,288.9 427.0,290.7 421.4,299.4Z" fill="#303030" stroke="#303030" stroke-width="0.5"/>
<path d="M426.8,289.3 432.2,281.3 432.2,283.0 426.8,291.0Z" fill="#363636" stroke="#363636" stroke-width="0.5"/>
<path d="M431.9,281.6 437.8,273.2 437.8,275.0 431.9,283.3Z" fill="#3c3c3c" stroke="#3c3c3c" stroke-width="0.5"/>
<path d="M437.5,273.6 443.4,265.6 443.4,267.3 437.5,275.3Z" fill="#424242" stroke="#424242" stroke-width="0.5"/>
<path d="M443.2,265.9 449.8,257.3 449.8,259.0 443.2,267.6Z" fill="#484848" stroke="#484848" stroke-width="0.5"/>
<path d="M449.5,257.6 456.4,249.2 456.4,251.0 449.5,259.4Z" fill="#4e4e4e" stroke="#4e4e4e" stroke-width="0.5"/>
<path d="M456.2,249.5 464.0,240.5 464.0,242.2 456.2,251.2Z" fill="#545454" stroke="#545454" stroke-width="0.5"/>
<path d="M463.7,240.7 473.3,230.4 473.3,232.1 463.7,242.5Z" fill="#5a5a5a" stroke="#5a5a5a" stroke-width="0.5"/>
<path d="M473.1,230.7 488.0,215.6 488.0,217.3 473.1,232.4Z" fill="#606060" stroke="#606060" stroke-width="0.5"/>
<path d="M487.7,215.8 498.0,206.0 508.1,196.9 508.1,198.6 498.0,207.8 487.7,217.6Z" fill="#666666" stroke="#666666" stroke-width="0.5"/>
<path d="M507.8,197.1 518.1,188.1 528.4,179.5 528.4,181.3 518.1,189.8 507.8,198.8Z" fill="#6c6c6c" stroke="#6c6c6c" stroke-width="0.5"/>
<path d="M528.2,179.7 538.0,172.0 547.5,164.9 547.5,166.6 538.0,173.7 528.2,181.5Z" fill="#727272" stroke="#727272" stroke-width="0.5"/>
<path d="M547.3,165.0 557.1,158.2 566.9,151.8 566.9,153.5 557.1,159.9 547.3,166.8Z" fill="#787878" stroke="#787878" stroke-width="0.5"/>
<path d="M566.6,152.0 579.8,144.0 594.0,136.3 594.0,138.0 579.8,145.8 566.6,153.7Z" fill="#7e7e7e" stroke="#7e7e7e" stroke-width="0.5"/>
<path d="M593.8,136.4 606.5,130.1 620.0,123.9 634.5,117.7 650.4,111.3 650.4,113.0 634.5,119.4 620.0,125.6 606.5,131.8 593.8,138.2Z" fill="#848484" stroke="#848484" stroke-width="0.5"/>
<path d="M650.1,111.4 663.6,106.3 676.8,101.5 689.6,97.3 702.3,93.4 715.3,89.7 728.3,86.4 741.5,83.3 754.7,80.5 754.7,82.2 741.5,85.0 728.3,88.1 715.3,91.4 702.3,95.1 689.6,99.0 676.8,103.3 663.6,108.0 650.1,113.1Z" fill="#8a8a8a" stroke="#8a8a8a" stroke-width="0.5"/>
<path d="M754.5,80.6 775.5,76.8 798.1,73.4 823.8,70.4 851.7,67.7 887.2,64.9 937.4,61.6 971.7,59.9 1006.0,58.6 1006.0,60.3 971.7,61.6 937.4,63.3 887.2,66.6 851.7,69.4 823.8,72.1 798.1,75.2 775.5,78.5 754.5,82.3Z" fill="#909090" stroke="#909090" stroke-width="0.5"/>
<path d="M286.7,560.5 293.8,542.0 301.4,524.0 309.7,506.1 319.7,485.9 367.7,392.6 387.8,354.5 398.4,335.3 408.1,318.1 417.2,302.8 425.5,289.6 425.5,291.2 417.2,304.4 408.1,319.7 398.4,336.9 387.8,356.1 367.7,394.2 319.7,487.5 309.7,507.7 301.4,525.6 293.8,543.6 286.7,562.1Z" fill="#181818" stroke="#181818" stroke-width="0.5"/>
<path d="M425.3,290.0 430.2,282.6 430.2,284.2 425.3,291.6Z" fill="#1e1e1e" stroke="#1e1e1e" stroke-width="0.5"/>
<path d="M429.9,282.9 434.8,275.8 434.8,277.4 429.9,284.5Z" fill="#242424" stroke="#242424" stroke-width="0.5"/>
<path d="M434.6,276.1 440.0,268.6 440.0,270.2 434.6,277.7Z" fill="#2a2a2a" stroke="#2a2a2a" stroke-width="0.5"/>
<path d="M439.7,268.9 445.4,261.4 445.4,263.0 439.7,270.5Z" fill="#303030" stroke="#303030" stroke-width="0.5"/>
<path d="M445.1,261.7 451.0,254.2 451.0,255.8 445.1,263.3Z" fill="#363636" stroke="#363636" stroke-width="0.5"/>
<path d="M450.8,254.5 457.1,246.8 457.1,248.4 450.8,256.1Z" fill="#3c3c3c" stroke="#3c3c3c" stroke-width="0.5"/>
<path d="M456.9,247.1 464.0,238.9 464.0,240.5 456.9,248.7Z" fill="#424242" stroke="#424242" stroke-width="0.5"/>
<path d="M463.7,239.1 472.6,229.6 472.6,231.2 463.7,240.7Z" fill="#484848" stroke="#484848" stroke-width="0.5"/>
<path d="M472.3,229.8 484.8,217.1 484.8,218.7 472.3,231.4Z" fill="#4e4e4e" stroke="#4e4e4e" stroke-width="0.5"/>
<path d="M484.6,217.4 502.7,200.1 502.7,201.7 484.6,219.0Z" fill="#545454" stroke="#545454" stroke-width="0.5"/>
<path d="M502.4,200.4 511.7,192.0 521.1,184.0 521.1,185.6 511.7,193.6 502.4,202.0Z" fill="#5a5a5a" stroke="#5a5a5a" stroke-width="0.5"/>
<path d="M520.8,184.2 529.9,176.7 538.7,169.8 538.7,171.4 529.9,178.3 520.8,185.8Z" fill="#606060" stroke="#606060" stroke-width="0.5"/>
<path d="M538.4,170.0 547.0,163.6 555.6,157.6 555.6,159.2 547.0,165.2 538.4,171.6Z" fill="#666666" stroke="#666666" stroke-width="0.5"/>
<path d="M555.3,157.8 564.9,151.5 574.9,145.3 574.9,146.9 564.9,153.1 555.3,159.4Z" fill="#6c6c6c" stroke="#6c6c6c" stroke-width="0.5"/>
<path d="M574.7,145.4 588.4,137.7 603.1,130.1 603.1,131.7 588.4,139.3 574.7,147.0Z" fill="#727272" stroke="#727272" stroke-width="0.5"/>
<path d="M602.9,130.3 616.3,123.9 631.0,117.5 647.4,110.8 664.1,104.5 664.1,106.1 647.4,112.4 631.0,119.1 616.3,125.5 602.9,131.9Z" fill="#787878" stroke="#787878" stroke-width="0.5"/>
<path d="M663.8,104.6 676.3,100.1 688.6,96.0 700.6,92.3 712.6,88.8 724.8,85.6 737.3,82.6 749.8,79.9 762.3,77.5 762.3,79.0 749.8,81.5 737.3,84.2 724.8,87.2 712.6,90.4 700.6,93.9 688.6,97.6 676.3,101.7 663.8,106.2Z" fill="#7e7e7e" stroke="#7e7e7e" stroke-width="0.5"/>
<path d="M762.1,77.5 782.4,74.1 804.4,71.0 829.6,68.2 856.8,65.6 891.1,63.0 937.4,60.0 971.7,58.3 1006.0,57.0 1006.0,58.6 971.7,59.9 937.4,61.6 891.1,64.6 856.8,67.2 829.6,69.8 804.4,72.6 782.4,75.7 762.1,79.1Z" fill="#848484" stroke="#848484" stroke-width="0.5"/>
<path d="M286.2,560.3 291.6,546.0 297.4,531.6 303.6,517.6 310.4,503.0 320.0,484.0 373.9,379.4 393.2,343.1 401.8,327.7 409.9,313.6 417.5,301.0 424.6,289.6 431.4,279.3 438.3,269.5 438.3,271.0 431.4,280.7 424.6,291.1 417.5,302.4 409.9,315.1 401.8,329.2 393.2,344.6 373.9,380.9 320.0,485.4 310.4,504.5 303.6,519.1 297.4,533.1 291.6,547.5 286.2,561.8Z" fill="#181818" stroke="#181818" stroke-width="0.5"/>
<path d="M438.0,269.8 443.2,262.8 443.2,264.3 438.0,271.3Z" fill="#1e1e1e" stroke="#1e1e1e" stroke-width="0.5"/>
<path d="M442.9,263.1 448.3,256.1 448.3,257.6 442.9,264.6Z" fill="#242424" stroke="#242424" stroke-width="0.5"/>
<path d="M448.1,256.4 453.7,249.4 453.7,250.9 448.1,257.9Z" fill="#2a2a2a" stroke="#2a2a2a" stroke-width="0.5"/>
<path d="M453.5,249.7 459.6,242.4 459.6,243.9 453.5,251.2Z" fill="#303030" stroke="#303030" stroke-width="0.5"/>
<path d="M459.3,242.7 466.4,234.7 466.4,236.2 459.3,244.2Z" fill="#363636" stroke="#363636" stroke-width="0.5"/>
<path d="M466.2,234.9 475.0,225.5 475.0,227.0 466.2,236.4Z" fill="#3c3c3c" stroke="#3c3c3c" stroke-width="0.5"/>
<path d="M474.8,225.8 487.5,213.0 487.5,214.5 474.8,227.3Z" fill="#424242" stroke="#424242" stroke-width="0.5"/>
<path d="M487.3,213.2 504.4,197.1 504.4,198.6 487.3,214.7Z" fill="#484848" stroke="#484848" stroke-width="0.5"/>
<path d="M504.2,197.3 521.5,182.1 521.5,183.6 504.2,198.8Z" fill="#4e4e4e" stroke="#4e4e4e" stroke-width="0.5"/>
<path d="M521.3,182.3 529.9,175.3 538.2,168.7 538.2,170.2 529.9,176.7 521.3,183.8Z" fill="#545454" stroke="#545454" stroke-width="0.5"/>
<path d="M538.0,168.9 546.0,162.8 553.9,157.3 553.9,158.8 546.0,164.3 538.0,170.4Z" fill="#5a5a5a" stroke="#5a5a5a" stroke-width="0.5"/>
<path d="M553.6,157.4 562.2,151.7 571.0,146.2 571.0,147.6 562.2,153.2 553.6,158.9Z" fill="#606060" stroke="#606060" stroke-width="0.5"/>
<path d="M570.8,146.3 582.3,139.6 594.5,133.0 594.5,134.5 582.3,141.1 570.8,147.8Z" fill="#666666" stroke="#666666" stroke-width="0.5"/>
<path d="M594.3,133.1 604.3,128.1 614.6,123.2 625.4,118.4 637.1,113.5 637.1,114.9 625.4,119.9 614.6,124.7 604.3,129.5 594.3,134.6Z" fill="#6c6c6c" stroke="#6c6c6c" stroke-width="0.5"/>
<path d="M636.9,113.6 657.7,105.4 677.6,98.2 696.4,92.1 715.5,86.6 715.5,88.0 696.4,93.6 677.6,99.7 657.7,106.8 636.9,115.0Z" fill="#727272" stroke="#727272" stroke-width="0.5"/>
<path d="M715.3,86.6 728.0,83.3 740.7,80.4 753.5,77.7 766.5,75.2 779.7,73.0 793.6,70.9 824.7,67.2 843.9,65.3 863.9,63.6 919.3,59.7 960.9,57.3 1006.0,55.5 1006.0,57.0 960.9,58.8 919.3,61.2 863.9,65.0 843.9,66.8 824.7,68.7 793.6,72.4 779.7,74.5 766.5,76.7 753.5,79.1 740.7,81.8 728.0,84.8 715.3,88.1Z" fill="#787878" stroke="#787878" stroke-width="0.5"/>
<path d="M285.7,560.3 291.6,544.7 297.7,529.6 304.3,514.6 311.4,499.6 319.7,483.0 363.8,397.3 385.9,355.3 395.9,336.8 405.0,320.7 413.3,306.5 421.4,293.2 429.0,281.5 436.3,270.8 444.2,260.1 452.0,250.1 452.0,251.5 444.2,261.5 436.3,272.2 429.0,282.9 421.4,294.6 413.3,307.8 405.0,322.1 395.9,338.2 385.9,356.7 363.8,398.7 319.7,484.4 311.4,501.0 304.3,516.0 297.7,531.0 291.6,546.0 285.7,561.7Z" fill="#181818" stroke="#181818" stroke-width="0.5"/>
<path d="M451.7,250.4 457.1,243.9 457.1,245.3 451.7,251.8Z" fill="#1e1e1e" stroke="#1e1e1e" stroke-width="0.5"/>
<path d="M456.9,244.2 463.0,237.1 463.0,238.5 456.9,245.6Z" fill="#242424" stroke="#242424" stroke-width="0.5"/>
<path d="M462.8,237.4 470.1,229.3 470.1,230.7 462.8,238.8Z" fill="#2a2a2a" stroke="#2a2a2a" stroke-width="0.5"/>
<path d="M469.9,229.6 478.9,220.1 478.9,221.5 469.9,230.9Z" fill="#303030" stroke="#303030" stroke-width="0.5"/>
<path d="M478.7,220.4 492.9,206.4 492.9,207.8 478.7,221.8Z" fill="#363636" stroke="#363636" stroke-width="0.5"/>
<path d="M492.6,206.7 508.6,192.0 508.6,193.3 492.6,208.0Z" fill="#3c3c3c" stroke="#3c3c3c" stroke-width="0.5"/>
<path d="M508.3,192.2 524.5,178.3 524.5,179.7 508.3,193.6Z" fill="#424242" stroke="#424242" stroke-width="0.5"/>
<path d="M524.2,178.5 539.7,166.2 539.7,167.6 524.2,179.9Z" fill="#484848" stroke="#484848" stroke-width="0.5"/>
<path d="M539.4,166.4 554.4,155.6 554.4,156.9 539.4,167.8Z" fill="#4e4e4e" stroke="#4e4e4e" stroke-width="0.5"/>
<path d="M554.1,155.7 562.2,150.3 570.3,145.2 570.3,146.6 562.2,151.7 554.1,157.1Z" fill="#545454" stroke="#545454" stroke-width="0.5"/>
<path d="M570.0,145.4 580.6,139.2 591.3,133.3 591.3,134.6 580.6,140.5 570.0,146.8Z" fill="#5a5a5a" stroke="#5a5a5a" stroke-width="0.5"/>
<path d="M591.1,133.4 608.0,124.9 626.4,116.6 626.4,118.0 608.0,126.3 591.1,134.8Z" fill="#606060" stroke="#606060" stroke-width="0.5"/>
<path d="M626.1,116.7 643.3,109.6 661.4,102.6 678.3,96.6 694.7,91.2 694.7,92.6 678.3,97.9 661.4,104.0 643.3,111.0 626.1,118.1Z" fill="#666666" stroke="#666666" stroke-width="0.5"/>
<path d="M694.5,91.3 710.1,86.7 726.0,82.4 742.2,78.6 758.4,75.3 774.5,72.4 791.7,69.8 810.3,67.4 830.9,65.2 830.9,66.5 810.3,68.8 791.7,71.2 774.5,73.8 758.4,76.7 742.2,80.0 726.0,83.8 710.1,88.0 694.5,92.7Z" fill="#6c6c6c" stroke="#6c6c6c" stroke-width="0.5"/>
<path d="M830.6,65.2 849.5,63.4 869.3,61.7 926.1,57.8 964.8,55.8 1006.0,54.2 1006.0,55.5 964.8,57.1 926.1,59.2 869.3,63.1 849.5,64.8 830.6,66.6Z" fill="#727272" stroke="#727272" stroke-width="0.5"/>
<path d="M285.2,560.4 291.3,544.0 297.9,527.8 304.8,512.3 312.6,495.9 320.2,480.8 369.7,384.7 383.9,357.7 396.1,335.1 406.2,317.3 415.3,301.9 423.8,288.1 432.2,275.5 440.7,263.4 449.3,252.2 458.1,241.4 467.4,230.9 467.4,232.2 458.1,242.7 449.3,253.5 440.7,264.7 432.2,276.8 423.8,289.4 415.3,303.2 406.2,318.6 396.1,336.4 383.9,359.0 369.7,386.0 320.2,482.1 312.6,497.2 304.8,513.6 297.9,529.1 291.3,545.3 285.2,561.6Z" fill="#181818" stroke="#181818" stroke-width="0.5"/>
<path d="M467.2,231.2 475.0,222.9 475.0,224.1 467.2,232.5Z" fill="#1e1e1e" stroke="#1e1e1e" stroke-width="0.5"/>
<path d="M474.8,223.1 485.3,212.5 485.3,213.8 474.8,224.4Z" fill="#242424" stroke="#242424" stroke-width="0.5"/>
<path d="M485.1,212.7 499.7,198.7 499.7,200.0 485.1,214.0Z" fill="#2a2a2a" stroke="#2a2a2a" stroke-width="0.5"/>
<path d="M499.5,198.9 514.4,185.5 514.4,186.8 499.5,200.2Z" fill="#303030" stroke="#303030" stroke-width="0.5"/>
<path d="M514.2,185.7 529.1,173.2 529.1,174.5 514.2,187.0Z" fill="#363636" stroke="#363636" stroke-width="0.5"/>
<path d="M528.9,173.4 543.3,162.2 543.3,163.4 528.9,174.7Z" fill="#3c3c3c" stroke="#3c3c3c" stroke-width="0.5"/>
<path d="M543.1,162.3 556.8,152.6 556.8,153.9 543.1,163.6Z" fill="#424242" stroke="#424242" stroke-width="0.5"/>
<path d="M556.6,152.8 572.0,142.9 572.0,144.2 556.6,154.0Z" fill="#484848" stroke="#484848" stroke-width="0.5"/>
<path d="M571.8,143.0 581.8,137.2 592.3,131.4 592.3,132.7 581.8,138.5 571.8,144.3Z" fill="#4e4e4e" stroke="#4e4e4e" stroke-width="0.5"/>
<path d="M592.1,131.6 607.5,123.9 624.2,116.3 624.2,117.6 607.5,125.1 592.1,132.9Z" fill="#545454" stroke="#545454" stroke-width="0.5"/>
<path d="M623.9,116.4 639.1,110.0 655.8,103.4 671.4,97.7 686.9,92.4 686.9,93.7 671.4,99.0 655.8,104.7 639.1,111.3 623.9,117.7Z" fill="#5a5a5a" stroke="#5a5a5a" stroke-width="0.5"/>
<path d="M686.6,92.5 708.7,85.8 731.2,79.9 754.0,74.9 777.2,70.7 777.2,72.0 754.0,76.2 731.2,81.2 708.7,87.1 686.6,93.8Z" fill="#606060" stroke="#606060" stroke-width="0.5"/>
<path d="M777.0,70.8 796.3,67.9 817.9,65.3 841.4,62.8 866.4,60.7 898.7,58.4 937.7,55.9 971.9,54.1 1006.0,52.9 1006.0,54.2 971.9,55.4 937.7,57.1 898.7,59.6 866.4,62.0 841.4,64.1 817.9,66.5 796.3,69.2 777.0,72.0Z" fill="#666666" stroke="#666666" stroke-width="0.5"/>
<path d="M284.7,560.5 291.3,542.8 298.4,525.4 306.0,508.4 314.6,490.7 362.4,397.7 377.8,368.0 394.9,336.1 409.9,309.8 420.2,292.7 429.7,277.9 439.3,264.2 449.1,251.3 459.1,239.1 469.6,227.3 481.4,215.2 494.8,202.1 494.8,203.3 481.4,216.4 469.6,228.5 459.1,240.3 449.1,252.5 439.3,265.4 429.7,279.1 420.2,293.9 409.9,311.0 394.9,337.3 377.8,369.2 362.4,398.9 314.6,491.9 306.0,509.6 298.4,526.6 291.3,544.0 284.7,561.7Z" fill="#181818" stroke="#181818" stroke-width="0.5"/>
<path d="M494.6,202.3 508.3,189.7 508.3,190.9 494.6,203.5Z" fill="#1e1e1e" stroke="#1e1e1e" stroke-width="0.5"/>
<path d="M508.1,189.9 522.3,177.6 522.3,178.8 508.1,191.1Z" fill="#242424" stroke="#242424" stroke-width="0.5"/>
<path d="M522.0,177.8 535.5,166.9 535.5,168.1 522.0,179.0Z" fill="#2a2a2a" stroke="#2a2a2a" stroke-width="0.5"/>
<path d="M535.3,167.1 548.5,157.2 548.5,158.4 535.3,168.3Z" fill="#303030" stroke="#303030" stroke-width="0.5"/>
<path d="M548.2,157.4 561.0,148.6 561.0,149.8 548.2,158.6Z" fill="#363636" stroke="#363636" stroke-width="0.5"/>
<path d="M560.7,148.8 576.2,139.2 576.2,140.4 560.7,150.0Z" fill="#3c3c3c" stroke="#3c3c3c" stroke-width="0.5"/>
<path d="M575.9,139.4 586.0,133.7 596.5,128.1 596.5,129.3 586.0,134.9 575.9,140.6Z" fill="#424242" stroke="#424242" stroke-width="0.5"/>
<path d="M596.2,128.2 611.9,120.6 628.8,113.1 628.8,114.3 611.9,121.8 596.2,129.4Z" fill="#484848" stroke="#484848" stroke-width="0.5"/>
<path d="M628.6,113.2 643.5,107.0 659.2,100.9 674.1,95.5 688.6,90.7 688.6,91.9 674.1,96.7 659.2,102.1 643.5,108.2 628.6,114.4Z" fill="#4e4e4e" stroke="#4e4e4e" stroke-width="0.5"/>
<path d="M688.3,90.7 708.4,84.7 729.0,79.2 749.8,74.5 770.9,70.6 770.9,71.8 749.8,75.7 729.0,80.4 708.4,85.9 688.3,91.9Z" fill="#545454" stroke="#545454" stroke-width="0.5"/>
<path d="M770.6,70.6 790.5,67.5 812.3,64.7 836.5,62.1 862.7,59.8 895.8,57.4 937.4,54.7 971.7,53.0 1006.0,51.7 1006.0,52.9 971.7,54.2 937.4,55.9 895.8,58.6 862.7,61.0 836.5,63.3 812.3,65.9 790.5,68.7 770.6,71.8Z" fill="#5a5a5a" stroke="#5a5a5a" stroke-width="0.5"/>
<path d="M284.5,560.1 291.6,541.1 299.2,522.6 307.5,504.2 317.0,484.7 366.3,389.0 385.1,353.1 395.4,334.1 405.0,317.1 413.8,302.0 421.9,288.9 432.6,272.5 443.7,257.2 454.9,242.9 466.9,229.1 481.1,214.3 498.3,197.7 514.7,183.0 531.1,169.3 531.1,170.4 514.7,184.1 498.3,198.9 481.1,215.4 466.9,230.3 454.9,244.0 443.7,258.3 432.6,273.6 421.9,290.0 413.8,303.1 405.0,318.2 395.4,335.2 385.1,354.2 366.3,390.1 317.0,485.8 307.5,505.3 299.2,523.7 291.6,542.2 284.5,561.2Z" fill="#181818" stroke="#181818" stroke-width="0.5"/>
<path d="M530.9,169.5 543.1,160.0 543.1,161.1 530.9,170.6Z" fill="#1e1e1e" stroke="#1e1e1e" stroke-width="0.5"/>
<path d="M542.9,160.2 554.9,151.6 554.9,152.7 542.9,161.3Z" fill="#242424" stroke="#242424" stroke-width="0.5"/>
<path d="M554.6,151.8 567.3,143.4 567.3,144.5 554.6,152.9Z" fill="#2a2a2a" stroke="#2a2a2a" stroke-width="0.5"/>
<path d="M567.1,143.6 583.0,134.2 583.0,135.3 567.1,144.7Z" fill="#303030" stroke="#303030" stroke-width="0.5"/>
<path d="M582.8,134.3 593.3,128.6 604.6,123.0 604.6,124.1 593.3,129.7 582.8,135.4Z" fill="#363636" stroke="#363636" stroke-width="0.5"/>
<path d="M604.3,123.1 621.7,115.0 641.1,106.9 641.1,108.0 621.7,116.1 604.3,124.2Z" fill="#3c3c3c" stroke="#3c3c3c" stroke-width="0.5"/>
<path d="M640.8,107.0 656.0,101.0 670.7,95.6 684.9,90.7 698.9,86.3 698.9,87.4 684.9,91.9 670.7,96.7 656.0,102.1 640.8,108.1Z" fill="#424242" stroke="#424242" stroke-width="0.5"/>
<path d="M698.6,86.4 719.7,80.5 741.2,75.3 763.0,70.8 785.6,67.1 785.6,68.2 763.0,72.0 741.2,76.4 719.7,81.6 698.6,87.5Z" fill="#484848" stroke="#484848" stroke-width="0.5"/>
<path d="M785.3,67.2 804.7,64.5 826.0,62.1 848.5,59.9 872.8,57.9 905.6,55.6 939.9,53.4 972.9,51.8 1006.0,50.6 1006.0,51.7 972.9,52.9 939.9,54.5 905.6,56.7 872.8,59.0 848.5,61.0 826.0,63.2 804.7,65.6 785.3,68.3Z" fill="#4e4e4e" stroke="#4e4e4e" stroke-width="0.5"/>
<path d="M284.0,560.5 291.6,540.0 299.9,519.9 308.7,500.6 319.5,478.9 369.0,382.7 390.3,342.5 401.3,322.5 411.3,305.1 420.9,289.4 429.7,275.8 436.1,266.5 442.7,257.4 449.3,248.8 455.9,240.7 462.8,232.7 469.9,224.9 477.5,217.0 485.8,208.7 495.8,199.0 505.6,190.0 515.7,181.1 525.5,172.8 535.0,165.2 544.3,158.1 553.6,151.4 562.7,145.4 562.7,146.4 553.6,152.5 544.3,159.1 535.0,166.2 525.5,173.9 515.7,182.1 505.6,191.0 495.8,200.0 485.8,209.7 477.5,218.0 469.9,226.0 462.8,233.8 455.9,241.7 449.3,249.9 442.7,258.5 436.1,267.6 429.7,276.8 420.9,290.4 411.3,306.1 401.3,323.6 390.3,343.5 369.0,383.8 319.5,479.9 308.7,501.6 299.9,520.9 291.6,541.1 284.0,561.5Z" fill="#181818" stroke="#181818" stroke-width="0.5"/>
<path d="M562.4,145.5 575.9,137.2 575.9,138.2 562.4,146.6Z" fill="#1e1e1e" stroke="#1e1e1e" stroke-width="0.5"/>
<path d="M575.7,137.3 584.2,132.5 593.1,127.7 593.1,128.8 584.2,133.5 575.7,138.4Z" fill="#242424" stroke="#242424" stroke-width="0.5"/>
<path d="M592.8,127.8 604.8,121.8 617.6,115.8 617.6,116.9 604.8,122.8 592.8,128.9Z" fill="#2a2a2a" stroke="#2a2a2a" stroke-width="0.5"/>
<path d="M617.3,116.0 639.1,106.6 663.4,97.2 663.4,98.3 639.1,107.7 617.3,117.0Z" fill="#303030" stroke="#303030" stroke-width="0.5"/>
<path d="M663.1,97.3 677.3,92.3 691.0,87.7 704.7,83.6 718.5,79.8 718.5,80.8 704.7,84.6 691.0,88.8 677.3,93.3 663.1,98.4Z" fill="#363636" stroke="#363636" stroke-width="0.5"/>
<path d="M718.2,79.8 734.1,75.8 750.3,72.3 766.5,69.2 783.1,66.4 801.5,63.9 821.8,61.5 843.4,59.3 866.4,57.3 866.4,58.4 843.4,60.3 821.8,62.5 801.5,64.9 783.1,67.5 766.5,70.2 750.3,73.3 734.1,76.9 718.2,80.9Z" fill="#3c3c3c" stroke="#3c3c3c" stroke-width="0.5"/>
<path d="M866.1,57.4 898.7,55.0 937.7,52.5 971.9,50.8 1006.0,49.5 1006.0,50.6 971.9,51.8 937.7,53.5 898.7,56.0 866.1,58.4Z" fill="#424242" stroke="#424242" stroke-width="0.5"/>
<path d="M283.7,560.2 289.6,544.1 295.7,528.7 302.1,513.9 309.2,498.6 319.5,477.9 372.1,375.7 393.0,336.6 402.0,320.3 410.6,305.4 418.4,292.4 426.0,280.4 433.4,269.4 440.7,259.1 448.8,248.5 457.1,238.3 465.7,228.5 475.0,218.5 486.0,207.4 498.5,195.5 510.5,184.6 522.3,174.5 532.8,165.9 543.1,158.0 553.1,150.8 563.2,144.1 573.7,137.5 584.5,131.4 595.8,125.4 607.8,119.4 607.8,120.4 595.8,126.3 584.5,132.3 573.7,138.5 563.2,145.0 553.1,151.8 543.1,159.0 532.8,166.9 522.3,175.5 510.5,185.6 498.5,196.5 486.0,208.4 475.0,219.5 465.7,229.5 457.1,239.3 448.8,249.5 440.7,260.1 433.4,270.4 426.0,281.3 418.4,293.3 410.6,306.4 402.0,321.2 393.0,337.5 372.1,376.6 319.5,478.9 309.2,499.6 302.1,514.9 295.7,529.7 289.6,545.1 283.7,561.1Z" fill="#181818" stroke="#181818" stroke-width="0.5"/>
<path d="M607.5,119.5 623.2,112.4 640.3,105.2 640.3,106.1 623.2,113.3 607.5,120.5Z" fill="#1e1e1e" stroke="#1e1e1e" stroke-width="0.5"/>
<path d="M640.1,105.3 653.3,100.0 666.0,95.3 678.5,90.9 690.5,86.9 690.5,87.9 678.5,91.8 666.0,96.2 653.3,101.0 640.1,106.2Z" fill="#242424" stroke="#242424" stroke-width="0.5"/>
<path d="M690.3,87.0 705.5,82.4 720.7,78.2 736.1,74.4 751.8,71.0 751.8,72.0 736.1,75.4 720.7,79.2 705.5,83.3 690.3,88.0Z" fill="#2a2a2a" stroke="#2a2a2a" stroke-width="0.5"/>
<path d="M751.5,71.1 772.6,67.2 795.4,63.7 821.3,60.6 849.7,57.8 885.7,54.9 937.4,51.6 971.7,49.8 1006.0,48.6 1006.0,49.5 971.7,50.8 937.4,52.5 885.7,55.9 849.7,58.7 821.3,61.5 795.4,64.7 772.6,68.1 751.5,72.0Z" fill="#303030" stroke="#303030" stroke-width="0.5"/>
<path d="M283.2,560.7 289.6,543.2 296.2,526.6 303.3,510.3 311.4,493.1 319.7,476.5 368.0,382.8 381.9,356.1 394.2,333.4 404.5,315.1 413.8,299.1 422.6,284.8 431.2,271.7 439.7,259.6 448.6,247.9 457.6,236.8 467.2,226.0 479.7,212.9 494.6,198.3 509.3,184.8 524.0,172.2 537.7,161.2 551.2,151.3 564.2,142.5 577.9,134.2 593.5,125.6 610.2,117.4 628.1,109.4 648.2,101.1 668.5,93.5 688.1,86.8 707.2,81.0 726.5,75.8 726.5,76.7 707.2,81.9 688.1,87.7 668.5,94.4 648.2,102.0 628.1,110.3 610.2,118.3 593.5,126.5 577.9,135.1 564.2,143.4 551.2,152.2 537.7,162.1 524.0,173.1 509.3,185.7 494.6,199.2 479.7,213.8 467.2,226.9 457.6,237.7 448.6,248.8 439.7,260.4 431.2,272.6 422.6,285.7 413.8,300.0 404.5,316.0 394.2,334.3 381.9,357.0 368.0,383.7 319.7,477.4 311.4,494.0 303.3,511.2 296.2,527.5 289.6,544.1 283.2,561.6Z" fill="#181818" stroke="#181818" stroke-width="0.5"/>
<path d="M726.3,75.9 740.5,72.5 754.9,69.5 769.4,66.8 784.3,64.4 800.5,62.1 818.4,60.0 837.2,58.0 857.3,56.2 857.3,57.1 837.2,58.9 818.4,60.9 800.5,63.0 784.3,65.3 769.4,67.7 754.9,70.4 740.5,73.4 726.3,76.8Z" fill="#1e1e1e" stroke="#1e1e1e" stroke-width="0.5"/>
<path d="M857.1,56.2 891.4,53.6 937.4,50.7 971.7,48.9 1006.0,47.7 1006.0,48.6 971.7,49.8 937.4,51.6 891.4,54.5 857.1,57.1Z" fill="#242424" stroke="#242424" stroke-width="0.5"/>
<path d="M283.0,560.6 290.6,539.8 298.7,520.0 307.2,501.0 317.5,480.0 367.5,382.9 387.8,344.3 398.6,324.6 408.4,307.4 417.7,291.8 426.3,278.3 438.0,261.1 444.2,252.8 450.3,244.9 456.4,237.4 462.8,230.0 469.6,222.5 476.7,215.0 485.5,206.2 495.1,197.0 504.6,188.1 514.0,179.9 523.3,171.9 532.3,164.6 541.1,157.8 550.0,151.3 559.0,145.1 568.1,139.2 577.4,133.6 587.2,128.1 597.5,122.7 608.0,117.6 619.3,112.4 631.0,107.3 644.7,101.7 658.9,96.2 672.4,91.3 685.6,86.8 698.4,82.7 711.4,79.0 724.3,75.5 737.3,72.4 760.1,67.7 783.6,63.7 809.8,60.1 839.9,56.9 877.9,53.8 934.7,50.0 970.0,48.2 1006.0,46.8 1006.0,47.7 970.0,49.0 934.7,50.8 877.9,54.6 839.9,57.8 809.8,61.0 783.6,64.5 760.1,68.5 737.3,73.2 724.3,76.4 711.4,79.8 698.4,83.6 685.6,87.6 672.4,92.1 658.9,97.0 644.7,102.5 631.0,108.1 619.3,113.2 608.0,118.4 597.5,123.6 587.2,129.0 577.4,134.5 568.1,140.1 559.0,145.9 550.0,152.1 541.1,158.6 532.3,165.4 523.3,172.8 514.0,180.7 504.6,189.0 495.1,197.8 485.5,207.0 476.7,215.9 469.6,223.3 462.8,230.9 456.4,238.3 450.3,245.7 444.2,253.6 438.0,261.9 426.3,279.1 417.7,292.7 408.4,308.3 398.6,325.5 387.8,345.1 367.5,383.7 317.5,480.9 307.2,501.8 298.7,520.8 290.6,540.7 283.0,561.4Z" fill="#181818" stroke="#181818" stroke-width="0.5"/>
<path d="M279.3,560.2 283.2,548.6 287.2,537.7 291.3,526.7 295.5,516.4 299.9,506.0 304.3,496.1 309.2,485.7 314.6,474.7 365.5,375.5 385.9,336.8 396.6,317.0 406.4,299.6 415.5,284.2 424.1,270.5 429.9,261.5 435.8,253.0 441.9,244.5 448.1,236.5 454.2,228.9 460.6,221.3 467.2,213.9 474.3,206.4 482.8,197.7 492.4,188.3 502.0,179.4 511.5,170.8 520.8,162.8 530.1,155.1 538.9,148.2 547.8,141.7 556.8,135.3 565.9,129.4 575.2,123.7 585.0,118.1 595.3,112.7 605.8,107.4 617.1,102.2 628.8,97.0 642.5,91.3 657.0,85.7 670.7,80.7 683.9,76.1 696.9,72.0 709.9,68.2 722.9,64.7 736.1,61.5 747.6,58.9 759.1,56.6 770.9,54.5 782.9,52.6 795.6,50.8 809.1,49.0 839.2,45.8 857.6,44.1 877.2,42.6 934.0,38.8 969.5,37.0 1006.0,35.6 1006.0,46.4 969.5,47.8 934.0,49.6 877.2,53.4 857.6,55.0 839.2,56.6 809.1,59.9 795.6,61.6 782.9,63.4 770.9,65.3 759.1,67.5 747.6,69.8 736.1,72.3 722.9,75.5 709.9,79.0 696.9,82.8 683.9,86.9 670.7,91.5 657.0,96.5 642.5,102.2 628.8,107.8 617.1,113.0 605.8,118.2 595.3,123.5 585.0,129.0 575.2,134.5 565.9,140.2 556.8,146.2 547.8,152.5 538.9,159.0 530.1,166.0 520.8,173.6 511.5,181.6 502.0,190.2 492.4,199.2 482.8,208.5 474.3,217.2 467.2,224.8 460.6,232.2 454.2,239.7 448.1,247.3 441.9,255.3 435.8,263.8 429.9,272.3 424.1,281.3 415.5,295.1 406.4,310.4 396.6,327.8 385.9,347.6 365.5,386.3 314.6,485.5 309.2,496.5 304.3,506.9 299.9,516.8 295.5,527.2 291.3,537.6 287.2,548.5 283.2,559.5 279.3,571.0Z" fill="#141414" stroke="#141414" stroke-width="0.5"/>
</g>
<g fill="none" stroke-width="0.95">
<path d="M306.0,560.2 317.8,536.1 360.9,452.3 376.8,421.6 390.3,396.3 403.3,372.9 415.0,352.8 425.8,335.6 436.3,320.0 442.4,311.6 448.6,303.6 454.9,295.7 461.3,288.3 467.9,280.9 475.0,273.4 491.4,257.0 509.5,240.3 518.6,232.4 527.7,224.9 536.2,218.1 544.8,211.6 553.1,205.6 561.5,200.0 570.5,194.3 579.8,188.8 589.4,183.5 599.4,178.3 609.7,173.3 620.7,168.3 632.5,163.2 645.0,158.1 658.0,153.1 670.7,148.4 682.9,144.2 694.9,140.4 706.9,136.8 719.2,133.4 731.4,130.3 743.7,127.5 765.7,123.2 789.0,119.4 815.2,116.1 844.3,113.1 882.1,110.0 937.4,106.4 971.7,104.7 1006.0,103.4" stroke="#929292"/>
<path d="M306.8,553.9 318.3,530.4 362.1,445.2 377.5,415.5 390.8,390.7 403.7,367.4 415.5,347.3 426.3,330.1 436.6,315.0 442.7,306.6 448.8,298.6 455.2,290.7 461.5,283.3 468.4,275.7 475.5,268.1 491.9,251.9 510.0,235.2 519.1,227.3 528.2,219.8 536.7,213.0 545.3,206.5 553.6,200.6 562.0,195.0 571.0,189.3 580.3,183.8 589.9,178.5 599.9,173.4 610.2,168.4 621.2,163.4 633.0,158.3 645.5,153.2 658.5,148.2 670.9,143.6 683.2,139.4 695.2,135.6 707.2,132.0 719.4,128.6 731.7,125.6 743.9,122.8 766.0,118.4 789.2,114.7 815.4,111.3 844.6,108.3 882.1,105.3 937.4,101.7 971.7,100.0 1006.0,98.7" stroke="#8f8f8f"/>
<path d="M320.0,522.7 338.6,486.7" stroke="#8d8d8d"/>
<path d="M357.9,448.9 375.3,415.3 389.5,388.6 402.5,365.1 414.0,345.4 424.6,328.4 434.6,313.4 445.1,299.0 455.9,285.5 462.5,277.8 469.4,270.2 476.7,262.5 484.8,254.4 503.2,237.0 512.5,228.6 521.5,220.9 538.0,207.7 545.8,201.8 553.6,196.2 561.5,190.9 569.3,186.0 577.4,181.1 586.0,176.3 595.0,171.5 604.3,166.8 624.2,157.7 647.4,148.1 671.2,139.2 692.5,132.0 713.3,125.9 734.6,120.5 756.4,115.8 777.2,112.1 799.8,108.9 825.5,105.9 853.2,103.2 888.4,100.5 937.4,97.3 971.7,95.6 1006.0,94.3" stroke="#8d8d8d"/>
<path d="M401.0,363.7 412.6,343.7 423.3,326.2 433.6,310.7 443.9,296.5 454.4,283.2 465.5,270.4 477.5,257.7 491.7,243.6 507.6,228.9 523.5,215.1 538.9,202.8 553.6,192.1 568.1,182.6 583.3,173.7 599.7,165.0 617.1,156.8 635.4,148.8 656.2,140.6 675.8,133.5 694.7,127.3 713.3,121.8 731.9,117.1 751.0,112.8 770.4,109.2 790.2,106.1 812.0,103.3 836.3,100.7 862.5,98.3 895.5,95.9 937.4,93.2 971.7,91.5 1006.0,90.2" stroke="#8b8b8b"/>
<path d="M419.4,328.7 429.7,312.7 440.0,298.0 450.5,284.2 461.5,271.0 473.8,257.7 487.7,243.6 503.4,228.9 518.9,215.3 532.8,203.8 546.3,193.5 559.3,184.5 572.5,176.1 586.7,168.0 601.9,160.1 618.0,152.5 635.4,145.0 654.3,137.5 672.4,130.9 689.8,125.0 706.9,119.8 724.6,115.1 742.2,110.9 760.3,107.2 778.7,104.0 798.1,101.2 819.6,98.6 842.9,96.2 867.6,94.1 899.7,91.8 937.7,89.4 971.9,87.7 1006.0,86.4" stroke="#888888"/>
<path d="M432.6,304.8 442.7,290.8 453.2,277.3 463.7,265.0 475.5,252.4 490.4,237.5 506.1,222.9 521.5,209.5 536.5,197.4 549.2,187.9 561.5,179.5 574.2,171.6 587.7,164.0 601.9,156.6 617.1,149.4 633.5,142.3 651.8,135.0 669.0,128.6 685.6,122.8 701.8,117.8 718.2,113.2 734.9,109.0 751.8,105.4 768.7,102.2 786.5,99.3 805.9,96.7 827.2,94.3 849.7,92.1 873.7,90.1 940.3,85.7 973.2,84.1 1006.0,82.9" stroke="#858585"/>
<path d="M445.6,283.6 455.9,270.8 466.7,258.5 478.4,246.1 492.2,232.6 506.8,218.9 521.3,206.4 535.5,194.9 549.2,184.6 561.2,176.4 573.5,168.7 586.4,161.3 600.2,154.2 614.6,147.3 630.3,140.4 648.2,133.1 665.8,126.4 681.7,120.9 697.1,115.9 712.6,111.4 728.3,107.3 744.2,103.7 760.1,100.4 776.3,97.6 793.6,95.0 812.7,92.6 833.8,90.3 855.9,88.3 879.9,86.4 942.8,82.3 974.4,80.8 1006.0,79.6" stroke="#7a7a7a"/>
<path d="M459.8,263.1 470.1,251.7 481.6,239.8 495.3,226.5 509.3,213.7 522.5,202.3 535.3,192.0 547.8,182.6 560.0,174.1 572.0,166.6 584.5,159.4 597.5,152.5 611.4,145.7 626.9,138.8 643.8,131.8 661.4,125.0 678.5,118.9 693.5,114.0 708.2,109.6 723.1,105.6 738.0,102.0 753.0,98.8 768.2,95.9 784.1,93.3 801.0,91.0 820.3,88.7 841.2,86.5 862.7,84.7 887.4,82.8 946.0,79.1 976.1,77.7 1006.0,76.6" stroke="#6f6f6f"/>
<path d="M479.4,239.2 491.7,227.1 503.9,215.7 516.2,204.9 528.2,194.8 539.7,185.8 550.9,177.5 562.0,170.0 573.2,163.0 585.5,156.0 598.2,149.3 611.7,142.7 625.9,136.4 642.5,129.4 660.2,122.6 676.8,116.6 692.7,111.4 706.7,107.2 720.7,103.4 734.9,99.9 749.1,96.7 763.3,93.9 777.7,91.5 793.2,89.2 809.6,87.1 829.2,84.9 849.7,82.9 870.8,81.2 897.7,79.3 950.4,76.0 978.3,74.7 1006.0,73.7" stroke="#666666"/>
<path d="M514.7,203.5 525.5,194.4 536.0,185.9 546.0,178.4 556.1,171.3 566.1,164.7 576.4,158.5 587.2,152.4 598.4,146.5 611.4,140.2 625.1,134.0 640.3,127.7 656.7,121.2 671.9,115.7 686.6,110.7 701.1,106.2 715.5,102.1 728.3,98.8 741.0,95.8 753.7,93.1 766.7,90.7 779.9,88.5 793.9,86.4 825.0,82.7 844.1,80.8 864.2,79.1 919.5,75.2 960.9,72.8 1006.0,71.1" stroke="#5b5b5b"/>
<path d="M548.2,174.3 557.3,168.0 566.4,162.1 575.7,156.4 585.5,150.9 595.8,145.4 606.3,140.2 617.6,134.9 629.3,129.8 643.0,124.1 657.5,118.5 671.2,113.5 684.4,108.9 697.1,104.9 710.1,101.1 723.1,97.6 736.3,94.4 759.4,89.6 783.1,85.5 809.3,82.0 839.4,78.8 877.4,75.6 934.2,71.8 969.7,70.0 1006.0,68.6" stroke="#4f4f4f"/>
<path d="M582.8,150.1 591.8,145.1 601.1,140.4 610.9,135.7 621.0,131.1 644.0,121.5 668.2,112.2 689.8,104.9 711.1,98.5 732.7,93.0 754.7,88.2 775.8,84.4 798.3,81.1 824.0,78.0 851.9,75.3 887.4,72.6 937.4,69.3 971.7,67.6 1006.0,66.3" stroke="#434343"/>
<path d="M662.6,112.2 678.8,106.4 694.5,101.3 710.1,96.7 725.8,92.5 742.0,88.7 758.1,85.4 774.5,82.5 791.9,79.8 811.0,77.4 832.3,75.0 854.4,73.0 878.4,71.1 942.3,66.9 974.1,65.4 1006.0,64.2" stroke="#393939"/>
<path d="M308.7,559.5 319.0,538.8 365.0,449.2 379.5,421.5 392.0,398.3 404.7,375.4 416.2,355.9 427.0,338.8 437.3,323.7 443.4,315.4 449.8,307.1 456.2,299.3 462.5,291.9 469.4,284.4 476.5,276.9 493.1,260.5 511.3,243.9 520.3,236.0 529.1,228.7 537.7,222.0 546.3,215.6 554.6,209.7 562.7,204.3 571.8,198.6 581.1,193.2 590.6,187.9 600.7,182.8 611.2,177.7 622.2,172.7 633.7,167.8 646.5,162.6 659.2,157.7 671.7,153.1 683.9,148.9 695.9,145.1 707.9,141.6 719.9,138.3 732.2,135.2 744.4,132.4 766.5,128.1 789.5,124.4 815.7,121.1 844.8,118.1 882.3,115.1 937.4,111.4 971.7,109.7 1006.0,108.4" stroke="#969696"/>
</g>
<path d="M276.2,570.1 284.2,546.0 288.4,534.3 292.8,523.0 297.3,512.0 302.0,501.2 312.4,479.2 319.8,464.4 363.4,379.5 383.7,340.8 394.4,321.1 404.2,303.6 413.2,288.1 421.7,274.2 427.7,265.0 433.6,256.1 439.6,247.7 445.8,239.5 451.9,231.7 458.2,224.1 464.7,216.6 471.6,209.2 479.8,200.7 489.0,191.7 498.6,182.5 508.1,173.9 517.4,165.7 526.6,158.0 535.7,150.8 544.4,144.1 553.5,137.6 562.4,131.7 571.7,125.8 581.3,120.2 591.4,114.7 601.9,109.3 612.9,104.1 624.4,98.9 637.8,93.3 652.6,87.4 666.6,82.2 680.1,77.4 693.1,73.2 706.1,69.3 719.3,65.6 732.5,62.3 755.6,57.3 779.2,53.1 805.2,49.5 834.9,46.2 871.6,43.0 925.6,39.3 961.4,37.4 1000.1,35.8" fill="none" stroke="#141414" stroke-width="1.6"/>
<g fill="none">
<path d="M350.2,570.1 369.6,532.4 384.5,504.1 397.7,479.7 409.7,458.7 420.6,440.6 430.9,424.9 441.2,410.2 451.9,396.4 458.3,388.7 464.9,381.2 471.9,373.6 479.3,365.9 497.4,348.3 506.6,339.9 515.7,331.9 532.4,318.0 540.6,311.7 548.5,305.9 556.2,300.4 564.1,295.3 572.1,290.3 580.5,285.4 589.4,280.5 598.7,275.6 608.3,270.9 618.6,266.2 640.9,256.7 665.4,247.3 687.3,239.7 708.5,233.3 730.2,227.6 752.2,222.7 773.0,218.9 795.3,215.5 820.7,212.4 848.3,209.7 884.5,206.8 936.9,203.4 968.5,201.8 1000.1,200.5" stroke="#005a80" stroke-width="3.05"/>
<path d="M337.7,570.0 362.7,521.3 377.6,492.7 391.5,466.8 403.7,444.7 415.2,425.0 425.9,408.0 436.3,392.7 446.8,378.5 453.0,370.6 459.5,363.0 466.2,355.4 473.2,347.9 481.1,339.8 490.0,331.0 508.1,314.2 525.4,299.3 533.9,292.5 542.1,286.2 550.1,280.3 558.0,274.9 566.0,269.7 574.2,264.7 583.1,259.5 592.4,254.5 602.2,249.5 612.3,244.7 622.8,240.0 634.0,235.2 659.0,225.3 681.9,217.2 703.9,210.2 726.4,204.2 749.2,199.0 770.3,195.0 792.8,191.5 818.2,188.3 846.2,185.5 882.4,182.6 935.4,179.1 967.5,177.4 1000.1,176.2" stroke="#9b7198" stroke-width="3.05"/>
<path d="M327.7,570.2 374.1,480.0 387.7,454.4 399.6,432.6 411.5,412.0 422.4,394.1 432.6,378.6 443.1,364.0 449.4,355.8 455.7,348.1 462.1,340.6 469.0,333.0 476.3,325.3 484.3,317.2 502.4,300.0 519.9,284.6 528.7,277.3 537.1,270.6 545.3,264.5 553.3,258.8 561.3,253.3 569.5,248.2 578.4,242.9 587.8,237.6 597.5,232.5 607.6,227.6 618.1,222.7 629.2,217.9 653.9,207.9 677.5,199.3 689.0,195.5 700.3,192.0 711.8,188.7 723.3,185.6 735.0,182.7 746.7,180.1 768.0,176.0 790.6,172.5 816.2,169.2 844.5,166.3 880.8,163.4 934.2,159.8 966.6,158.1 1000.1,156.8" stroke="#8b5a44" stroke-width="3.05"/>
<path d="M319.7,570.1 371.9,468.6 385.0,443.7 396.7,422.3 408.8,400.9 419.9,382.5 430.3,366.4 440.6,351.7 446.8,343.6 453.0,335.7 459.5,328.0 466.0,320.6 473.0,313.1 480.6,305.3 498.1,288.3 515.8,272.5 524.7,265.0 533.3,258.0 541.8,251.5 550.0,245.5 558.0,240.0 566.2,234.7 575.1,229.2 584.4,223.9 594.0,218.7 604.1,213.7 614.6,208.7 625.6,203.8 649.9,193.8 674.3,184.8 686.1,180.8 697.7,177.2 709.3,173.8 721.2,170.6 733.0,167.6 744.9,164.9 766.5,160.7 789.2,157.1 814.7,153.8 843.3,150.8 879.7,147.9 933.4,144.3 966.2,142.6 1000.1,141.2" stroke="#237043" stroke-width="3.05"/>
<path d="M313.2,570.1 368.8,461.7 382.3,436.2 394.1,414.2 406.5,392.2 417.9,373.0 428.4,356.5 438.6,341.7 444.7,333.5 450.9,325.6 457.1,318.0 463.7,310.4 470.6,302.9 477.9,295.3 494.8,278.7 512.7,262.4 521.6,254.8 530.4,247.6 538.9,240.9 547.2,234.7 555.4,229.0 563.5,223.6 572.4,218.0 581.8,212.6 591.4,207.3 601.3,202.3 611.7,197.3 622.5,192.4 634.0,187.5 646.6,182.4 659.3,177.5 671.7,173.0 683.6,168.9 695.5,165.1 707.3,161.6 719.3,158.3 731.4,155.2 743.5,152.5 765.2,148.2 788.0,144.5 813.5,141.2 842.3,138.2 878.6,135.2 932.5,131.6 965.6,129.8 1000.1,128.5" stroke="#ec8a14" stroke-width="3.05"/>
<path d="M308.1,570.0 318.8,548.5 364.0,460.5 378.8,432.2 391.5,408.5 404.3,385.4 415.8,365.8 426.5,348.8 436.8,333.6 443.0,325.2 449.1,317.2 455.4,309.5 461.8,302.0 468.5,294.5 475.5,287.1 491.9,270.9 510.0,254.2 518.9,246.5 527.8,239.1 536.4,232.3 544.9,225.9 553.2,219.9 561.3,214.4 570.2,208.8 579.4,203.3 588.9,198.1 598.9,192.9 609.2,187.9 620.0,182.9 631.4,178.0 643.8,172.9 656.8,167.9 669.3,163.2 681.6,159.0 693.7,155.0 705.7,151.5 717.8,148.1 730.1,145.0 742.3,142.2 764.2,137.8 787.1,134.0 812.7,130.7 841.6,127.6 877.9,124.6 931.9,121.0 965.2,119.3 1000.1,117.9" stroke="#005d91" stroke-width="3.05"/>
</g>
<mask id="mg" maskUnits="userSpaceOnUse" x="0" y="0" width="1000" height="620"><rect width="1000" height="620" fill="#fff"/><path d="M279.3,560.2 283.2,548.6 287.2,537.7 291.3,526.7 295.5,516.4 299.9,506.0 304.3,496.1 309.2,485.7 314.6,474.7 365.5,375.5 385.9,336.8 396.6,317.0 406.4,299.6 415.5,284.2 424.1,270.5 429.9,261.5 435.8,253.0 441.9,244.5 448.1,236.5 454.2,228.9 460.6,221.3 467.2,213.9 474.3,206.4 482.8,197.7 492.4,188.3 502.0,179.4 511.5,170.8 520.8,162.8 530.1,155.1 538.9,148.2 547.8,141.7 556.8,135.3 565.9,129.4 575.2,123.7 585.0,118.1 595.3,112.7 605.8,107.4 617.1,102.2 628.8,97.0 642.5,91.3 657.0,85.7 670.7,80.7 683.9,76.1 696.9,72.0 709.9,68.2 722.9,64.7 736.1,61.5 747.6,58.9 759.1,56.6 770.9,54.5 782.9,52.6 795.6,50.8 809.1,49.0 839.2,45.8 857.6,44.1 877.2,42.6 934.0,38.8 969.5,37.0 1006.0,35.6 1006.0,46.4 969.5,47.8 934.0,49.6 877.2,53.4 857.6,55.0 839.2,56.6 809.1,59.9 795.6,61.6 782.9,63.4 770.9,65.3 759.1,67.5 747.6,69.8 736.1,72.3 722.9,75.5 709.9,79.0 696.9,82.8 683.9,86.9 670.7,91.5 657.0,96.5 642.5,102.2 628.8,107.8 617.1,113.0 605.8,118.2 595.3,123.5 585.0,129.0 575.2,134.5 565.9,140.2 556.8,146.2 547.8,152.5 538.9,159.0 530.1,166.0 520.8,173.6 511.5,181.6 502.0,190.2 492.4,199.2 482.8,208.5 474.3,217.2 467.2,224.8 460.6,232.2 454.2,239.7 448.1,247.3 441.9,255.3 435.8,263.8 429.9,272.3 424.1,281.3 415.5,295.1 406.4,310.4 396.6,327.8 385.9,347.6 365.5,386.3 314.6,485.5 309.2,496.5 304.3,506.9 299.9,516.8 295.5,527.2 291.3,537.6 287.2,548.5 283.2,559.5 279.3,571.0Z" fill="#000" stroke="#000" stroke-width="2"/></mask>
<g fill="none" mask="url(#mg)" opacity="0.45">
<path d="M95.2,66.7 102.3,110.2 109.2,148.1 116.0,181.4 119.5,196.3 122.9,210.1 127.1,225.3 131.8,241.2 137.4,259.0 145.8,284.3 151.6,301.2 156.8,315.7 161.7,328.4 166.2,339.1 170.8,348.9 175.3,357.9 180.0,366.4 185.1,374.6 190.3,382.4 196.0,389.9 201.6,396.7 207.2,402.7 212.8,408.1 218.6,413.0 224.4,417.2 230.4,420.9 236.4,423.9 242.5,426.3 248.7,428.2 254.9,429.4 261.6,430.0 268.4,430.0 275.7,429.3 283.1,427.9 290.9,425.8 299.3,423.0 308.1,419.4 317.6,415.1 327.3,410.1 337.7,404.4 349.1,397.6 361.4,389.9 374.5,381.3 388.4,371.8 432.6,340.2 450.0,328.2 459.6,322.0 469.2,316.1 479.2,310.3 489.5,304.6 504.9,296.7 521.6,288.6 539.4,280.6 557.5,273.0 576.1,265.6 595.2,258.5 614.2,252.0 633.0,245.9 649.5,241.1 665.8,236.7 682.0,232.7 697.9,229.2 714.2,226.0 731.3,223.0 749.2,220.3 768.2,217.8 792.5,215.0 821.1,212.1 852.3,209.3 883.3,206.9 912.8,204.8 942.0,203.1 971.0,201.7 1000.0,200.5" stroke="#005a80" stroke-width="3.05"/>
<path d="M95.2,42.4 102.3,85.8 109.2,123.7 116.0,157.1 119.5,172.0 122.9,185.7 127.1,201.0 131.8,216.9 137.4,234.6 145.8,259.9 151.6,276.8 156.8,291.4 161.7,304.0 166.2,314.8 170.8,324.6 175.3,333.5 180.0,342.0 185.1,350.3 190.3,358.0 196.0,365.5 201.6,372.3 207.2,378.4 212.8,383.7 218.6,388.6 224.4,392.8 230.4,396.5 236.4,399.5 242.5,402.0 248.7,403.8 254.9,405.0 261.6,405.6 268.4,405.6 275.7,404.9 283.1,403.5 290.9,401.4 299.3,398.6 308.1,395.1 317.6,390.8 327.3,385.8 337.7,380.0 349.1,373.2 361.4,365.5 374.5,356.9 388.4,347.4 432.6,315.8 450.0,303.9 459.6,297.6 469.2,291.7 479.2,285.9 489.5,280.3 504.9,272.3 521.6,264.3 539.4,256.3 557.5,248.6 576.1,241.2 595.2,234.2 614.2,227.6 633.0,221.6 649.5,216.7 665.8,212.3 682.0,208.3 697.9,204.8 714.2,201.6 731.3,198.7 749.2,195.9 768.2,193.4 792.5,190.6 821.1,187.8 852.3,185.0 883.3,182.5 912.8,180.4 942.0,178.7 971.0,177.3 1000.0,176.2" stroke="#9b7198" stroke-width="3.05"/>
<path d="M95.2,23.0 102.3,66.5 109.2,104.4 116.0,137.7 119.5,152.6 122.9,166.3 127.1,181.6 131.8,197.5 137.4,215.3 145.8,240.6 151.6,257.5 156.8,272.0 161.7,284.7 166.2,295.4 170.8,305.2 175.3,314.2 180.0,322.7 185.1,330.9 190.3,338.7 196.0,346.2 201.6,353.0 207.2,359.0 212.8,364.4 218.6,369.3 224.4,373.5 230.4,377.2 236.4,380.2 242.5,382.6 248.7,384.5 254.9,385.7 261.6,386.3 268.4,386.3 275.7,385.6 283.1,384.2 290.9,382.1 299.3,379.3 308.1,375.7 317.6,371.4 327.3,366.4 337.7,360.7 349.1,353.9 361.4,346.2 374.5,337.6 388.4,328.1 432.6,296.5 450.0,284.5 459.6,278.3 469.2,272.4 479.2,266.6 489.5,260.9 504.9,253.0 521.6,244.9 539.4,236.9 557.5,229.3 576.1,221.9 595.2,214.8 614.2,208.3 633.0,202.2 649.5,197.4 665.8,192.9 682.0,189.0 697.9,185.5 714.2,182.3 731.3,179.3 749.2,176.6 768.2,174.1 792.5,171.3 821.1,168.4 852.3,165.6 883.3,163.2 912.8,161.1 942.0,159.4 971.0,158.0 1000.0,156.8" stroke="#8b5a44" stroke-width="3.05"/>
<path d="M95.2,7.4 102.3,50.9 109.2,88.8 116.0,122.1 119.5,137.0 122.9,150.8 127.1,166.0 131.8,181.9 137.4,199.7 145.8,225.0 151.6,241.9 156.8,256.4 161.7,269.1 166.2,279.8 170.8,289.6 175.3,298.6 180.0,307.1 185.1,315.3 190.3,323.1 196.0,330.6 201.6,337.4 207.2,343.4 212.8,348.8 218.6,353.7 224.4,357.9 230.4,361.6 236.4,364.6 242.5,367.0 248.7,368.9 254.9,370.1 261.6,370.7 268.4,370.7 275.7,370.0 283.1,368.6 290.9,366.5 299.3,363.7 308.1,360.1 317.6,355.8 327.3,350.8 337.7,345.1 349.1,338.3 361.4,330.6 374.5,322.0 388.4,312.5 432.6,280.9 450.0,268.9 459.6,262.7 469.2,256.8 479.2,251.0 489.5,245.3 504.9,237.4 521.6,229.3 539.4,221.3 557.5,213.7 576.1,206.3 595.2,199.2 614.2,192.7 633.0,186.6 649.5,181.8 665.8,177.4 682.0,173.4 697.9,169.9 714.2,166.7 731.3,163.7 749.2,161.0 768.2,158.5 792.5,155.7 821.1,152.8 852.3,150.0 883.3,147.6 912.8,145.5 942.0,143.8 971.0,142.4 1000.0,141.2" stroke="#237043" stroke-width="3.05"/>
<path d="M95.2,-5.3 102.3,38.1 109.2,76.0 116.0,109.4 119.5,124.3 122.9,138.0 127.1,153.3 131.8,169.2 137.4,186.9 145.8,212.2 151.6,229.2 156.8,243.7 161.7,256.3 166.2,267.1 170.8,276.9 175.3,285.8 180.0,294.3 185.1,302.6 190.3,310.3 196.0,317.8 201.6,324.6 207.2,330.7 212.8,336.0 218.6,340.9 224.4,345.1 230.4,348.8 236.4,351.8 242.5,354.3 248.7,356.1 254.9,357.3 261.6,357.9 268.4,357.9 275.7,357.2 283.1,355.8 290.9,353.7 299.3,350.9 308.1,347.4 317.6,343.1 327.3,338.1 337.7,332.3 349.1,325.5 361.4,317.8 374.5,309.2 388.4,299.7 432.6,268.1 450.0,256.2 459.6,249.9 469.2,244.0 479.2,238.2 489.5,232.6 504.9,224.6 521.6,216.6 539.4,208.6 557.5,200.9 576.1,193.5 595.2,186.5 614.2,179.9 633.0,173.9 649.5,169.0 665.8,164.6 682.0,160.6 697.9,157.1 714.2,153.9 731.3,151.0 749.2,148.2 768.2,145.7 792.5,142.9 821.1,140.1 852.3,137.3 883.3,134.8 912.8,132.7 942.0,131.0 971.0,129.6 1000.0,128.5" stroke="#ec8a14" stroke-width="3.05"/>
<path d="M95.2,-15.9 102.3,27.6 109.2,65.4 116.0,98.8 119.5,113.7 122.9,127.4 127.1,142.7 131.8,158.6 137.4,176.3 145.8,201.7 151.6,218.6 156.8,233.1 161.7,245.7 166.2,256.5 170.8,266.3 175.3,275.2 180.0,283.7 185.1,292.0 190.3,299.7 196.0,307.2 201.6,314.0 207.2,320.1 212.8,325.5 218.6,330.3 224.4,334.5 230.4,338.2 236.4,341.2 242.5,343.7 248.7,345.5 254.9,346.7 261.6,347.4 268.4,347.3 275.7,346.6 283.1,345.2 290.9,343.2 299.3,340.3 308.1,336.8 317.6,332.5 327.3,327.5 337.7,321.7 349.1,314.9 361.4,307.2 374.5,298.6 388.4,289.1 432.6,257.6 450.0,245.6 459.6,239.4 469.2,233.5 479.2,227.7 489.5,222.0 504.9,214.0 521.6,206.0 539.4,198.0 557.5,190.3 576.1,182.9 595.2,175.9 614.2,169.3 633.0,163.3 649.5,158.4 665.8,154.0 682.0,150.0 697.9,146.5 714.2,143.3 731.3,140.4 749.2,137.7 768.2,135.1 792.5,132.4 821.1,129.5 852.3,126.7 883.3,124.2 912.8,122.2 942.0,120.4 971.0,119.0 1000.0,117.9" stroke="#005d91" stroke-width="3.05"/>
</g>
<line x1="129.5" y1="115.8" x2="990" y2="115.8" stroke="#383838" stroke-opacity="0.55" stroke-width="3.9" stroke-dasharray="16.6 7.9"/>
<path d="M95.2,-18.7 102.3,24.8 109.2,62.7 116.0,96.0 119.5,110.9 122.9,124.6 127.1,139.9 131.8,155.8 137.4,173.6 145.8,198.9 151.6,215.8 156.8,230.3 161.7,243.0 166.2,253.7 170.8,263.5 175.3,272.5 180.0,281.0 185.1,289.2 190.3,297.0 196.0,304.5 201.6,311.2 207.2,317.3 212.8,322.7 218.6,327.6 224.4,331.8 230.4,335.4 236.4,338.5 242.5,340.9 248.7,342.7 254.9,344.0 261.6,344.6 268.4,344.6 275.7,343.9 283.1,342.5 290.9,340.4 299.3,337.6 308.1,334.0 317.6,329.7 327.3,324.7 337.7,319.0 349.1,312.2 361.4,304.4 374.5,295.9 388.4,286.3 432.6,254.8 450.0,242.8 459.6,236.6 469.2,230.7 479.2,224.9 489.5,219.2 504.9,211.3 521.6,203.2 539.4,195.2 557.5,187.6 576.1,180.2 595.2,173.1 614.2,166.6 633.0,160.5 649.5,155.7 665.8,151.2 682.0,147.3 697.9,143.7 714.2,140.6 731.3,137.6 749.2,134.9 768.2,132.4 792.5,129.6 821.1,126.7 852.3,123.9 883.3,121.5 912.8,119.4 942.0,117.7 971.0,116.2 1000.0,115.1" fill="none" stroke="#dc2a1c" stroke-width="5.0"/>
<path d="M306.8,570.0 318.2,546.8 362.1,461.4 377.6,431.6 390.6,407.3 403.6,383.9 415.2,364.0 426.0,346.7 436.4,331.5 442.5,323.0 448.7,315.0 454.9,307.3 461.2,299.9 467.9,292.4 474.9,285.0 491.0,269.0 509.1,252.3 518.1,244.4 527.0,236.9 535.8,230.0 544.3,223.5 552.6,217.6 560.8,212.0 569.7,206.4 578.9,200.9 588.3,195.6 598.3,190.4 608.5,185.4 619.3,180.5 630.7,175.5 643.1,170.4 656.1,165.4 668.8,160.7 681.2,156.4 693.3,152.4 705.4,148.8 717.5,145.4 729.8,142.3 742.0,139.5 763.9,135.0 786.8,131.3 812.4,128.0 841.3,124.9 877.6,121.9 931.6,118.3 965.0,116.5 1000.1,115.1" fill="none" stroke="#dc2a1c" stroke-width="5.0"/>
</g>
<g stroke="#000" stroke-width="2" fill="none">
<path d="M129.5,542.3v-12.0M129.5,1.7v12.0M154.0,542.3v-12.0M154.0,1.7v12.0M178.4,542.3v-12.0M178.4,1.7v12.0M202.9,542.3v-24.5M202.9,1.7v24.5M227.4,542.3v-12.0M227.4,1.7v12.0M251.9,542.3v-12.0M251.9,1.7v12.0M276.4,542.3v-12.0M276.4,1.7v12.0M300.9,542.3v-24.5M300.9,1.7v24.5M325.4,542.3v-12.0M325.4,1.7v12.0M349.8,542.3v-12.0M349.8,1.7v12.0M374.3,542.3v-12.0M374.3,1.7v12.0M398.8,542.3v-24.5M398.8,1.7v24.5M423.3,542.3v-12.0M423.3,1.7v12.0M447.8,542.3v-12.0M447.8,1.7v12.0M472.2,542.3v-12.0M472.2,1.7v12.0M496.7,542.3v-24.5M496.7,1.7v24.5M521.2,542.3v-12.0M521.2,1.7v12.0M545.7,542.3v-12.0M545.7,1.7v12.0M570.2,542.3v-12.0M570.2,1.7v12.0M594.7,542.3v-24.5M594.7,1.7v24.5M619.1,542.3v-12.0M619.1,1.7v12.0M643.6,542.3v-12.0M643.6,1.7v12.0M668.1,542.3v-12.0M668.1,1.7v12.0M692.6,542.3v-24.5M692.6,1.7v24.5M717.1,542.3v-12.0M717.1,1.7v12.0M741.6,542.3v-12.0M741.6,1.7v12.0M766.1,542.3v-12.0M766.1,1.7v12.0M790.5,542.3v-24.5M790.5,1.7v24.5M815.0,542.3v-12.0M815.0,1.7v12.0M839.5,542.3v-12.0M839.5,1.7v12.0M864.0,542.3v-12.0M864.0,1.7v12.0M888.5,542.3v-24.5M888.5,1.7v24.5M913.0,542.3v-12.0M913.0,1.7v12.0M937.4,542.3v-12.0M937.4,1.7v12.0M961.9,542.3v-12.0M961.9,1.7v12.0M105.0,8.8h12.0M986.4,8.8h-12.0M105.0,23.2h12.0M986.4,23.2h-12.0M105.0,37.6h24.5M986.4,37.6h-24.5M105.0,52.0h12.0M986.4,52.0h-12.0M105.0,66.4h12.0M986.4,66.4h-12.0M105.0,80.9h12.0M986.4,80.9h-12.0M105.0,95.3h12.0M986.4,95.3h-12.0M105.0,109.7h24.5M986.4,109.7h-24.5M105.0,124.1h12.0M986.4,124.1h-12.0M105.0,138.5h12.0M986.4,138.5h-12.0M105.0,153.0h12.0M986.4,153.0h-12.0M105.0,167.4h12.0M986.4,167.4h-12.0M105.0,181.8h24.5M986.4,181.8h-24.5M105.0,196.2h12.0M986.4,196.2h-12.0M105.0,210.6h12.0M986.4,210.6h-12.0M105.0,225.1h12.0M986.4,225.1h-12.0M105.0,239.5h12.0M986.4,239.5h-12.0M105.0,253.9h24.5M986.4,253.9h-24.5M105.0,268.3h12.0M986.4,268.3h-12.0M105.0,282.7h12.0M986.4,282.7h-12.0M105.0,297.2h12.0M986.4,297.2h-12.0M105.0,311.6h12.0M986.4,311.6h-12.0M105.0,326.0h24.5M986.4,326.0h-24.5M105.0,340.4h12.0M986.4,340.4h-12.0M105.0,354.8h12.0M986.4,354.8h-12.0M105.0,369.3h12.0M986.4,369.3h-12.0M105.0,383.7h12.0M986.4,383.7h-12.0M105.0,398.1h24.5M986.4,398.1h-24.5M105.0,412.5h12.0M986.4,412.5h-12.0M105.0,426.9h12.0M986.4,426.9h-12.0M105.0,441.4h12.0M986.4,441.4h-12.0M105.0,455.8h12.0M986.4,455.8h-12.0M105.0,470.2h24.5M986.4,470.2h-24.5M105.0,484.6h12.0M986.4,484.6h-12.0M105.0,499.0h12.0M986.4,499.0h-12.0M105.0,513.5h12.0M986.4,513.5h-12.0M105.0,527.9h12.0M986.4,527.9h-12.0"/>
</g>
<rect x="105.0" y="1.7" width="881.4" height="540.6" fill="none" stroke="#000" stroke-width="2.2"/>
<text transform="matrix(0.2956 0 0 0.2880 94.58 47.90)" font-size="100" text-anchor="end">0</text>
<text transform="matrix(0.2956 0 0 0.2880 94.58 120.00)" font-size="100" text-anchor="end">10</text>
<rect x="45.1" y="110.15" width="17.5" height="2.1"/>
<text transform="matrix(0.2956 0 0 0.2880 94.58 192.10)" font-size="100" text-anchor="end">20</text>
<rect x="45.1" y="182.25" width="17.5" height="2.1"/>
<text transform="matrix(0.2956 0 0 0.2880 94.58 264.20)" font-size="100" text-anchor="end">30</text>
<rect x="45.1" y="254.35" width="17.5" height="2.1"/>
<text transform="matrix(0.2956 0 0 0.2880 94.58 336.30)" font-size="100" text-anchor="end">40</text>
<rect x="45.1" y="326.45" width="17.5" height="2.1"/>
<text transform="matrix(0.2956 0 0 0.2880 94.58 408.40)" font-size="100" text-anchor="end">50</text>
<rect x="45.1" y="398.55" width="17.5" height="2.1"/>
<text transform="matrix(0.2956 0 0 0.2880 94.58 480.50)" font-size="100" text-anchor="end">60</text>
<rect x="45.1" y="470.65" width="17.5" height="2.1"/>
<text transform="matrix(0.2956 0 0 0.2880 94.58 552.60)" font-size="100" text-anchor="end">70</text>
<rect x="45.1" y="542.75" width="17.5" height="2.1"/>
<text transform="matrix(0.2910 0 0 0.2790 105.00 571.10)" font-size="100" text-anchor="middle">12</text>
<text transform="matrix(0.2910 0 0 0.2790 202.93 571.10)" font-size="100" text-anchor="middle">14</text>
<text transform="matrix(0.2910 0 0 0.2790 300.87 571.10)" font-size="100" text-anchor="middle">16</text>
<text transform="matrix(0.2910 0 0 0.2790 398.80 571.10)" font-size="100" text-anchor="middle">18</text>
<text transform="matrix(0.2910 0 0 0.2790 496.73 571.10)" font-size="100" text-anchor="middle">20</text>
<text transform="matrix(0.2910 0 0 0.2790 594.67 571.10)" font-size="100" text-anchor="middle">22</text>
<text transform="matrix(0.2910 0 0 0.2790 692.60 571.10)" font-size="100" text-anchor="middle">24</text>
<text transform="matrix(0.2910 0 0 0.2790 790.53 571.10)" font-size="100" text-anchor="middle">26</text>
<text transform="matrix(0.2910 0 0 0.2790 888.47 571.10)" font-size="100" text-anchor="middle">28</text>
<text transform="matrix(0.2910 0 0 0.2790 986.40 571.10)" font-size="100" text-anchor="middle">30</text>
<text transform="matrix(0.3139 0 0 0.3100 387.47 611.79)" font-size="100">internuclear distance (a</text>
<text transform="matrix(0.2143 0 0 0.1897 680.04 614.62)" font-size="100">0</text>
<text transform="matrix(0.2769 0 0 0.3100 693.57 611.79)" font-size="100">)</text>
<text transform="matrix(0 -0.3195 0.2800 0 24.20 371.70)" font-size="100">energy/h (THz)</text>
<text transform="matrix(0.3027 0 0 0.2844 230.19 101.83)" font-size="100">energy limit</text>
<rect x="806.5" y="247" width="165" height="281.6" rx="6" fill="#fff" fill-opacity="0.8" stroke="#d6d6d6" stroke-width="2.8"/>
<line x1="815.4" x2="875.8" y1="267.6" y2="267.6" stroke="#dc2a1c" stroke-width="5.0"/>
<text transform="matrix(0.2568 0 0 0.2924 897.20 277.41)" font-size="100">&#936;</text>
<text transform="matrix(0.2458 0 0 0.1925 917.01 281.41)" font-size="100">i</text>
<line x1="815.4" x2="875.8" y1="306.8" y2="306.8" stroke="#005d91" stroke-width="3.05"/>
<text transform="matrix(0.2925 0 0 0.2780 894.87 315.80)" font-size="100">17Hy</text>
<line x1="815.4" x2="875.8" y1="345.9" y2="345.9" stroke="#ec8a14" stroke-width="3.05"/>
<text transform="matrix(0.2925 0 0 0.2780 894.87 354.90)" font-size="100">16Hy</text>
<line x1="815.4" x2="875.8" y1="385.2" y2="385.2" stroke="#237043" stroke-width="3.05"/>
<text transform="matrix(0.2925 0 0 0.2780 894.87 394.20)" font-size="100">15Hy</text>
<line x1="815.4" x2="875.8" y1="424.1" y2="424.1" stroke="#8b5a44" stroke-width="3.05"/>
<text transform="matrix(0.2925 0 0 0.2780 894.87 433.10)" font-size="100">14Hy</text>
<line x1="815.4" x2="875.8" y1="463.0" y2="463.0" stroke="#9b7198" stroke-width="3.05"/>
<text transform="matrix(0.2925 0 0 0.2780 894.87 472.00)" font-size="100">13Hy</text>
<line x1="815.4" x2="875.8" y1="502.2" y2="502.2" stroke="#005a80" stroke-width="3.05"/>
<text transform="matrix(0.2925 0 0 0.2780 894.87 511.20)" font-size="100">12Hy</text>
<text transform="matrix(0.2146 0 0 0.1881 291.04 181.81)" font-size="100">2</text>
<text transform="matrix(0.3551 0 0 0.3015 303.58 192.20)" font-size="100">&#931;</text>
<text transform="matrix(0.2979 0 0 0.2787 323.51 186.39)" font-size="100">+</text>
<text transform="matrix(0.1936 0 0 0.1851 325.41 198.81)" font-size="100">u</text>
<text transform="matrix(0.2146 0 0 0.1881 217.94 494.71)" font-size="100">2</text>
<text transform="matrix(0.3551 0 0 0.3015 230.48 505.10)" font-size="100">&#931;</text>
<text transform="matrix(0.2979 0 0 0.2787 250.41 499.29)" font-size="100">+</text>
<text transform="matrix(0.2273 0 0 0.1781 250.09 512.26)" font-size="100">g</text>
<line x1="342.30" y1="188.70" x2="366.26" y2="209.66" stroke="#000" stroke-width="2.4" stroke-linecap="round"/>
<path d="M371.90,214.60 L363.28,210.78 L366.97,206.57 Z" fill="#000" stroke="#000" stroke-width="0.6" stroke-linejoin="miter"/>
<line x1="269.50" y1="500.50" x2="295.10" y2="500.50" stroke="#000" stroke-width="2.4" stroke-linecap="round"/>
<path d="M302.40,500.50 L293.60,503.10 L293.60,497.90 Z" fill="#000" stroke="#000" stroke-width="0.6" stroke-linejoin="miter"/>
<rect x="211" y="311" width="130" height="44" rx="11" fill="#fff" fill-opacity="0.88"/><text transform="matrix(0.2449 0 0 0.2806 221.90 343.44)" font-size="100" font-style="italic">U</text><text transform="matrix(0.2489 0 0 0.2064 242.05 346.39)" font-size="100">u</text><text transform="matrix(0.2708 0 0 0.2167 242.52 329.75)" font-size="100">(<tspan font-style="italic">n</tspan>,<tspan font-style="italic">l</tspan>)</text><text transform="matrix(0.3308 0 0 0.3256 291.68 343.06)" font-size="100">(<tspan font-style="italic">R</tspan>)</text>
<g transform="translate(368.00,449.00) rotate(-62.50) translate(-278.4,-333)"><rect x="211" y="311" width="130" height="44" rx="11" fill="#fff" fill-opacity="0.88"/><text transform="matrix(0.2449 0 0 0.2806 221.90 343.44)" font-size="100" font-style="italic">U</text><text transform="matrix(0.2432 0 0 0.1795 241.33 346.23)" font-size="100">g</text><text transform="matrix(0.2708 0 0 0.2167 242.52 329.75)" font-size="100">(<tspan font-style="italic">n</tspan>,<tspan font-style="italic">l</tspan>)</text><text transform="matrix(0.3308 0 0 0.3256 291.68 343.06)" font-size="100">(<tspan font-style="italic">R</tspan>)</text></g>
</svg></body></html>
